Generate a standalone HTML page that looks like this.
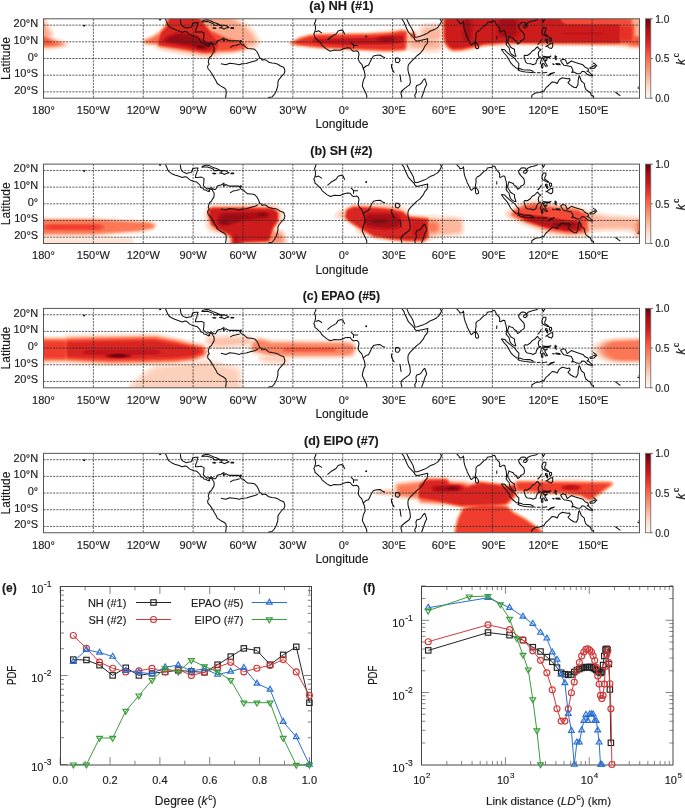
<!DOCTYPE html>
<html><head><meta charset="utf-8"><style>html,body{margin:0;padding:0;background:#fff;width:685px;height:809px;overflow:hidden}svg{display:block;will-change:transform}text{stroke:#1a1a1a;stroke-width:0.15px}</style></head>
<body><svg width="685" height="809" viewBox="0 0 685 809" font-family='"Liberation Sans", sans-serif' fill="#1a1a1a"><defs><linearGradient id="cb" x1="0" y1="0" x2="0" y2="1"><stop offset="0.000" stop-color="#67000d"/><stop offset="0.125" stop-color="#a50f15"/><stop offset="0.250" stop-color="#cb181d"/><stop offset="0.375" stop-color="#ef3b2c"/><stop offset="0.500" stop-color="#fb6a4a"/><stop offset="0.625" stop-color="#fc9272"/><stop offset="0.750" stop-color="#fcbba1"/><stop offset="0.875" stop-color="#fee0d2"/><stop offset="1.000" stop-color="#fff5f0"/></linearGradient><filter id="fblur" x="-5%" y="-20%" width="110%" height="140%"><feGaussianBlur stdDeviation="0.6"/></filter><clipPath id="mapclip"><rect x="43.5" y="0" width="596.0" height="79.4"/></clipPath><clipPath id="ce"><rect x="50" y="578.5" width="270" height="194.0"/></clipPath><clipPath id="cf"><rect x="415" y="580" width="265" height="200"/></clipPath></defs><rect width="685" height="809" fill="#fff"/><g transform="translate(0,18.8)" clip-path="url(#mapclip)"><g filter="url(#fblur)"><path d="M437.5,34.7L419.2,34.6L411.3,33.7L407.6,32.3L405.5,33.6L402.2,34.1L385.5,34.7L322.8,31.7L301.2,29.6L293.3,28.2L289.2,26.8L288.1,25.5L288.0,24.3L290.0,21.7L298.7,17.0L307.8,14.4L317.4,13.1L366.8,12.5L402.6,9.2L406.7,9.5L409.2,11.6L413.0,10.6L416.7,11.5L419.0,7.2L422.5,4.8L432.5,3.5L440.4,3.6L440.5,-3.7L441.7,-6.6L444.6,-8.1L450.6,-8.3L453.0,-10.3L481.1,-10.4L484.9,-8.2L487.8,-10.4L516.9,-10.6L528.2,-10.3L531.0,-8.2L558.8,-8.6L629.9,-5.7L634.1,-4.8L641.5,-4.4L643.6,-3.4L645.2,-1.6L648.2,5.6L652.4,12.6L653.3,15.5L652.8,18.0L665.7,22.4L667.5,23.9L668.0,25.5L667.0,27.6L664.0,29.1L656.1,30.8L647.0,31.6L640.3,31.5L628.2,30.4L625.3,29.6L618.3,29.5L614.5,28.4L523.1,27.6L502.3,28.9L489.9,28.5L481.9,29.7L473.2,32.5L462.0,34.1L454.9,34.6L450.4,33.7L445.4,30.3L442.1,33.5L437.5,34.7ZM212.2,40.1L200.2,39.8L161.1,33.0L157.0,31.2L153.6,28.2L147.4,27.8L143.7,26.6L141.2,24.3L140.7,21.8L142.8,19.4L152.2,15.5L158.2,11.4L163.2,5.6L166.7,-4.5L168.1,-6.6L169.4,-7.5L173.6,-8.2L193.1,-8.2L196.9,-7.8L200.2,-9.0L204.3,-9.3L223.9,-9.2L227.6,-8.6L230.9,-7.2L251.3,7.0L255.6,12.2L260.7,20.1L261.3,23.4L260.4,26.4L257.9,29.1L253.8,31.6L250.9,32.4L247.6,32.5L243.8,34.0L234.3,35.9L220.1,36.7L216.8,39.0L212.2,40.1ZM51.0,31.4L41.8,31.5L29.8,30.4L26.9,29.6L19.8,29.5L16.1,28.4L10.3,28.4L9.9,14.7L10.3,-6.5L32.3,-5.6L35.6,-4.8L42.3,-4.6L45.6,-3.0L47.2,-0.7L49.7,5.6L54.2,13.0L54.8,15.5L54.3,18.0L66.4,22.0L68.6,23.4L69.5,25.1L68.9,27.2L65.9,29.0L58.0,30.8L51.0,31.4Z" fill="#ffebe2" fill-rule="evenodd"/><path d="M455.8,33.9L452.5,33.8L450.0,32.8L444.1,28.2L443.2,30.1L441.6,31.7L436.7,33.2L425.4,33.3L416.7,32.7L411.3,32.0L408.0,30.5L406.7,32.2L404.2,33.3L393.4,34.1L384.3,34.1L317.4,30.7L301.2,29.0L292.4,27.4L289.5,26.2L288.8,24.3L290.8,21.9L299.1,17.5L308.2,14.9L318.2,13.6L368.1,13.1L393.0,11.2L403.8,9.8L407.2,10.4L409.2,12.6L411.7,11.5L415.0,11.7L416.7,12.6L418.0,14.4L419.7,9.3L421.3,7.5L423.4,6.4L435.4,5.0L440.8,5.7L441.3,-4.5L442.5,-6.4L444.1,-7.3L452.9,-7.7L458.0,-10.3L476.8,-10.3L481.5,-7.8L486.5,-7.6L492.7,-10.3L514.8,-10.5L523.1,-10.3L529.3,-7.6L558.8,-7.7L629.5,-4.8L634.1,-3.7L640.7,-3.4L642.8,-2.5L644.3,-0.7L647.1,5.9L651.3,13.0L652.0,15.5L651.4,18.4L664.4,22.8L666.1,24.0L666.6,25.5L665.1,27.6L661.1,29.0L654.4,30.2L644.9,30.8L630.3,29.8L625.3,28.7L619.1,28.6L615.4,27.8L599.2,27.4L520.2,27.0L495.7,27.6L482.7,28.9L463.3,33.3L455.8,33.9ZM211.4,38.9L200.6,38.6L162.4,31.9L158.2,30.4L154.9,27.5L147.8,27.1L144.5,26.2L142.1,24.3L141.5,22.2L143.2,20.0L152.1,16.3L158.3,12.2L163.6,6.2L168.2,-5.7L170.3,-7.2L173.6,-7.6L193.9,-7.5L197.7,-6.5L200.6,-7.3L204.3,-7.6L223.0,-7.6L228.0,-6.9L233.0,-4.3L249.6,7.5L253.8,12.2L259.2,20.5L259.7,23.4L258.8,25.9L256.4,28.4L253.0,30.4L248.0,31.1L243.8,33.2L234.7,35.0L218.9,35.9L215.6,38.0L211.4,38.9ZM51.4,30.5L41.8,30.7L29.8,29.6L26.9,28.7L10.3,27.8L9.9,14.7L10.3,-5.6L32.3,-4.7L35.6,-3.7L42.3,-3.4L44.7,-2.1L46.3,0.1L48.8,6.3L53.2,13.8L53.6,15.9L52.9,18.4L65.5,22.6L67.4,23.9L68.1,25.1L67.6,26.8L65.1,28.3L58.0,29.9L51.4,30.5Z" fill="#fee5d8" fill-rule="evenodd"/><path d="M455.4,33.5L452.0,33.2L448.7,31.6L445.5,28.9L443.3,25.4L442.8,28.0L441.6,29.9L439.6,31.3L437.1,31.9L425.4,32.1L415.5,31.4L410.9,30.5L408.0,28.8L406.7,31.7L404.7,32.8L393.4,33.7L385.5,33.8L317.4,30.3L294.1,27.4L290.4,26.2L289.3,24.3L291.2,22.1L299.1,17.9L308.2,15.3L318.6,14.0L368.1,13.5L391.4,11.9L400.1,10.4L404.2,10.2L407.6,11.2L408.8,14.0L411.3,12.1L415.0,12.3L416.7,13.4L418.0,15.9L419.2,16.1L420.6,10.5L421.9,8.8L423.8,7.7L427.5,6.9L436.2,6.3L439.2,6.6L441.2,7.7L441.7,-4.1L442.5,-5.8L444.1,-6.8L454.1,-7.3L459.5,-8.9L465.7,-9.9L473.2,-9.4L480.7,-7.3L487.8,-7.2L498.2,-9.6L508.6,-10.2L519.4,-9.4L527.7,-7.2L555.9,-7.2L621.2,-4.5L630.3,-4.1L634.1,-2.8L640.3,-2.5L642.0,-1.9L643.5,-0.3L646.3,6.3L650.5,13.4L651.1,15.9L650.2,18.4L653.7,20.1L663.2,23.0L665.1,24.3L665.6,25.5L664.0,27.4L659.8,28.7L654.4,29.7L644.5,30.2L629.1,29.1L625.3,28.0L599.2,27.0L515.6,26.5L497.3,27.1L482.6,28.4L463.3,32.9L455.4,33.5ZM211.0,38.1L200.6,37.7L162.8,31.1L158.6,29.6L155.7,27.1L148.6,26.7L144.9,25.9L142.8,24.3L142.1,22.2L143.7,20.3L152.3,16.8L158.6,12.6L164.0,6.3L168.5,-5.3L170.3,-6.7L173.6,-7.2L193.9,-7.1L196.4,-6.6L198.5,-5.3L201.0,-6.2L204.8,-6.5L223.0,-6.5L228.0,-5.7L233.0,-3.0L249.1,8.4L253.4,13.4L258.2,20.9L258.3,24.3L256.2,27.2L252.1,29.5L248.0,30.0L244.7,32.4L232.6,34.7L218.1,35.4L214.7,37.3L211.0,38.1ZM49.7,30.1L42.3,30.2L30.2,29.0L26.9,28.0L10.3,27.4L9.9,14.7L10.3,-5.0L32.3,-4.0L35.6,-2.8L41.8,-2.5L44.3,-1.2L48.1,6.8L52.3,13.8L52.6,15.9L51.8,18.4L55.2,20.1L64.7,23.0L67.1,25.1L66.4,26.8L63.4,28.2L57.2,29.5L49.7,30.1ZM442.1,22.2L442.2,21.8L442.1,21.3L441.6,21.8L442.1,22.2ZM442.5,23.0L442.5,23.0L442.5,23.0L442.5,23.0Z" fill="#fedccd" fill-rule="evenodd"/><path d="M391.4,33.4L317.8,30.0L294.1,27.1L290.7,25.9L289.8,24.3L291.6,22.2L299.1,18.2L308.2,15.6L318.6,14.3L367.7,13.8L389.7,12.5L400.1,10.7L404.2,10.5L407.2,11.3L408.8,15.1L410.9,12.7L414.2,12.5L416.5,13.8L417.5,16.9L420.4,17.5L420.8,13.8L421.6,11.3L422.9,9.7L425.0,8.6L430.4,7.8L437.5,7.6L440.0,8.5L441.6,10.9L442.0,-3.7L442.9,-5.6L444.6,-6.6L455.4,-6.9L459.9,-8.2L465.7,-8.8L473.2,-8.4L479.5,-6.9L489.4,-6.9L497.3,-8.5L509.4,-8.9L518.9,-8.5L526.0,-6.9L555.9,-6.8L629.5,-3.6L632.0,-3.2L634.1,-2.0L639.9,-1.8L641.5,-1.1L642.8,0.1L645.6,6.8L649.6,13.4L650.2,15.9L649.3,18.4L653.5,20.5L662.3,23.2L664.0,24.3L664.6,25.5L663.0,27.2L658.2,28.6L644.0,29.8L629.5,28.7L625.3,27.5L616.6,27.0L504.0,26.3L486.1,27.6L478.5,28.9L462.8,32.6L454.1,33.2L450.0,31.9L445.8,28.7L443.6,25.1L441.6,18.9L439.7,21.8L441.6,24.2L441.8,27.2L440.5,29.3L438.3,30.5L426.7,31.1L415.0,30.3L410.9,29.3L408.4,26.9L406.9,30.9L405.1,32.3L391.4,33.4ZM212.2,37.2L206.8,37.5L200.6,37.0L163.6,30.6L157.8,28.6L156.1,26.7L149.1,26.4L145.3,25.6L143.2,24.1L142.7,22.2L144.2,20.5L152.4,17.2L158.7,13.0L164.4,6.3L168.6,-4.9L170.7,-6.5L174.0,-6.8L194.4,-6.7L196.9,-6.1L198.9,-4.4L201.4,-5.3L204.8,-5.5L222.6,-5.5L227.6,-4.8L232.6,-2.2L248.4,9.1L252.5,13.8L257.1,20.9L257.3,23.9L255.5,26.5L252.1,28.5L248.0,29.1L246.4,30.9L244.7,31.9L232.2,34.3L217.6,34.8L215.1,36.4L212.2,37.2ZM48.9,29.7L42.7,29.7L31.9,28.8L26.9,27.5L10.3,27.0L10.3,-4.5L31.9,-3.5L35.6,-2.0L41.0,-1.8L43.6,-0.7L44.8,0.9L47.4,7.2L51.4,13.8L51.7,15.9L50.8,18.4L55.0,20.5L63.9,23.2L66.1,25.1L65.3,26.8L62.2,28.0L56.8,29.1L48.9,29.7Z" fill="#fdd0bc" fill-rule="evenodd"/><path d="M458.3,32.6L453.3,32.8L450.0,31.6L445.9,28.4L443.6,24.3L442.1,18.0L442.1,-2.0L442.8,-4.9L444.6,-6.3L456.6,-6.6L460.8,-7.6L465.7,-8.1L472.8,-7.8L478.2,-6.6L491.1,-6.6L498.6,-8.0L513.1,-8.2L519.8,-7.7L524.8,-6.6L555.9,-6.5L563.4,-5.8L630.3,-3.1L632.4,-2.5L634.1,-1.2L639.1,-1.1L641.5,-0.0L645.1,7.6L649.1,14.3L649.1,16.3L648.1,18.0L652.8,20.7L661.9,23.6L663.4,24.7L663.7,25.5L661.9,27.1L657.3,28.3L644.0,29.4L629.5,28.3L625.8,27.0L617.9,26.7L505.2,25.9L484.0,27.6L462.8,32.3L458.3,32.6ZM210.6,36.8L200.6,36.4L163.6,30.0L158.2,28.5L156.1,26.4L145.7,25.4L143.6,23.9L143.2,22.2L144.9,20.6L153.6,16.9L159.0,13.1L164.5,6.8L169.0,-4.9L171.1,-6.3L174.0,-6.5L194.8,-6.4L196.9,-5.7L199.8,-3.3L201.8,-4.3L205.2,-4.6L223.0,-4.5L227.6,-3.8L232.4,-1.2L247.6,9.7L251.4,13.8L256.0,20.9L256.2,23.4L254.6,25.9L251.6,27.6L248.0,28.1L246.3,30.5L244.2,31.7L232.2,34.0L217.6,34.4L213.9,36.2L210.6,36.8ZM49.3,29.3L42.7,29.3L31.9,28.4L29.0,27.9L27.3,27.0L10.3,26.8L10.3,-4.0L31.9,-3.1L33.9,-2.5L35.6,-1.2L40.6,-1.1L43.1,-0.0L46.7,7.6L50.6,14.3L50.7,16.3L49.6,18.0L54.3,20.7L63.1,23.4L65.2,25.1L64.3,26.7L61.4,27.8L49.3,29.3ZM394.7,33.0L383.9,33.1L318.2,29.8L297.0,27.4L291.6,26.1L290.4,25.1L290.2,24.3L292.4,22.0L299.5,18.4L308.7,15.8L318.2,14.6L367.7,14.1L389.7,12.8L400.1,11.0L404.2,10.8L406.3,11.2L407.5,12.2L408.8,16.7L409.4,14.7L410.5,13.4L413.8,12.8L416.3,14.3L417.1,17.9L422.5,19.0L422.9,18.9L421.9,15.9L422.2,13.4L423.2,11.3L425.0,10.0L428.8,9.2L436.2,8.8L438.7,9.5L440.1,10.9L440.8,14.3L440.3,18.4L438.7,20.5L436.4,21.4L439.3,23.0L440.5,25.1L440.2,27.6L438.3,29.2L435.0,29.9L427.1,30.0L414.2,29.0L410.5,27.6L408.8,24.2L408.1,25.1L407.0,30.1L405.6,31.8L402.2,32.5L394.7,33.0Z" fill="#fcc4ad" fill-rule="evenodd"/><path d="M454.5,32.6L450.8,31.8L446.6,28.8L444.3,25.5L442.8,20.5L442.4,16.8L442.4,-2.4L443.1,-4.9L445.0,-6.1L457.0,-6.3L466.2,-7.6L472.0,-7.4L477.8,-6.3L491.1,-6.3L499.4,-7.5L513.1,-7.6L524.3,-6.3L555.9,-6.3L563.4,-5.4L630.3,-2.6L632.4,-2.0L634.1,-0.2L639.1,-0.0L641.1,1.1L644.3,8.0L648.0,14.3L648.1,15.9L647.1,18.0L652.4,20.9L661.3,23.9L662.7,25.5L661.1,26.9L656.5,28.1L644.0,29.0L629.5,27.9L625.8,26.6L505.2,25.7L485.1,27.2L462.8,32.0L454.5,32.6ZM208.9,36.4L199.8,35.8L159.9,28.7L157.8,27.9L156.1,26.0L145.7,25.0L144.1,23.9L143.6,22.6L144.9,21.0L153.1,17.6L159.0,13.6L164.8,6.8L169.0,-4.5L170.7,-5.8L174.0,-6.3L194.8,-6.1L197.3,-5.1L200.2,-2.2L202.6,-3.3L205.6,-3.5L222.6,-3.5L227.2,-2.8L231.7,-0.3L247.0,10.5L250.9,15.0L254.9,21.4L254.9,23.4L253.8,25.1L251.3,26.5L247.6,27.2L246.3,30.0L243.8,31.4L232.2,33.6L217.6,34.1L215.1,35.4L208.9,36.4ZM49.7,28.9L42.7,28.9L31.9,28.0L27.3,26.6L10.3,26.5L10.3,-3.6L31.9,-2.7L33.9,-2.0L35.6,-0.2L40.2,-0.1L42.3,0.7L49.5,14.3L49.6,15.9L48.6,18.0L53.9,20.9L62.2,23.6L64.2,25.1L63.6,26.4L60.5,27.6L49.7,28.9ZM432.5,20.1L427.9,19.9L424.9,18.4L423.7,15.5L424.1,13.4L425.0,12.2L427.5,11.0L432.3,10.5L436.0,10.5L438.0,11.3L439.1,14.3L438.5,18.0L436.7,19.5L432.5,20.1ZM396.3,32.6L384.3,32.9L322.8,29.9L297.8,27.2L292.0,25.9L290.9,25.1L290.7,24.3L292.7,22.2L299.1,18.8L307.8,16.2L314.5,15.3L319.9,14.8L367.7,14.3L389.7,13.0L401.3,11.1L406.3,11.5L407.6,13.0L408.7,20.1L406.7,30.1L405.7,31.4L404.2,32.0L396.3,32.6ZM435.4,28.5L422.1,28.5L415.0,27.9L412.1,27.0L410.9,25.9L410.1,23.9L410.7,20.1L409.3,17.6L409.8,14.7L411.7,13.2L414.2,13.2L415.8,14.3L416.5,15.5L416.3,19.1L433.1,22.2L437.3,23.4L438.7,24.9L438.7,26.7L437.5,27.9L435.4,28.5Z" fill="#fcb89e" fill-rule="evenodd"/><path d="M457.0,32.2L452.9,32.2L449.5,30.8L445.9,27.6L444.0,23.9L442.6,17.6L442.6,-2.0L443.2,-4.5L445.0,-5.8L458.3,-6.1L466.6,-7.1L476.6,-6.1L492.8,-6.1L500.2,-7.1L513.1,-7.1L523.1,-6.1L555.9,-6.0L563.0,-5.0L629.9,-2.3L632.7,-1.2L634.1,1.3L638.2,1.5L640.2,2.6L642.5,8.0L646.2,14.3L646.2,15.9L645.2,17.2L645.6,17.6L651.9,21.1L660.2,23.9L661.4,24.7L661.7,25.5L660.1,26.8L656.1,27.8L644.0,28.6L629.5,27.5L625.8,26.2L505.2,25.4L484.5,27.0L463.3,31.7L457.0,32.2ZM212.2,35.6L207.2,35.9L201.0,35.5L160.3,28.5L157.9,27.6L156.5,25.8L146.2,24.8L144.6,23.9L144.1,22.6L145.3,21.2L153.2,17.9L159.0,14.0L165.1,6.8L169.3,-4.5L171.1,-5.7L173.6,-6.0L195.2,-5.8L197.7,-4.4L201.4,-0.3L202.9,-1.6L205.6,-2.0L222.6,-2.0L226.8,-1.4L231.0,0.9L245.7,11.3L249.2,15.1L253.0,20.9L253.3,22.6L252.7,23.9L250.5,25.2L247.6,25.6L246.4,29.3L244.1,30.9L232.2,33.3L217.2,33.8L215.6,35.0L212.2,35.6ZM50.6,28.5L43.1,28.6L32.3,27.7L29.4,27.2L27.3,26.2L10.3,26.2L10.3,-3.2L31.9,-2.2L34.2,-1.2L35.6,1.3L39.3,1.4L41.3,2.2L47.7,14.3L47.7,15.9L46.8,17.2L47.1,17.6L53.1,20.9L61.4,23.7L63.2,25.1L62.5,26.4L60.1,27.2L50.6,28.5ZM393.9,32.6L384.3,32.7L322.8,29.7L297.8,27.0L292.4,25.8L291.4,25.1L291.1,24.3L293.1,22.2L299.9,18.7L308.2,16.4L317.4,15.2L367.7,14.6L389.7,13.3L401.3,11.3L406.3,11.8L407.5,13.8L407.8,20.5L407.4,26.4L406.3,30.3L405.5,31.2L403.8,31.8L393.9,32.6ZM413.4,20.2L410.9,19.5L409.6,17.2L410.2,14.7L412.6,13.4L415.0,14.0L416.3,16.3L415.7,18.9L413.4,20.2ZM431.7,15.5L431.7,15.5L431.7,15.5L431.7,15.5ZM429.6,26.8L422.9,26.8L415.0,26.0L412.7,24.7L412.2,22.6L413.4,21.0L416.3,20.9L431.3,23.9L434.0,24.7L434.9,25.5L433.8,26.4L429.6,26.8Z" fill="#fcab8f" fill-rule="evenodd"/><path d="M460.8,31.8L454.1,32.1L451.6,31.6L447.4,28.9L444.7,25.1L443.1,19.7L442.8,15.5L442.9,-2.4L443.3,-4.2L444.6,-5.4L459.5,-5.9L466.6,-6.7L476.1,-5.8L492.8,-5.8L500.7,-6.6L512.7,-6.7L522.7,-5.8L555.9,-5.8L559.3,-4.8L563.0,-4.6L629.9,-1.9L632.0,-1.2L633.2,0.5L633.6,4.3L635.0,5.9L635.5,7.6L635.7,16.0L643.6,17.1L651.5,21.4L659.0,23.9L660.7,25.1L659.7,26.4L656.1,27.4L644.0,28.3L629.5,27.1L626.2,25.8L504.8,25.2L483.2,27.0L460.8,31.8ZM213.1,35.1L203.1,35.3L160.3,28.3L158.2,27.5L156.5,25.4L147.2,24.7L145.3,23.9L144.7,22.6L145.9,21.4L153.2,18.3L159.0,14.5L165.1,7.2L168.7,-2.8L170.7,-5.3L174.0,-5.8L194.8,-5.6L198.1,-3.7L210.2,10.4L226.6,18.0L242.2,22.3L245.5,24.1L246.8,25.9L246.8,27.6L246.0,29.3L243.0,30.9L232.2,32.9L217.2,33.4L215.6,34.7L213.1,35.1ZM51.0,28.0L43.5,28.2L32.7,27.3L29.4,26.8L27.7,25.8L10.3,26.0L10.3,-2.8L30.6,-2.0L33.5,-1.2L34.8,0.5L35.2,4.3L36.9,7.2L37.3,16.0L45.2,17.1L53.1,21.4L60.5,23.9L62.2,25.1L61.4,26.3L58.9,27.1L51.0,28.0ZM395.5,32.2L384.3,32.4L323.2,29.5L298.3,26.8L292.9,25.6L291.5,24.3L293.6,22.2L299.9,19.0L308.7,16.6L317.8,15.4L367.7,14.8L389.7,13.5L401.3,11.6L405.9,11.9L407.1,13.0L407.4,15.5L407.3,25.1L406.1,30.1L403.8,31.6L395.5,32.2ZM413.8,19.7L411.7,19.6L410.2,18.0L410.2,15.5L411.7,13.9L414.2,13.9L415.8,15.5L415.8,18.0L413.8,19.7Z" fill="#fc9d7f" fill-rule="evenodd"/><path d="M456.2,31.8L452.5,31.6L448.7,29.7L445.9,26.8L444.2,23.0L443.1,17.6L443.1,-1.6L443.5,-4.1L445.0,-5.3L467.4,-6.3L474.9,-5.6L494.8,-5.6L508.1,-6.3L521.0,-5.6L555.1,-5.6L557.6,-5.3L559.3,-4.5L562.6,-4.2L629.5,-1.5L631.2,-1.1L632.5,0.1L633.2,4.7L634.8,6.8L635.3,16.4L643.6,17.5L651.1,21.6L657.7,23.9L659.5,25.1L658.3,26.4L655.3,27.1L644.0,27.9L629.6,26.8L626.6,25.4L606.6,25.8L504.8,25.0L484.9,26.5L462.8,31.3L456.2,31.8ZM205.2,35.1L160.3,28.1L158.2,27.2L157.0,25.1L147.4,24.3L145.7,23.6L145.3,22.6L146.8,21.4L154.0,18.3L159.0,14.9L165.4,7.2L168.8,-2.4L170.7,-5.0L173.6,-5.5L193.1,-5.5L195.6,-5.2L197.7,-3.8L210.2,10.8L226.4,18.3L243.0,23.2L245.5,24.6L246.4,25.9L246.4,27.6L245.5,29.3L242.2,30.8L231.8,32.6L217.2,33.0L215.9,34.3L213.9,34.8L205.2,35.1ZM51.4,27.6L43.5,27.9L32.7,26.9L29.8,26.5L28.1,25.4L10.3,25.8L10.3,-2.5L30.6,-1.6L33.3,-0.7L34.5,0.9L34.8,4.7L36.0,5.9L36.6,7.6L36.8,16.3L45.2,17.5L52.6,21.6L59.2,23.9L61.0,25.1L60.6,25.9L58.5,26.8L51.4,27.6ZM393.0,32.2L384.3,32.2L323.2,29.2L298.7,26.7L293.3,25.5L291.9,24.3L293.7,22.4L299.9,19.2L308.7,16.8L317.8,15.6L367.7,15.0L390.1,13.7L401.3,11.8L406.0,12.2L407.1,14.3L407.2,22.6L406.8,26.8L405.8,30.1L403.4,31.4L393.0,32.2ZM413.8,19.4L411.7,19.2L410.4,17.6L410.5,15.5L412.1,14.2L414.2,14.3L415.6,15.9L415.4,18.0L413.8,19.4Z" fill="#fc9070" fill-rule="evenodd"/><path d="M460.3,31.4L454.1,31.7L451.6,31.1L447.5,28.3L445.0,24.7L443.6,19.7L443.3,14.7L443.3,-2.4L443.8,-4.1L445.0,-5.0L467.4,-5.9L474.9,-5.4L508.1,-5.9L520.6,-5.4L555.1,-5.4L557.6,-5.1L559.7,-4.0L562.6,-3.8L629.5,-1.1L631.2,-0.6L632.2,0.5L632.8,4.7L634.5,7.2L634.9,16.6L643.6,18.0L650.7,21.8L657.2,24.3L658.2,25.1L657.6,25.9L654.7,26.8L643.6,27.5L629.9,26.4L626.6,25.1L606.6,25.6L505.2,24.7L483.2,26.5L460.3,31.4ZM208.1,34.7L202.7,34.7L179.0,30.5L160.3,27.8L158.2,26.9L157.0,24.6L148.2,24.0L146.6,23.4L146.2,22.6L147.1,21.8L154.0,18.8L159.0,15.5L165.7,7.2L169.0,-2.4L170.7,-4.7L173.6,-5.3L193.1,-5.3L195.6,-4.9L197.5,-3.7L210.2,11.2L226.4,18.7L242.6,23.4L245.1,24.7L246.1,26.4L245.1,29.1L241.7,30.5L231.8,32.3L217.2,32.6L214.7,34.5L208.1,34.7ZM51.4,27.2L43.9,27.5L35.4,26.8L30.6,26.2L28.1,25.1L10.3,25.6L10.3,-2.0L30.2,-1.2L33.1,-0.3L34.1,1.3L34.4,4.7L36.1,7.6L36.4,16.6L45.2,18.0L52.2,21.8L58.7,24.3L59.7,25.1L59.1,25.9L57.6,26.5L51.4,27.2ZM395.1,31.8L384.3,32.0L323.2,29.0L298.7,26.4L293.7,25.3L292.4,24.3L294.1,22.4L300.3,19.3L308.7,17.0L317.8,15.9L367.7,15.3L390.1,13.9L401.3,12.0L405.9,12.5L406.9,14.3L406.9,22.6L405.8,29.7L403.8,31.1L395.1,31.8ZM413.8,19.0L411.8,18.9L410.7,17.6L410.9,15.6L412.1,14.5L414.2,14.7L415.2,15.9L415.0,18.0L413.8,19.0Z" fill="#fc8464" fill-rule="evenodd"/><path d="M455.8,31.4L452.0,31.0L448.4,28.9L445.9,25.9L444.4,22.2L443.5,17.2L443.5,-1.6L443.9,-3.7L445.4,-4.9L507.3,-5.6L555.1,-5.1L557.6,-4.8L559.7,-3.6L562.2,-3.4L629.1,-0.7L631.6,0.5L632.2,2.2L632.3,5.1L634.1,7.2L634.5,17.1L643.5,18.4L656.5,25.1L655.6,25.9L653.8,26.4L643.6,27.0L630.2,25.9L627.0,24.7L621.2,24.6L618.3,25.3L607.5,25.3L505.2,24.5L484.5,26.1L462.8,30.8L455.8,31.4ZM214.3,34.3L203.1,34.5L179.4,30.3L160.7,27.6L158.5,26.8L157.0,24.1L149.5,23.6L147.6,22.6L154.5,19.2L159.0,16.2L160.9,13.0L165.7,7.6L169.3,-2.4L170.9,-4.5L174.0,-5.1L194.6,-4.9L197.7,-3.1L210.2,11.5L225.9,18.9L242.6,23.9L244.8,25.1L245.6,26.4L244.7,28.9L242.2,30.0L231.8,31.9L217.2,32.2L216.0,33.6L214.3,34.3ZM50.6,26.8L43.1,26.9L32.7,26.0L30.2,25.6L28.5,24.7L10.3,25.3L10.3,-1.6L29.8,-0.7L32.7,0.0L33.7,1.8L33.9,5.1L35.2,6.3L35.8,8.0L36.0,17.1L45.0,18.4L58.0,25.1L56.0,26.2L50.6,26.8ZM397.6,31.4L384.3,31.7L323.2,28.8L299.7,26.4L294.5,25.3L292.9,24.3L294.3,22.6L300.3,19.6L309.1,17.2L317.8,16.1L368.1,15.5L390.1,14.2L401.3,12.3L405.5,12.5L406.4,13.4L406.7,15.9L406.6,24.7L405.7,29.3L403.8,30.8L397.6,31.4ZM413.8,18.6L412.1,18.6L411.1,17.6L411.1,15.9L412.1,14.9L413.8,14.9L414.8,15.9L414.8,17.6L413.8,18.6Z" fill="#fb7757" fill-rule="evenodd"/><path d="M458.7,30.9L454.1,31.2L451.5,30.5L447.5,27.6L445.3,24.3L443.8,18.0L443.7,0.5L444.0,-3.3L445.4,-4.6L507.3,-5.2L555.1,-4.9L557.8,-4.5L559.7,-3.1L561.8,-2.9L629.1,-0.1L630.7,0.5L631.4,1.3L631.8,5.5L633.7,7.6L634.1,17.7L642.9,18.9L654.1,25.1L651.4,25.9L643.6,26.4L630.7,25.4L627.8,24.2L621.2,24.2L619.1,25.0L615.8,25.1L504.8,24.3L484.5,25.9L463.2,30.5L458.7,30.9ZM206.8,34.3L203.0,34.3L179.0,30.0L160.3,27.3L158.2,26.0L157.4,23.2L151.6,22.6L151.0,22.2L159.0,17.1L160.9,13.4L166.0,7.6L169.4,-2.2L171.1,-4.3L173.6,-4.8L193.1,-4.8L195.6,-4.4L197.3,-3.2L210.6,12.2L225.9,19.4L242.5,24.3L244.2,25.2L245.0,26.4L244.4,28.4L241.6,29.7L231.8,31.4L217.2,31.7L214.7,33.9L206.8,34.3ZM48.1,26.4L32.7,25.5L30.6,25.1L29.4,24.2L22.7,24.2L19.8,25.1L10.3,25.1L10.3,-1.1L29.8,-0.2L32.3,0.5L33.3,2.2L33.3,5.5L34.5,6.3L35.3,8.0L35.6,17.7L44.4,18.9L55.6,25.1L53.5,25.9L48.1,26.4ZM394.3,31.4L384.3,31.5L323.2,28.5L298.7,25.9L294.5,25.0L293.5,23.9L295.6,22.2L300.9,19.7L308.7,17.5L317.9,16.3L368.1,15.8L390.1,14.5L401.3,12.5L405.5,12.9L406.4,14.7L406.4,22.6L405.4,29.3L403.4,30.6L394.3,31.4ZM413.8,18.1L412.6,18.3L411.6,17.6L411.4,16.3L412.1,15.4L413.4,15.2L414.3,15.9L414.5,17.2L413.8,18.1Z" fill="#fb694a" fill-rule="evenodd"/><path d="M213.5,33.9L203.1,34.0L179.8,29.8L160.3,27.0L158.9,26.4L158.1,25.1L158.0,20.5L160.7,14.2L166.3,7.6L169.4,-1.5L171.1,-4.0L174.0,-4.6L194.8,-4.3L197.6,-2.4L210.6,12.8L225.5,19.8L242.0,24.7L243.8,25.7L244.4,26.8L244.0,28.0L242.6,28.9L234.3,30.5L221.4,31.4L217.2,31.1L215.6,33.2L213.5,33.9ZM454.9,31.0L451.6,30.3L447.9,27.7L445.8,24.7L444.6,20.9L444.0,16.8L444.0,-1.6L444.5,-3.7L445.8,-4.5L555.1,-4.6L557.6,-4.3L560.1,-2.4L561.8,-2.3L628.7,0.5L630.7,1.7L631.0,5.5L632.6,6.8L633.2,8.0L633.7,18.6L642.5,19.7L650.2,24.3L649.0,25.2L643.6,25.5L631.6,24.6L628.2,23.7L621.2,23.7L619.5,24.7L616.6,24.8L504.8,24.0L484.0,25.7L462.4,30.4L454.9,31.0ZM50.6,25.2L42.3,25.4L32.7,24.5L29.8,23.7L22.7,23.7L19.8,24.8L10.3,24.8L10.3,-0.5L29.4,0.4L31.6,0.9L32.7,2.6L32.7,5.9L34.1,6.8L34.9,8.4L35.2,18.6L42.0,19.3L45.1,20.1L51.3,23.9L51.8,24.7L50.6,25.2ZM395.5,31.0L384.3,31.2L323.2,28.2L300.7,25.9L295.4,24.9L294.1,23.9L297.7,21.4L301.9,19.7L309.1,17.8L317.8,16.7L368.1,16.1L385.5,15.2L400.9,12.9L405.1,13.0L406.0,14.3L406.2,17.6L406.0,25.1L405.1,29.2L403.0,30.4L395.5,31.0ZM413.4,17.7L412.0,17.2L412.6,15.8L413.9,16.3L413.4,17.7Z" fill="#f75b40" fill-rule="evenodd"/><path d="M213.9,33.5L203.5,33.8L179.4,29.5L160.7,26.8L159.4,26.4L158.4,25.1L158.3,20.9L161.0,14.3L166.7,7.6L169.8,-1.7L171.2,-3.7L174.0,-4.3L194.6,-4.1L197.3,-2.4L211.0,13.7L224.7,20.3L238.7,24.3L241.9,25.5L243.3,26.8L243.0,27.6L241.3,28.4L232.6,30.0L217.2,30.4L215.8,32.6L213.9,33.5ZM456.6,30.5L452.9,30.5L449.7,28.9L447.0,26.3L445.4,22.8L444.3,17.6L444.3,-0.7L444.6,-3.0L445.8,-4.2L555.9,-4.3L558.2,-3.7L560.5,-1.5L628.2,1.4L629.5,1.9L630.1,3.0L630.1,4.7L629.3,5.9L632.0,7.1L632.8,9.3L632.9,19.7L632.0,22.2L629.5,23.1L621.2,23.1L618.7,24.5L504.8,23.8L484.5,25.3L462.6,30.1L456.6,30.5ZM21.1,24.3L10.3,24.6L10.3,0.4L30.2,1.4L31.4,2.2L31.8,3.4L31.0,5.9L33.1,6.8L34.1,8.0L34.4,19.7L33.6,22.2L31.0,23.1L22.7,23.1L21.1,24.3ZM396.3,30.5L384.3,30.8L323.6,27.9L300.2,25.5L296.0,24.7L294.9,23.9L296.9,22.2L301.7,20.1L309.6,18.0L318.2,17.0L367.7,16.4L389.7,15.1L401.3,13.2L404.9,13.4L405.8,15.1L405.8,22.2L404.8,28.9L403.0,30.0L396.3,30.5Z" fill="#f34c37" fill-rule="evenodd"/><path d="M206.0,33.4L203.1,33.4L179.0,29.1L161.5,26.6L159.1,25.5L158.5,21.8L160.3,16.5L161.9,13.6L166.8,8.0L171.1,-3.1L173.6,-3.9L192.7,-3.9L194.8,-3.7L196.9,-2.3L216.4,20.5L219.3,25.1L218.4,27.6L215.1,32.7L213.5,33.2L206.0,33.4ZM458.7,30.1L454.1,30.3L451.7,29.7L448.3,27.3L446.2,24.2L445.0,20.1L444.6,16.3L444.6,-1.6L445.0,-3.1L445.8,-3.8L555.9,-4.0L558.4,-3.1L562.6,2.2L565.9,4.7L618.3,5.1L619.5,5.3L620.8,7.1L630.3,7.3L631.6,8.1L632.1,9.7L632.1,18.9L631.5,21.4L629.1,22.3L620.8,22.2L619.9,23.7L618.7,24.2L504.8,23.5L484.9,25.0L463.1,29.7L458.7,30.1ZM21.1,24.0L10.3,24.3L10.3,5.1L20.6,5.2L21.8,5.9L22.3,7.1L30.6,7.0L33.1,8.1L33.7,10.1L33.7,17.2L33.0,21.4L30.6,22.3L22.3,22.2L21.1,24.0ZM395.9,30.1L384.3,30.4L323.6,27.4L300.6,25.1L296.0,23.9L298.7,21.8L303.4,20.1L309.9,18.4L318.2,17.4L368.1,16.9L386.0,15.9L400.9,13.7L404.5,13.8L405.3,15.5L405.3,22.2L404.5,28.4L402.6,29.6L395.9,30.1Z" fill="#f03d2d" fill-rule="evenodd"/><path d="M459.9,29.7L452.5,29.6L448.7,27.2L446.6,24.2L445.3,20.1L444.9,16.3L445.0,-1.4L445.3,-2.8L446.2,-3.5L555.7,-3.7L558.1,-2.8L563.4,3.8L566.3,5.3L618.1,5.5L619.9,6.3L620.8,8.8L622.8,8.4L628.7,8.4L630.3,9.3L630.7,10.5L630.8,18.0L630.3,20.1L627.8,21.0L620.8,20.5L619.9,23.1L618.3,23.8L504.8,23.1L482.8,24.9L459.9,29.7ZM205.6,33.0L161.5,26.2L159.5,25.2L158.9,21.8L160.7,16.6L161.9,14.2L167.3,8.0L170.3,-0.7L171.5,-2.8L174.0,-3.5L193.1,-3.5L195.2,-3.0L196.9,-1.7L213.5,18.0L218.4,24.7L218.1,26.9L215.0,32.2L213.1,32.8L205.6,33.0ZM19.4,23.9L10.3,23.9L10.3,5.5L20.2,5.6L21.5,6.3L22.3,8.8L29.4,8.4L31.9,9.3L32.4,15.5L31.9,20.1L29.4,21.0L22.3,20.5L21.5,23.1L19.4,23.9ZM395.9,29.3L384.7,29.6L323.6,26.6L300.5,24.3L298.1,23.4L300.7,21.8L307.8,19.7L318.6,18.2L368.1,17.7L392.6,16.0L400.9,14.5L403.8,14.6L404.5,15.9L404.6,20.5L403.8,27.8L402.3,28.9L395.9,29.3Z" fill="#e53228" fill-rule="evenodd"/><path d="M213.1,32.2L203.1,32.3L180.2,28.2L161.5,25.5L159.7,24.3L159.6,21.4L162.4,14.7L168.0,8.0L170.7,-0.0L172.1,-2.4L174.4,-2.9L193.9,-2.8L196.9,-0.8L217.3,23.9L217.7,25.9L216.4,29.0L215.0,31.4L213.1,32.2ZM457.9,29.3L453.7,29.4L451.2,28.4L448.3,26.0L446.6,22.8L445.6,18.4L445.4,13.0L445.5,-1.2L445.8,-2.4L446.6,-3.0L555.5,-3.2L557.8,-2.4L563.0,4.1L566.3,5.8L617.4,6.0L619.1,6.3L619.8,7.6L619.8,21.4L619.5,22.6L618.3,23.3L504.4,22.6L484.9,24.1L462.9,28.9L457.9,29.3ZM20.6,23.0L10.3,23.4L10.3,6.0L19.4,6.0L21.1,6.8L21.4,20.5L20.6,23.0ZM389.7,26.0L347.3,26.2L322.0,25.3L313.6,24.0L312.1,23.0L311.7,21.8L312.4,20.4L314.5,19.9L371.0,18.6L383.5,16.9L400.1,16.2L402.2,16.4L403.4,17.2L404.0,18.9L403.9,22.2L403.6,23.4L402.6,24.4L389.7,26.0Z" fill="#d92523" fill-rule="evenodd"/><path d="M457.0,28.5L453.7,28.5L451.5,27.6L449.1,25.5L447.5,22.6L446.5,18.4L446.3,13.0L446.3,-0.3L446.6,-1.7L447.5,-2.2L555.1,-2.3L557.4,-1.6L562.6,4.9L565.9,6.6L616.6,6.9L618.4,7.2L619.0,8.4L619.0,20.9L618.7,21.9L617.4,22.5L504.8,21.7L484.5,23.2L462.6,28.0L457.0,28.5ZM19.8,22.2L10.3,22.5L10.3,6.9L18.6,6.9L20.2,7.5L20.5,20.1L19.8,22.2ZM206.4,31.5L198.5,31.3L194.8,29.6L165.7,24.5L162.8,22.6L162.8,20.5L164.0,18.9L166.9,16.8L174.0,13.8L178.2,13.0L187.3,13.4L195.2,15.9L209.7,23.9L212.2,26.4L212.6,28.9L210.6,30.7L206.4,31.5ZM388.9,25.5L347.3,25.7L322.4,24.8L313.7,23.4L312.5,22.6L312.3,21.8L312.8,20.9L314.5,20.4L371.4,19.1L380.1,17.6L388.4,16.9L395.5,17.2L400.9,16.7L403.0,17.6L403.5,21.8L402.3,23.9L388.9,25.5Z" fill="#ce1a1e" fill-rule="evenodd"/><path d="M510.2,19.3L500.9,19.3L498.6,18.5L497.1,17.2L496.4,13.8L496.5,3.4L497.0,0.9L498.6,-0.7L503.2,-1.7L512.3,-1.8L516.1,-1.2L518.6,0.5L519.4,4.7L519.4,13.0L518.9,15.9L517.7,17.5L516.0,18.3L510.2,19.3ZM468.7,23.1L465.7,23.1L463.4,22.2L462.2,20.5L461.6,18.0L461.9,1.8L463.3,-0.4L466.6,-1.5L469.5,-1.3L471.6,-0.4L472.7,0.9L473.2,3.4L472.9,19.3L471.5,21.8L468.7,23.1ZM11.1,15.6L10.3,15.9L10.3,13.5L11.6,14.3L11.1,15.6ZM206.4,31.0L198.8,30.9L196.4,30.2L194.8,29.0L167.6,24.3L164.5,23.0L163.8,20.9L165.0,19.3L167.3,17.6L174.6,14.7L181.5,13.7L188.5,14.7L197.4,18.0L209.9,25.1L211.4,27.2L211.4,28.9L209.9,30.1L206.4,31.0ZM602.1,15.6L566.3,15.8L561.8,15.5L560.1,14.7L563.0,13.7L572.1,13.5L599.2,13.6L602.4,13.8L604.1,14.7L602.1,15.6ZM390.1,24.7L347.7,24.9L322.8,24.1L315.3,23.0L314.1,22.6L313.7,21.8L315.3,21.2L329.0,20.7L371.4,19.8L375.1,19.5L380.3,18.0L388.9,17.3L395.9,17.9L400.9,17.5L402.5,18.4L402.7,21.8L401.7,23.2L390.1,24.7Z" fill="#c2161b" fill-rule="evenodd"/><path d="M510.2,18.5L501.9,18.5L499.8,17.8L498.6,16.8L497.8,13.8L497.8,3.8L498.4,1.3L499.7,0.1L503.6,-0.9L511.9,-1.0L515.3,-0.3L517.4,1.3L518.1,6.3L517.5,15.5L515.2,17.6L510.2,18.5ZM467.8,22.2L465.7,22.1L463.9,20.9L463.1,19.3L462.8,15.9L463.1,2.2L464.6,0.1L467.4,-0.6L469.5,-0.3L471.1,0.9L472.0,5.1L471.7,18.9L470.3,21.2L467.8,22.2ZM206.4,30.5L203.1,30.9L198.6,30.5L196.4,29.8L194.8,28.3L168.2,23.7L165.5,22.6L164.9,20.9L165.7,19.7L168.0,18.0L174.4,15.4L181.1,14.4L187.4,15.1L195.9,18.0L208.7,25.1L210.2,26.8L210.4,28.4L206.4,30.5ZM392.2,23.5L380.1,23.6L376.4,22.5L375.7,20.9L377.5,19.3L383.0,18.2L391.8,17.8L395.8,18.9L396.6,19.7L396.7,21.4L395.1,22.7L392.2,23.5Z" fill="#b61319" fill-rule="evenodd"/><path d="M510.6,17.2L503.2,17.2L501.5,16.7L500.4,15.5L499.8,13.0L499.9,4.3L500.4,2.2L501.8,0.9L505.2,0.2L511.1,0.2L514.0,0.9L515.4,2.2L516.1,5.5L515.7,14.3L514.0,16.3L510.6,17.2ZM468.2,20.3L467.0,20.4L465.6,19.7L464.8,16.3L464.9,3.5L465.7,1.7L467.4,1.1L469.4,2.2L470.1,5.1L470.0,17.2L469.5,19.1L468.2,20.3ZM206.0,30.1L202.7,30.5L198.5,30.1L196.5,29.3L194.8,27.5L169.5,23.0L167.2,22.2L166.5,20.9L167.3,19.7L169.8,18.0L175.7,15.9L181.5,15.2L187.3,15.9L194.8,18.4L207.1,25.1L208.5,26.4L208.9,27.6L206.0,30.1ZM389.7,23.0L380.6,22.8L378.4,22.2L377.5,20.9L378.2,20.1L380.1,19.3L385.5,18.6L391.8,18.6L394.6,19.7L394.9,20.9L394.3,21.8L389.7,23.0Z" fill="#a91016" fill-rule="evenodd"/><path d="M205.2,29.7L198.5,29.6L196.4,28.4L195.6,26.4L172.0,22.2L169.8,21.4L169.4,20.5L172.0,18.4L178.2,16.7L183.1,16.5L189.0,17.6L195.6,20.1L204.5,25.1L206.6,28.0L206.4,29.0L205.2,29.7ZM387.6,22.2L382.6,22.0L380.7,20.9L382.6,20.0L387.2,19.4L390.8,19.7L392.1,20.5L390.7,21.8L387.6,22.2Z" fill="#980c13" fill-rule="evenodd"/><path d="M203.5,29.3L198.2,28.9L197.0,28.0L196.9,26.9L198.9,26.0L203.4,26.8L205.3,28.0L205.0,28.9L203.5,29.3Z" fill="#840711" fill-rule="evenodd"/><path d="M201.4,28.5L199.8,28.3L198.5,27.6L200.2,27.0L202.7,28.0L201.4,28.5Z" fill="#71020e" fill-rule="evenodd"/></g></g><path d="M43.5,25.14H639.5M43.5,41.82H639.5M43.5,58.5H639.5M43.5,75.18H639.5M43.5,91.86H639.5M93.37,18.8V98.2M143.24,18.8V98.2M193.12,18.8V98.2M242.99,18.8V98.2M292.86,18.8V98.2M342.73,18.8V98.2M392.6,18.8V98.2M442.48,18.8V98.2M492.35,18.8V98.2M542.22,18.8V98.2M592.09,18.8V98.2" stroke="#2a2a2a" stroke-width="0.75" stroke-dasharray="2.1,1.1" fill="none"/><g transform="translate(0,18.8)" clip-path="url(#mapclip)"><path d="M165.4,0.1L167.0,3.8L167.7,5.8L169.3,7.8L171.5,9.3L174.8,10.8L178.2,12.0L182.3,13.5L184.8,12.7L186.5,12.8L189.5,15.5L191.5,16.5L193.9,17.3L196.8,18.0L197.6,18.7L199.8,20.9L200.3,21.7L200.1,22.7L201.3,23.7L203.1,24.0L203.9,25.7L205.8,26.0L207.4,26.9L209.1,27.5L209.7,27.0L208.9,26.2L210.4,24.9L212.2,25.7L213.1,27.4L213.9,28.4L214.2,30.5L213.9,33.0L212.2,35.5L211.4,37.2L209.7,38.4L208.9,40.5L208.2,43.0L209.2,45.4L207.6,47.2L207.9,49.7L210.1,52.2L212.2,55.5L214.4,59.4L216.1,62.2L217.2,64.7L220.5,67.1L223.9,68.9L225.9,70.6L226.2,73.9L226.0,76.4L225.5,79.3M159.2,0.1L159.9,1.3L160.7,1.0L160.5,0.1M180.3,0.1L180.6,3.0L181.1,5.5L182.6,7.5L184.8,8.7L186.5,9.3L189.0,8.7L191.0,8.5L192.3,6.7L192.6,4.7L195.6,3.8L198.1,3.8L197.3,5.8L196.8,8.8L195.9,10.5L195.4,13.3L197.3,13.3L201.4,13.0L204.1,14.3L203.9,16.3L203.8,18.9L203.3,21.4L204.8,23.0L207.2,24.9L209.7,24.2L211.4,23.7L214.1,25.4L215.1,25.5L216.4,24.2L217.2,22.2L218.9,21.4L220.9,20.9L222.7,19.9L223.9,19.0L224.2,20.2L223.2,21.4L223.7,22.2L224.4,21.7L226.0,20.4L228.9,22.0L233.0,22.0L236.3,22.0L238.8,22.0L239.7,23.0L241.3,25.4L243.3,25.9L245.5,28.0L247.6,29.7L251.3,29.9L254.6,30.5L256.8,32.7L257.9,34.7L258.8,36.7L259.6,38.9L261.3,40.0L262.1,41.4L263.8,40.7L266.3,41.4L268.8,43.5L272.1,44.2L274.6,44.5L277.9,45.5L280.4,47.2L283.7,48.4L284.5,50.5L284.9,52.2L284.2,54.7L282.1,56.9L280.4,58.9L278.7,61.1L277.9,63.1L277.9,66.4L277.1,69.7L276.2,72.2L274.9,74.7L273.7,76.4L272.1,78.1L269.6,78.4L267.9,79.3M201.6,3.2L203.1,1.8L206.4,1.0L208.9,1.3L211.4,2.5L213.9,3.7L216.4,4.5L219.4,5.8L217.2,6.5L213.9,6.5L213.4,5.2L210.6,3.8L207.2,2.8L204.8,3.0L201.6,3.2M219.0,6.5L221.7,6.5L224.7,6.5L227.2,7.5L229.0,8.7L226.4,9.3L224.0,10.3L223.0,9.5L219.4,9.0L221.7,8.7L221.9,7.2L219.0,6.5M212.6,9.0L215.9,9.3L215.1,9.8L212.7,9.3L212.6,9.0M231.0,8.8L233.7,9.0L233.5,9.7L231.0,9.7L231.0,8.8M239.8,21.9L241.3,21.7L241.3,22.9L239.8,22.9M220.9,44.9L226.0,46.0L229.5,44.4L234.2,44.9L239.5,46.0L241.8,44.9L246.3,44.7L251.1,43.2L255.8,42.0L258.1,40.2M230.2,28.7L233.0,27.0L236.3,26.4L239.7,25.5M316.1,0.1L315.6,2.2L314.5,4.7L315.3,7.2L315.6,9.7L314.8,13.0L313.8,15.2L314.8,17.2L315.0,19.2L317.0,20.5L318.6,22.2L320.6,23.9L322.0,26.5L324.4,28.5L326.9,30.5L330.3,32.4L334.4,31.2L337.7,31.4L340.2,31.4L343.6,30.0L345.2,29.4L347.7,29.0L350.2,29.2L351.9,31.4L353.5,32.5L355.2,32.2L356.9,32.0L358.5,33.4L359.0,35.5L358.5,38.0L358.2,40.5L359.4,43.0L361.8,45.5L362.7,48.0L363.2,49.7L364.3,52.2L364.8,54.7L365.2,57.7L363.8,60.5L363.0,63.1L362.3,67.2L363.5,69.7L365.2,73.1L366.7,76.4L366.8,79.3M315.6,13.0L318.6,12.0L322.0,14.3M327.4,21.2L330.9,18.2L336.1,15.2L338.1,12.2L341.2,11.2L343.2,12.2L344.7,15.7M350.9,23.7L353.5,26.2L353.5,29.7M353.7,26.7L358.0,26.7M363.2,49.7L366.0,47.2L368.5,46.4L370.2,43.0L371.8,39.7L373.5,37.2L376.8,36.4L380.1,36.2L382.6,38.0L385.1,38.9M395.6,39.2L398.4,39.2L399.3,40.2L400.1,41.4L398.4,43.9L395.9,43.5L395.3,41.4L395.6,39.2M391.3,45.2L391.6,48.9L392.9,51.4L394.3,53.9M399.8,55.5L400.3,58.0L400.6,60.5L401.2,63.4M401.7,0.1L403.9,3.0L404.7,5.5L406.7,9.7L408.4,13.3L411.7,16.7L414.5,19.7L414.5,20.5L416.7,22.4L419.2,21.9L423.4,21.0L427.8,20.0L427.5,22.2L427.2,24.7L425.0,27.2L423.4,30.5L420.0,34.7L416.7,37.2L413.4,40.5L410.9,43.0L409.2,45.0L408.1,47.2L407.9,49.7L408.1,52.2L408.7,54.7L409.7,57.2L410.1,60.5L410.4,63.9L409.2,66.4L405.1,69.4L401.7,72.2L400.9,74.7L401.7,77.2L401.7,79.3M406.7,0.1L407.9,3.0L409.2,5.5L411.7,9.7L413.4,13.0L414.2,16.3L415.0,18.5L417.5,18.3L420.9,17.2L424.2,16.0L427.5,14.3L430.0,12.5L434.2,10.8L436.7,9.3L438.3,8.0L440.0,5.5L441.6,2.5L440.8,1.3L439.8,0.1M424.7,59.7L425.9,63.1L426.7,65.6L425.0,68.9L423.7,73.1L422.2,77.2L421.4,79.3M415.4,79.3L414.7,76.4L416.5,73.1L415.9,68.9L416.7,66.7L420.0,65.6L421.7,63.9L422.5,62.2L424.7,59.7M456.6,0.3L458.3,2.2L459.1,3.0L459.9,4.7L462.4,4.2L463.4,2.7L463.8,4.7L463.9,8.0L464.6,11.3L465.4,13.8L466.6,16.3L467.1,18.3L468.2,20.5L469.6,23.4L470.7,25.7L471.7,26.2L472.7,24.9L474.4,24.2L475.4,22.5L475.6,20.5L476.1,18.0L475.9,14.7L477.4,12.7L479.5,11.7L481.5,9.7L484.0,7.2L486.5,6.0L487.4,3.8L489.9,3.3L491.5,3.3L493.2,2.2L494.8,2.2L495.7,4.2L496.2,5.2L497.3,6.7L499.3,8.8L499.8,11.3L499.5,13.0L500.7,13.3L503.2,11.8L504.8,12.2L505.3,14.7L506.1,17.2L506.6,20.5L506.5,23.0L506.1,25.5L507.3,27.2L509.0,28.9L509.5,31.4L510.3,33.9L511.5,35.5L514.8,37.5L516.0,37.4L514.6,33.4L514.5,30.5L512.3,29.4L510.6,28.2L509.3,25.9L507.8,23.9L507.6,22.2L508.3,19.7L509.0,17.5L510.5,18.5L512.0,18.9L513.5,19.7L514.0,21.0L516.5,22.4L517.3,24.7L517.6,25.2L519.8,23.9L520.6,22.2L523.1,21.0L524.3,19.7L524.4,17.2L523.9,14.7L522.3,13.0L520.6,11.3L518.9,8.8L518.6,7.2L519.8,5.5L521.4,3.8L523.1,3.7L525.3,4.0L526.4,5.8L528.1,3.8L531.4,2.5L533.1,2.2L536.4,1.3L538.1,0.1M475.6,23.5L476.6,24.2L477.9,25.9L478.7,28.0L478.4,29.4L476.7,29.9L475.7,28.9L475.4,26.7L475.6,23.5M523.3,7.7L524.8,6.3L526.6,6.3L527.3,7.2L525.6,9.2L523.9,8.8L523.3,7.7M542.4,0.1L542.4,1.3L543.4,3.2L543.9,2.0L544.7,0.7L545.0,0.1M543.2,8.8L545.9,8.8L545.9,11.3L544.7,13.3L544.9,15.5L546.4,16.0L548.9,18.0L547.2,18.0L544.7,16.7L543.2,15.8L542.2,15.0L541.9,12.2L542.7,10.5L543.2,8.8M545.5,28.0L548.0,26.4L550.5,24.7L552.7,24.2L552.7,28.0L551.4,29.7L548.9,28.9L547.2,27.2L545.5,28.0M549.4,18.9L551.4,19.2L551.7,21.4L550.5,22.7L549.4,20.9L549.4,18.9M545.5,20.0L547.2,20.5L546.4,22.2L545.4,21.9L545.5,20.0M547.2,21.7L548.0,23.0L547.5,24.5L546.4,23.2L547.2,21.7M537.6,25.9L539.7,23.9L541.4,20.9M523.9,37.2L524.9,36.4L527.3,36.7L530.6,34.4L532.2,32.2L534.7,30.9L536.4,28.9L537.7,28.0L538.6,29.7L540.9,31.0L538.9,32.5L538.2,34.7L538.9,38.0L540.6,38.2L538.1,39.7L536.4,42.2L535.9,44.7L533.1,46.0L530.6,45.0L527.3,44.7L525.6,43.0L524.8,40.5L523.9,37.2M501.2,30.4L504.8,31.0L506.5,33.0L509.8,36.0L514.8,39.7L516.5,42.2L518.9,44.7L518.6,49.4L516.5,49.5L512.8,46.4L510.6,43.9L509.0,41.0L506.8,37.2L504.0,34.2L501.2,30.4M517.6,51.0L519.8,49.7L523.1,50.9L526.4,51.2L529.8,51.2L533.1,52.5L533.1,53.9L528.9,53.5L525.6,53.2L522.3,52.7L519.8,52.0L517.6,51.0M533.9,53.7L535.6,53.9M536.9,54.0L540.6,53.9M541.9,54.0L544.7,53.9L547.2,53.5M548.0,56.9L550.5,54.7L554.4,53.7L550.5,55.5L548.0,56.9M541.4,48.9L541.4,45.5L540.2,44.4L541.4,40.5L542.2,38.9L543.5,37.5L546.4,38.0L549.7,38.0L550.9,37.2L548.9,39.0L544.7,38.9L543.1,39.7L543.9,41.4L547.2,41.0L544.7,42.7L546.4,45.5L547.5,47.2L545.5,47.5L543.9,44.7L542.7,44.7L542.9,48.9L541.4,48.9M555.2,36.4L555.5,38.9L556.7,37.7L555.5,39.4L556.4,41.0L554.9,39.7L555.2,36.4M555.5,44.7L559.7,45.0L560.2,46.0L556.4,45.7L555.5,44.7M552.2,45.0L554.2,45.4L553.0,46.0M560.5,41.7L563.0,40.4L565.5,41.2L567.2,45.2L571.3,42.2L575.5,43.7L579.6,45.0L582.9,46.0L585.1,48.4L587.9,49.7L588.6,51.4L587.1,52.5L589.1,53.2L591.3,55.5L592.9,56.9L590.4,56.9L587.1,55.5L584.6,52.9L582.1,52.5L580.5,54.7L577.1,54.9L573.8,53.2L571.8,53.7L573.0,51.4L571.3,48.0L567.2,47.0L563.8,46.4L562.2,44.4L560.5,41.7M589.6,48.9L592.1,48.0L594.6,46.7L595.7,48.0L593.8,49.7L590.4,50.0L589.6,48.9M592.9,44.0L595.4,45.5L597.1,47.5M615.4,73.4L617.9,75.2L620.4,77.1M637.5,68.9L639.5,69.6L639.1,67.2L641.8,66.9M531.7,79.3L531.9,76.4L532.4,76.1L535.6,74.2L539.7,73.6L543.9,72.2L546.0,68.9L548.0,67.2L549.7,65.6L552.2,63.1L554.7,63.4L557.2,64.7L558.8,61.4L559.7,60.5L562.2,58.9L564.7,59.4L567.2,60.0L569.6,59.7L570.1,61.4L568.0,63.9L569.6,65.6L571.3,66.9L573.8,68.4L576.3,68.9L578.0,65.6L578.1,62.2L578.8,58.0L579.6,57.5L581.3,62.2L582.9,63.6L584.3,64.7L584.6,67.2L585.8,70.6L587.9,72.2L590.4,73.9L591.3,76.4L593.4,77.2L593.8,79.3M496.8,17.2L496.7,20.5" stroke="#111" stroke-width="1.05" fill="none" stroke-linejoin="round"/><circle cx="84.1" cy="7.0" r="1" fill="#111"/><circle cx="366.2" cy="17.8" r="1" fill="#111"/></g><rect x="43.5" y="18.8" width="596" height="79.4" fill="none" stroke="#555" stroke-width="1"/><text x="38.2" y="27.14" font-size="11" text-anchor="end">20°N</text><text x="38.2" y="43.82" font-size="11" text-anchor="end">10°N</text><text x="38.2" y="60.5" font-size="11" text-anchor="end">0°</text><text x="38.2" y="77.18" font-size="11" text-anchor="end">10°S</text><text x="38.2" y="93.86" font-size="11" text-anchor="end">20°S</text><text x="43.5" y="114" font-size="11" text-anchor="middle">180°</text><text x="93.37" y="114" font-size="11" text-anchor="middle">150°W</text><text x="143.24" y="114" font-size="11" text-anchor="middle">120°W</text><text x="193.12" y="114" font-size="11" text-anchor="middle">90°W</text><text x="242.99" y="114" font-size="11" text-anchor="middle">60°W</text><text x="292.86" y="114" font-size="11" text-anchor="middle">30°W</text><text x="344.03" y="114" font-size="11" text-anchor="middle">0°</text><text x="393.9" y="114" font-size="11" text-anchor="middle">30°E</text><text x="443.78" y="114" font-size="11" text-anchor="middle">60°E</text><text x="493.65" y="114" font-size="11" text-anchor="middle">90°E</text><text x="543.52" y="114" font-size="11" text-anchor="middle">120°E</text><text x="593.39" y="114" font-size="11" text-anchor="middle">150°E</text><text x="341.9" y="128.2" font-size="12" text-anchor="middle" textLength="53" lengthAdjust="spacingAndGlyphs">Longitude</text><text x="341.4" y="10" font-size="12" text-anchor="middle" font-weight="bold" textLength="64.4" lengthAdjust="spacingAndGlyphs">(a) NH (#1)</text><text transform="translate(10,58.5) rotate(-90)" font-size="12" text-anchor="middle" textLength="42.8" lengthAdjust="spacingAndGlyphs">Latitude</text><rect x="645.6" y="18.8" width="5.2" height="79.4" fill="url(#cb)" stroke="#666" stroke-width="0.8"/><path d="M650.8,18.8h2" stroke="#444" stroke-width="0.8"/><text x="655.2" y="22.6" font-size="11" textLength="14.2" lengthAdjust="spacingAndGlyphs">1.0</text><path d="M650.8,58.5h2" stroke="#444" stroke-width="0.8"/><text x="655.2" y="62.3" font-size="11" textLength="14.2" lengthAdjust="spacingAndGlyphs">0.5</text><path d="M650.8,98.2h2" stroke="#444" stroke-width="0.8"/><text x="655.2" y="102" font-size="11" textLength="14.2" lengthAdjust="spacingAndGlyphs">0.0</text><text transform="translate(684.6,59) rotate(-90)" font-size="12" text-anchor="middle"><tspan font-style="italic">k</tspan><tspan font-size="8.5" dx="1.6" dy="-5.2">c</tspan></text><g transform="translate(0,164.1)" clip-path="url(#mapclip)"><g filter="url(#fblur)"><path d="M675.2,85.4L642.8,85.4L639.9,85.0L638.6,83.9L638.2,82.7L638.2,74.6L634.1,72.9L632.0,70.0L627.0,68.1L604.6,68.2L595.8,68.7L593.3,69.4L589.2,72.4L586.7,73.4L572.6,74.6L567.6,74.5L551.8,72.4L535.6,67.0L509.4,56.1L505.5,53.0L504.3,51.0L504.2,48.9L505.2,46.8L506.9,45.4L521.9,38.2L530.6,35.3L536.0,34.5L552.2,38.0L577.1,40.8L591.7,46.4L608.3,49.5L639.9,51.5L646.1,52.6L675.2,52.6L675.6,63.1L675.2,85.4ZM243.8,89.8L228.5,89.7L227.3,81.8L226.8,73.3L221.8,70.8L216.0,70.3L211.4,69.1L208.5,67.6L206.3,65.6L204.5,61.4L203.5,49.7L204.5,45.1L207.0,42.2L211.8,39.9L218.1,39.0L266.3,38.9L272.1,39.5L276.2,40.6L280.4,42.7L283.1,45.1L285.3,49.7L285.1,55.1L282.7,59.3L277.5,63.1L283.3,65.3L286.2,68.5L288.5,76.4L288.4,78.9L287.4,81.0L285.8,82.3L283.3,83.3L272.1,84.4L267.9,83.6L264.6,80.7L245.9,81.1L245.4,81.4L243.8,89.8ZM423.4,79.7L409.2,79.9L392.6,78.3L375.6,75.8L370.6,74.1L361.8,72.5L358.9,71.2L356.9,69.4L355.3,67.2L354.3,64.3L343.6,56.9L334.8,54.2L333.4,52.6L333.3,51.0L334.7,48.9L337.3,47.0L351.9,39.9L361.8,39.6L368.9,38.8L388.0,38.7L395.9,39.6L403.8,42.0L407.6,44.8L410.1,49.1L411.7,49.7L426.7,50.6L432.9,49.9L440.0,51.0L451.6,51.1L460.8,52.3L462.8,53.3L464.1,54.7L465.0,58.0L465.0,66.4L464.3,69.3L462.4,71.4L459.1,72.5L440.8,74.1L432.5,75.8L427.1,78.7L423.4,79.7ZM131.2,85.2L41.8,85.1L40.5,84.3L39.7,82.7L39.8,74.6L35.6,72.9L33.5,70.0L28.5,68.2L10.3,68.2L9.9,58.9L10.3,49.7L41.4,51.5L47.7,52.6L92.5,52.7L148.2,55.6L152.4,56.5L156.5,58.6L157.7,60.5L157.2,63.1L154.9,65.9L151.6,67.3L139.5,69.6L102.7,72.2L132.0,72.8L133.3,73.9L133.7,75.1L133.8,81.8L133.0,84.3L131.2,85.2Z" fill="#ffebe2" fill-rule="evenodd"/><path d="M643.2,73.1L639.5,73.4L636.1,72.7L634.2,71.4L632.8,69.1L628.2,66.9L604.6,67.0L595.4,67.5L592.9,68.2L586.7,72.1L577.1,73.1L568.8,73.4L553.4,71.5L548.5,70.2L536.8,66.2L510.6,55.4L506.8,52.6L505.8,51.0L505.6,49.3L506.3,47.6L507.7,46.4L521.4,39.5L531.8,36.2L536.0,35.7L551.4,39.1L576.7,42.0L591.7,47.6L608.3,50.7L644.9,53.3L675.2,53.3L675.6,63.1L675.2,72.4L645.7,72.4L643.2,73.1ZM242.6,89.8L229.7,89.7L228.3,81.8L227.6,73.1L220.5,69.6L215.6,69.0L211.8,67.8L207.8,64.7L206.2,61.0L205.3,51.0L205.6,47.2L207.2,43.5L211.4,41.2L218.1,40.2L261.7,40.0L272.5,40.8L276.2,42.0L279.6,44.0L281.6,46.0L283.1,48.5L283.6,53.5L281.9,57.6L278.7,60.5L276.2,64.1L281.6,65.8L284.8,68.5L287.2,75.6L287.2,78.1L286.3,80.1L284.8,81.4L282.5,82.2L272.5,83.2L268.8,82.6L266.3,80.1L245.1,80.6L244.5,81.0L242.6,89.8ZM424.6,78.9L408.8,79.2L390.5,77.4L374.3,74.9L369.3,72.6L362.7,71.4L358.3,68.9L355.6,64.3L343.6,55.6L336.5,53.4L335.3,52.2L335.2,51.0L336.4,49.3L338.6,47.7L347.7,42.3L352.3,40.4L388.4,40.1L395.5,40.9L402.6,42.9L405.9,45.1L408.7,49.3L410.9,50.4L424.6,51.0L427.9,51.9L432.9,51.5L438.7,52.3L445.8,51.9L452.9,52.4L460.3,53.4L463.1,55.5L463.9,58.9L463.8,66.4L463.1,68.9L461.6,70.4L457.9,71.5L439.6,72.9L432.9,74.3L424.6,78.9ZM44.7,73.1L41.0,73.4L37.7,72.7L35.8,71.4L34.4,69.1L30.2,67.0L10.3,66.9L10.3,50.9L43.1,52.7L46.4,53.3L92.1,53.3L148.2,56.3L154.9,58.3L156.5,59.7L156.9,61.0L155.8,63.9L153.2,66.0L139.5,68.9L91.7,72.3L47.2,72.4L44.7,73.1ZM129.5,83.5L43.9,83.5L42.3,83.1L41.7,82.2L41.4,76.8L42.3,74.8L44.3,74.3L129.5,74.3L131.6,75.2L132.1,78.9L131.6,82.6L129.5,83.5ZM675.2,83.5L641.5,83.4L640.0,81.8L640.0,76.0L640.7,74.8L642.4,74.3L675.2,74.3L675.2,83.5Z" fill="#fee5d8" fill-rule="evenodd"/><path d="M640.7,72.7L636.1,71.8L634.6,70.6L633.5,68.5L629.1,66.0L604.6,66.0L595.0,66.6L592.1,67.5L586.7,71.1L577.1,72.2L568.8,72.4L553.4,70.5L548.9,69.5L536.8,65.2L511.1,54.5L507.7,52.2L506.7,49.3L508.6,47.0L521.9,39.9L532.7,37.0L536.0,36.6L551.6,40.1L576.3,42.8L591.3,48.5L608.7,51.7L643.6,53.8L675.2,53.8L675.2,71.9L644.9,71.9L640.7,72.7ZM241.7,89.8L230.7,89.7L228.9,81.8L228.3,73.1L219.7,68.8L212.2,67.0L208.8,64.3L207.4,61.0L206.5,53.0L206.5,46.4L207.4,43.9L209.3,42.4L211.4,41.6L219.3,40.9L262.5,40.8L272.5,41.7L275.8,42.8L278.9,44.7L282.0,48.9L282.4,53.5L281.1,56.8L275.3,64.7L281.2,66.6L284.0,68.9L285.2,71.4L286.3,75.6L286.2,78.1L285.4,79.7L283.7,80.9L281.6,81.5L272.5,82.3L269.2,81.7L267.1,79.7L244.7,80.3L243.9,80.6L241.7,89.8ZM424.6,78.5L408.0,78.8L390.5,77.1L373.9,74.4L368.5,71.7L363.5,70.7L360.4,69.3L358.1,67.2L356.8,64.7L349.0,59.5L343.6,54.7L337.6,52.6L336.9,51.0L338.6,48.9L344.4,45.6L346.9,43.3L352.7,40.7L388.9,41.0L395.1,41.7L402.2,43.7L405.1,45.6L408.6,49.7L410.9,50.8L424.6,51.6L429.2,52.8L452.9,53.3L459.5,54.2L462.2,56.0L463.0,58.9L462.9,66.0L462.2,68.5L460.8,69.7L457.4,70.6L438.7,72.0L432.9,73.3L424.6,78.5ZM42.3,72.7L39.3,72.4L37.3,71.6L35.0,68.5L31.0,66.0L10.3,66.0L10.3,51.9L45.2,53.8L92.5,53.9L148.2,56.8L154.5,58.7L155.8,59.7L156.3,61.0L155.5,63.5L152.8,65.7L139.5,68.4L91.3,71.8L46.4,71.9L42.3,72.7Z" fill="#fedccd" fill-rule="evenodd"/><path d="M642.4,71.8L639.1,72.0L636.6,71.3L634.9,69.8L634.1,67.9L629.9,65.1L604.6,65.1L595.0,65.6L591.7,66.7L587.1,70.0L575.9,71.3L568.4,71.5L550.9,69.3L526.4,60.3L512.7,54.3L509.1,52.2L507.9,49.7L508.9,48.0L514.4,44.2L521.9,40.3L525.6,39.2L536.0,37.6L547.2,40.2L576.3,43.3L590.4,49.2L608.7,52.6L637.4,54.4L675.2,54.2L675.2,71.5L644.5,71.5L642.4,71.8ZM422.9,78.5L407.6,78.5L390.1,76.7L373.9,74.1L367.7,70.9L363.5,69.9L360.6,68.6L357.5,64.7L345.6,56.5L343.1,53.5L339.4,52.2L338.6,51.4L338.7,50.5L340.3,48.9L344.4,46.5L346.9,43.6L352.7,41.0L389.3,41.7L395.5,42.5L401.7,44.3L404.2,45.8L408.6,50.1L410.5,51.1L424.6,52.0L428.3,52.8L429.6,53.6L433.7,53.4L437.5,54.1L447.0,53.7L456.2,54.5L459.9,55.3L461.6,56.8L462.1,59.3L462.1,65.6L461.6,67.6L460.3,68.9L457.0,69.8L438.3,71.2L432.9,72.3L429.6,74.1L425.4,77.8L422.9,78.5ZM240.9,89.8L231.6,89.7L229.4,81.8L228.8,73.1L219.7,68.5L213.1,66.6L209.6,63.9L208.3,61.0L206.8,51.8L206.8,46.4L207.8,43.9L210.2,42.3L213.5,41.7L263.8,41.4L272.9,42.4L278.1,45.1L281.0,48.9L281.4,53.5L279.3,58.5L274.8,65.1L280.8,67.2L283.4,69.3L284.6,71.8L285.6,75.6L285.5,77.6L284.6,79.3L281.2,80.8L272.9,81.6L270.0,81.2L267.9,79.4L244.2,80.0L243.4,80.6L240.9,89.8ZM43.9,71.8L40.6,72.0L38.1,71.3L36.4,69.8L35.6,67.9L31.4,65.1L10.3,65.1L10.3,52.8L38.9,54.4L92.1,54.3L140.8,56.8L150.3,57.6L154.5,59.2L155.8,61.0L155.0,63.5L152.4,65.4L139.1,68.0L91.3,71.4L46.0,71.5L43.9,71.8Z" fill="#fdd0bc" fill-rule="evenodd"/><path d="M641.1,71.4L638.6,71.3L636.6,70.5L635.3,69.3L634.5,67.3L630.3,64.0L604.6,64.1L594.6,64.6L590.8,65.9L589.6,66.9L588.4,68.9L587.1,69.6L573.4,71.0L568.8,71.0L551.4,68.8L525.2,59.4L511.5,53.1L510.1,51.8L509.3,49.7L514.4,44.6L521.9,40.7L526.0,39.5L535.6,38.3L548.0,40.7L576.3,43.6L585.4,47.4L589.6,50.0L608.7,53.7L636.6,55.4L639.9,54.7L675.2,54.6L675.2,71.1L641.1,71.4ZM423.8,78.1L408.0,78.2L390.5,76.5L373.9,73.8L366.8,70.1L361.0,68.1L358.0,64.7L345.4,56.0L344.0,54.3L343.6,52.7L341.1,51.5L340.6,50.5L341.6,49.3L344.4,47.6L345.3,45.5L346.9,43.9L353.1,41.2L389.7,42.3L395.9,43.1L401.3,44.8L408.8,50.6L410.5,51.3L427.1,52.8L430.0,54.4L433.7,54.2L437.9,54.9L447.0,54.6L456.6,55.5L459.1,56.0L460.6,57.2L461.3,59.7L461.2,65.1L460.8,66.9L459.5,68.2L449.4,69.7L438.3,70.3L432.5,71.6L430.0,72.8L425.9,77.2L423.8,78.1ZM240.1,89.7L232.6,89.7L230.0,82.2L229.2,73.1L224.2,70.1L213.1,65.9L210.2,63.5L209.3,61.4L207.1,52.2L207.1,46.4L208.1,44.0L210.6,42.5L213.5,41.9L264.2,42.0L272.5,42.6L277.9,45.7L280.3,49.3L280.6,53.5L279.2,58.0L275.3,63.5L274.4,66.0L280.1,67.6L282.8,69.7L284.8,75.1L284.8,77.2L284.1,78.6L281.2,80.1L273.3,80.9L270.4,80.5L268.3,79.1L244.2,79.7L243.0,80.6L240.1,89.7ZM42.7,71.4L40.2,71.3L38.1,70.5L36.9,69.3L36.0,67.3L31.9,64.1L10.3,64.1L10.3,53.8L38.1,55.4L41.8,54.7L92.1,54.6L133.3,56.7L149.9,57.9L154.0,59.4L155.4,61.4L154.5,63.5L152.4,65.0L138.7,67.7L91.3,71.0L42.7,71.4Z" fill="#fcc4ad" fill-rule="evenodd"/><path d="M675.2,70.7L638.6,70.7L636.1,69.3L633.2,64.3L631.2,62.5L629.9,62.4L604.6,62.4L594.6,63.0L591.7,63.6L589.6,64.8L588.6,68.1L586.7,69.3L573.4,70.7L567.2,70.5L550.1,68.0L528.1,60.2L512.1,53.0L510.6,51.8L510.3,50.1L511.3,48.0L514.0,45.3L521.9,41.1L526.0,39.8L535.6,38.7L548.0,41.0L576.3,44.0L586.7,48.4L588.3,49.7L589.2,51.6L608.7,55.3L635.7,57.0L638.2,55.5L642.8,55.0L675.2,55.0L675.2,70.7ZM421.7,78.1L407.6,78.0L390.5,76.2L373.9,73.6L366.0,69.4L361.8,67.9L359.1,65.1L349.8,59.1L344.6,54.7L343.4,50.1L344.4,49.0L345.2,46.4L346.5,44.6L350.2,42.4L353.1,41.5L360.2,41.4L390.1,42.8L395.9,43.7L400.9,45.2L410.5,51.6L427.1,53.1L428.8,53.7L430.0,55.2L434.2,55.0L438.3,56.1L450.0,56.0L457.4,56.8L459.5,58.0L460.1,60.1L460.0,64.7L459.5,66.4L458.6,67.2L445.8,68.9L438.7,69.1L435.4,70.4L431.3,70.9L430.0,71.5L428.9,73.9L425.9,76.9L424.2,77.8L421.7,78.1ZM238.4,89.8L233.9,89.7L231.8,85.9L230.2,81.4L229.7,73.5L229.3,72.8L224.8,70.1L213.5,65.4L210.8,63.1L207.4,52.6L207.3,46.8L208.2,44.3L210.6,42.7L213.9,42.2L270.0,42.6L273.7,43.3L277.9,46.2L279.3,48.0L280.0,51.0L279.5,56.4L278.5,58.9L274.8,63.9L274.0,66.4L280.0,68.3L282.2,70.1L284.1,75.1L284.0,76.8L283.3,78.3L280.8,79.5L273.7,80.2L270.8,79.9L269.2,78.5L243.8,79.6L242.6,80.6L241.3,85.1L238.4,89.8ZM93.0,70.6L40.2,70.7L37.7,69.4L34.8,64.3L32.7,62.5L10.3,62.5L10.3,55.4L37.3,56.9L39.8,55.5L44.7,55.0L92.5,55.0L148.6,58.0L153.6,59.6L154.9,61.4L154.0,63.4L152.0,64.7L139.9,67.2L93.0,70.6Z" fill="#fcb89e" fill-rule="evenodd"/><path d="M575.9,70.2L568.4,70.3L550.1,67.5L525.6,58.9L512.1,52.6L510.8,51.4L510.8,49.7L514.4,45.4L521.9,41.4L525.6,40.2L533.9,39.1L537.6,39.3L548.4,41.4L577.5,44.7L586.1,48.5L588.4,50.5L589.0,53.5L589.0,65.6L588.4,67.8L586.7,69.0L575.9,70.2ZM423.8,77.6L408.0,77.8L390.5,76.0L373.5,73.2L361.8,67.3L359.5,65.1L351.5,60.0L345.6,55.5L344.6,54.3L344.1,52.6L345.3,46.8L346.2,45.1L347.7,44.0L351.5,42.2L354.0,41.6L370.2,42.0L391.8,43.5L398.4,44.8L403.0,46.7L410.1,51.7L427.1,53.3L428.8,54.0L430.0,56.1L434.2,55.8L437.9,57.0L440.4,60.1L440.8,62.6L439.8,66.4L438.3,68.2L436.2,69.4L432.9,70.0L430.0,69.8L428.6,73.9L425.9,76.6L423.8,77.6ZM237.2,88.6L235.9,88.7L234.3,87.9L231.1,83.9L229.7,72.9L225.5,70.3L213.5,64.8L210.4,61.4L207.5,52.2L207.5,46.8L208.5,44.3L211.0,42.8L213.9,42.4L270.4,42.8L273.7,43.5L277.9,46.5L279.3,49.3L279.2,56.4L278.5,58.5L274.6,63.9L273.6,67.2L279.1,68.8L281.2,70.1L283.2,74.3L283.3,76.4L282.7,77.6L280.4,78.8L274.2,79.5L271.7,79.3L269.6,78.0L267.1,78.7L243.8,79.3L242.5,80.1L241.7,83.5L240.1,86.2L237.2,88.6ZM93.4,70.2L40.6,70.3L38.9,69.7L37.7,68.5L35.7,63.1L34.5,61.4L35.2,60.2L36.9,59.6L38.0,57.2L39.3,56.2L47.7,55.3L92.1,55.3L140.8,57.9L149.9,58.6L153.2,59.8L154.5,61.4L153.8,63.1L152.0,64.4L139.9,66.8L93.4,70.2ZM675.2,70.4L638.6,70.2L636.2,68.5L633.0,61.0L633.7,60.1L635.3,59.6L637.0,56.7L639.5,55.8L644.0,55.3L675.2,55.3L675.2,70.4Z" fill="#fcab8f" fill-rule="evenodd"/><path d="M577.1,69.7L568.8,70.0L550.9,67.3L525.6,58.6L512.3,52.4L511.1,51.0L511.2,49.7L514.8,45.5L521.9,41.8L525.6,40.5L533.9,39.4L537.6,39.6L548.0,41.6L577.1,44.9L585.0,48.3L587.5,49.9L588.6,52.2L588.7,57.2L588.7,65.6L587.9,67.7L585.6,68.9L577.1,69.7ZM420.0,77.6L408.8,77.6L395.1,76.3L373.5,72.9L362.3,67.0L345.6,55.2L344.3,52.6L345.5,46.8L346.5,45.2L348.1,44.0L351.9,42.2L354.4,41.8L370.2,42.2L392.2,44.0L397.6,45.1L403.0,46.9L410.1,52.0L427.1,53.5L429.1,54.7L429.6,57.1L434.2,56.5L437.9,58.0L439.2,59.9L439.6,62.6L439.3,65.1L438.1,67.2L434.6,69.0L429.6,68.9L429.1,72.6L426.3,76.0L423.8,77.4L420.0,77.6ZM237.2,87.3L234.3,86.8L231.4,83.8L230.3,73.5L229.7,72.6L225.9,70.2L213.9,64.5L210.6,61.2L207.7,52.2L207.7,46.8L208.8,44.3L211.0,43.0L214.3,42.6L270.4,43.0L273.7,43.8L277.9,46.8L279.1,49.7L278.9,56.8L274.3,63.9L273.2,68.1L278.3,69.4L280.8,71.0L282.3,74.7L281.6,77.2L279.6,78.1L274.6,78.6L272.1,78.4L270.4,77.0L267.1,78.5L243.8,79.1L242.2,80.1L240.9,84.3L238.8,86.5L237.2,87.3ZM93.8,69.7L41.0,69.8L39.3,69.2L38.1,67.9L37.0,62.2L38.0,58.5L38.9,57.2L40.6,56.4L46.0,55.7L92.1,55.7L133.3,57.9L149.1,58.8L152.8,60.1L153.9,61.4L153.3,63.1L151.6,64.1L139.9,66.4L93.8,69.7ZM675.2,70.0L639.1,69.7L637.4,68.9L636.4,67.6L635.4,63.9L635.5,61.8L636.4,58.5L637.3,57.2L642.4,55.8L675.2,55.7L675.2,70.0Z" fill="#fc9d7f" fill-rule="evenodd"/><path d="M573.4,69.7L567.6,69.6L550.5,66.8L526.0,58.5L512.7,52.2L511.6,51.0L511.6,49.7L514.8,45.9L522.3,41.9L525.6,40.9L533.9,39.7L537.6,39.9L548.0,42.0L577.5,45.3L585.5,48.9L587.9,51.0L588.4,53.9L588.3,66.0L587.5,67.6L585.9,68.5L573.4,69.7ZM423.4,77.3L408.0,77.3L390.5,75.6L373.5,72.7L361.8,66.2L351.5,59.5L345.8,55.1L344.6,52.6L345.7,46.8L348.0,44.3L353.5,42.1L376.4,42.9L391.8,44.4L397.2,45.4L403.0,47.2L408.4,51.4L410.5,52.3L427.6,53.9L429.0,55.1L429.6,58.2L433.3,57.3L437.1,58.5L438.5,60.5L438.7,63.9L437.7,66.4L435.8,67.8L432.5,68.4L429.6,67.6L428.7,73.1L425.9,76.1L423.4,77.3ZM236.8,86.4L234.3,85.9L231.5,83.5L230.6,73.5L230.0,72.6L226.2,70.1L216.8,65.8L213.1,63.3L210.7,61.0L207.9,51.8L207.9,46.8L208.9,44.5L211.4,43.1L214.3,42.8L270.4,43.2L273.4,43.9L277.6,46.8L278.9,49.3L278.8,56.4L278.0,58.5L274.1,63.9L272.5,69.3L276.9,70.1L279.5,71.4L281.0,74.3L280.4,76.4L277.9,77.2L273.3,77.4L272.0,76.8L270.8,75.1L269.6,77.3L267.5,78.2L243.7,78.9L242.0,80.1L240.9,84.0L238.4,85.9L236.8,86.4ZM93.8,69.3L46.4,69.5L41.0,69.2L39.3,68.4L38.3,66.8L38.1,60.1L38.7,58.5L39.8,57.4L44.7,56.2L91.3,56.1L148.2,59.1L151.9,60.1L153.3,61.4L153.0,62.6L151.1,63.8L139.9,66.0L93.8,69.3ZM675.2,69.6L644.0,69.5L639.1,69.1L637.4,68.1L636.6,66.4L636.6,59.7L638.2,57.4L642.8,56.2L675.2,56.1L675.2,69.6Z" fill="#fc9070" fill-rule="evenodd"/><path d="M574.2,69.3L568.2,69.3L551.4,66.7L526.4,58.4L513.1,52.0L512.1,51.0L512.0,49.7L515.3,46.0L522.5,42.2L525.6,41.2L533.9,40.1L537.2,40.2L548.0,42.3L577.1,45.6L585.4,49.2L587.5,51.0L588.0,53.5L588.0,65.6L587.4,67.2L585.9,68.1L574.2,69.3ZM424.2,76.8L408.0,77.1L390.5,75.4L373.9,72.6L361.4,65.6L351.6,59.3L346.2,55.1L344.8,52.6L345.8,47.2L347.8,44.7L353.5,42.3L376.4,43.1L390.9,44.5L401.3,46.8L403.4,47.7L408.4,51.7L410.1,52.4L427.5,54.1L428.9,55.5L429.2,60.2L431.7,58.4L435.0,58.6L437.1,60.1L437.8,63.5L436.7,66.0L434.2,67.3L431.2,67.2L429.2,65.5L428.7,72.6L426.3,75.4L424.2,76.8ZM237.2,85.6L234.7,85.3L231.7,83.5L231.0,73.9L229.9,72.2L225.9,69.8L217.2,65.8L210.9,61.0L208.2,52.2L208.1,46.8L209.0,44.7L211.0,43.5L214.3,43.0L270.4,43.4L273.7,44.3L277.7,47.2L278.7,49.7L278.5,56.8L273.7,64.2L271.4,73.1L269.3,77.2L266.7,78.1L243.4,78.7L241.7,80.1L240.7,83.9L237.2,85.6ZM92.5,68.9L46.0,69.0L43.1,68.3L41.4,68.5L39.8,67.8L38.9,66.6L38.7,60.5L40.0,58.0L44.7,56.7L91.3,56.7L148.2,59.7L151.4,60.5L152.5,61.8L152.0,62.7L150.2,63.5L139.2,65.6L92.5,68.9ZM675.2,69.0L644.0,69.0L641.5,68.3L639.5,68.5L638.2,67.8L637.3,66.4L637.2,60.1L638.6,58.0L643.2,56.7L675.2,56.7L675.2,69.0ZM275.4,73.5L275.4,73.5L275.4,73.5L275.4,73.5Z" fill="#fc8464" fill-rule="evenodd"/><path d="M574.6,68.9L568.4,68.9L554.3,67.0L543.5,63.9L526.0,57.9L513.6,51.8L512.6,51.0L512.5,49.7L515.4,46.4L522.5,42.6L526.0,41.5L533.9,40.5L537.2,40.6L548.0,42.7L577.1,46.0L584.7,49.3L587.1,51.2L587.7,53.9L587.6,65.1L587.1,66.8L585.9,67.7L574.6,68.9ZM423.4,76.9L408.0,76.9L390.5,75.1L373.9,72.4L361.7,65.6L351.9,59.3L346.5,55.1L345.0,52.6L346.0,47.2L348.1,44.7L353.5,42.5L376.4,43.4L390.4,44.7L400.9,46.9L403.4,47.9L408.0,51.6L410.1,52.6L427.5,54.4L428.5,55.1L428.9,56.8L428.8,71.4L426.7,74.7L423.4,76.9ZM237.6,84.8L233.4,84.4L232.0,83.5L231.2,73.9L230.1,72.1L225.9,69.5L217.2,65.6L211.2,61.0L208.4,52.2L208.3,46.8L209.3,44.7L211.4,43.6L214.3,43.2L270.4,43.6L273.3,44.3L277.5,47.2L278.5,49.7L278.3,56.8L273.6,63.9L270.8,73.9L269.2,77.1L266.7,77.9L243.4,78.5L241.7,79.7L240.5,83.8L237.6,84.8ZM93.0,68.1L45.2,68.2L43.5,67.1L41.8,67.7L40.2,67.0L39.4,65.1L39.3,61.3L40.6,58.8L43.1,58.8L45.2,57.5L90.5,57.5L147.8,60.5L150.1,61.0L151.0,61.8L148.3,63.1L139.1,64.7L93.0,68.1ZM675.2,68.2L644.0,68.2L642.8,68.0L642.0,67.1L639.9,67.6L638.6,67.0L638.1,66.0L637.9,61.0L639.1,58.8L641.5,58.8L643.6,57.5L675.2,57.5L675.2,68.2ZM434.2,66.0L431.7,65.9L430.2,64.3L430.2,61.4L432.0,59.7L434.6,59.8L436.3,61.4L436.2,64.3L434.2,66.0Z" fill="#fb7757" fill-rule="evenodd"/><path d="M574.2,68.5L568.4,68.5L554.3,66.6L543.5,63.7L526.0,57.7L514.0,51.5L513.1,50.5L513.1,49.7L515.6,46.8L522.7,43.0L526.0,42.0L534.3,40.9L548.0,43.2L576.9,46.4L584.6,49.7L586.7,51.4L587.2,53.9L587.2,65.1L586.7,66.5L585.4,67.3L574.2,68.5ZM423.8,76.5L408.0,76.7L390.1,74.9L373.9,72.2L362.1,65.6L352.3,59.3L346.5,54.8L345.2,52.2L346.3,47.2L348.1,45.0L353.5,42.8L376.4,43.6L390.5,44.9L401.2,47.2L403.4,48.2L408.0,51.9L410.1,52.9L427.1,54.5L428.1,55.1L428.7,56.8L428.7,71.0L427.5,73.5L423.8,76.5ZM238.4,84.3L233.8,84.3L232.2,83.3L231.5,73.9L230.1,71.8L226.4,69.5L217.6,65.5L211.4,60.9L208.5,51.8L208.5,46.8L209.6,44.7L211.4,43.8L214.3,43.4L270.4,43.8L273.3,44.5L277.1,47.2L278.3,49.7L278.1,56.8L273.4,63.9L270.6,73.9L269.1,76.8L266.7,77.7L243.4,78.3L241.4,79.7L240.4,83.5L238.4,84.3ZM87.6,66.8L51.4,66.7L46.8,66.5L43.1,65.4L41.8,66.2L40.6,65.1L40.4,62.2L40.8,60.5L41.8,59.9L43.1,60.7L47.7,59.5L63.4,59.3L99.2,59.5L103.3,60.4L105.1,62.2L104.7,64.7L102.1,66.1L87.6,66.8ZM675.2,66.8L648.6,66.7L645.3,66.5L641.5,65.4L640.3,66.2L639.1,65.1L638.9,61.8L639.5,60.3L640.3,59.9L641.5,60.7L647.0,59.5L675.2,59.3L675.2,66.8Z" fill="#fb694a" fill-rule="evenodd"/><path d="M578.0,67.7L565.9,67.9L552.6,65.7L544.7,63.7L526.0,57.4L514.8,51.2L513.9,49.7L516.0,47.2L523.2,43.5L526.0,42.6L534.3,41.5L547.6,43.7L576.3,46.8L584.9,50.5L586.2,51.8L586.6,53.5L586.6,63.9L586.2,66.0L584.6,66.9L578.0,67.7ZM422.9,76.4L408.0,76.4L390.8,74.7L373.9,71.9L361.9,65.1L352.2,58.9L346.7,54.7L345.5,52.2L346.5,47.3L348.4,45.1L353.5,43.0L376.4,43.8L390.1,45.1L400.9,47.4L403.4,48.5L408.0,52.2L410.1,53.1L427.1,54.7L428.1,55.5L428.4,56.8L428.3,71.4L425.9,74.9L422.9,76.4ZM239.2,83.9L234.7,84.1L232.6,83.5L232.0,81.8L231.8,74.3L230.8,72.2L226.8,69.5L217.4,65.1L211.8,61.0L210.6,58.6L208.8,52.2L208.7,47.2L209.5,45.1L211.4,44.0L214.3,43.6L270.4,44.1L273.2,44.7L277.1,47.5L278.1,49.7L277.9,56.5L273.2,63.9L270.4,73.8L268.8,76.8L266.7,77.4L243.0,78.1L241.3,79.3L240.5,82.8L239.2,83.9ZM99.2,66.0L50.6,66.2L44.7,65.2L43.6,64.3L43.2,63.1L43.6,61.8L44.7,60.9L50.1,59.9L96.3,59.9L101.3,60.5L103.5,62.2L103.6,63.5L102.9,64.7L99.2,66.0ZM675.2,66.3L646.5,66.0L642.8,65.0L641.8,63.9L641.7,62.6L643.0,61.0L647.4,60.0L675.2,59.8L675.2,66.3Z" fill="#f75b40" fill-rule="evenodd"/><path d="M574.2,67.6L565.1,67.5L552.6,65.3L543.3,63.1L525.5,56.8L519.7,53.5L517.7,51.4L515.6,50.3L515.5,49.3L517.3,47.6L523.9,44.3L534.7,42.5L548.0,44.8L576.8,48.0L583.5,51.0L585.1,52.2L585.6,54.3L585.5,64.3L584.9,65.6L580.9,67.0L574.2,67.6ZM423.4,76.1L408.0,76.2L389.7,74.3L374.3,71.8L362.4,65.1L347.1,54.7L346.0,53.5L345.8,52.2L346.7,47.6L348.6,45.3L353.5,43.3L376.4,44.1L390.5,45.5L400.8,47.6L403.0,48.5L408.0,52.5L410.1,53.4L427.1,55.1L427.9,55.9L428.2,57.2L428.1,71.4L426.3,74.1L423.4,76.1ZM239.2,83.6L235.1,83.9L233.0,83.4L232.3,81.8L232.1,74.3L230.9,72.0L226.8,69.2L217.2,64.7L211.8,60.6L209.0,51.8L209.0,47.2L209.9,45.1L211.8,44.2L214.7,43.9L270.0,44.3L272.9,44.9L276.9,47.6L277.9,50.1L277.5,56.8L273.1,63.5L270.1,73.9L268.8,76.4L266.3,77.2L243.0,77.9L241.0,79.3L240.2,82.7L239.2,83.6ZM96.3,65.6L51.4,65.6L46.5,64.7L45.3,63.1L45.9,61.8L47.6,61.0L54.7,60.4L94.6,60.5L99.2,61.0L101.3,62.2L101.5,63.5L100.4,64.7L96.3,65.6ZM675.2,65.7L648.9,65.6L645.0,64.7L643.8,63.1L645.0,61.4L648.9,60.5L675.2,60.4L675.2,65.7Z" fill="#f34c37" fill-rule="evenodd"/><path d="M421.3,76.0L409.2,76.0L399.7,75.1L388.9,73.9L374.2,71.4L362.3,64.7L352.5,58.5L347.3,54.5L346.1,52.2L346.9,47.9L348.8,45.5L354.0,43.5L376.0,44.4L390.1,45.7L400.9,48.0L403.0,48.9L408.0,52.9L410.1,53.7L426.7,55.3L427.6,56.0L427.9,57.6L427.7,71.4L426.8,73.1L424.7,75.1L421.3,76.0ZM238.4,83.5L234.3,83.5L232.8,82.7L232.3,74.3L230.8,71.4L226.4,68.7L217.7,64.7L212.1,60.5L209.3,52.1L209.3,47.2L210.2,45.3L212.2,44.3L214.7,44.2L270.4,44.6L272.9,45.2L276.7,47.8L277.6,50.1L277.4,56.4L272.8,63.5L270.0,73.4L268.8,76.0L266.7,76.9L243.0,77.6L240.9,78.9L239.9,82.7L238.4,83.5ZM575.9,67.2L565.2,67.2L544.3,63.1L526.1,56.8L519.7,53.0L518.5,51.8L518.3,50.5L518.9,49.6L520.2,49.1L527.7,49.6L541.0,51.2L565.1,55.2L573.4,55.9L580.9,57.5L582.3,58.9L582.7,60.1L582.7,63.9L582.2,65.6L580.5,66.8L575.9,67.2ZM91.7,64.7L55.0,64.7L50.7,64.3L48.9,63.1L49.6,62.2L52.2,61.6L63.4,61.3L92.5,61.4L96.3,61.8L97.9,63.1L96.1,64.3L91.7,64.7ZM675.2,64.8L652.4,64.7L649.0,64.3L647.4,63.1L649.0,61.8L652.4,61.4L675.2,61.3L675.2,64.8Z" fill="#f03d2d" fill-rule="evenodd"/><path d="M422.1,75.6L409.2,75.6L399.9,74.7L388.7,73.5L374.3,71.0L362.4,64.3L347.7,54.3L346.5,52.2L347.3,47.9L349.6,45.5L354.4,43.9L370.2,44.3L389.0,46.0L401.3,48.5L407.6,53.1L409.6,54.0L426.3,55.5L427.1,56.1L427.5,57.4L427.4,71.0L426.7,72.6L425.0,74.4L422.1,75.6ZM238.4,83.2L234.3,83.2L233.0,82.2L232.7,74.3L232.0,72.2L230.9,71.1L226.4,68.3L217.7,64.3L212.2,60.1L209.7,52.2L209.6,47.2L210.4,45.5L212.2,44.7L214.7,44.5L270.0,44.9L272.9,45.5L276.4,48.0L277.2,50.1L277.0,56.4L272.4,63.5L269.6,73.6L268.3,75.9L266.3,76.6L242.6,77.3L240.8,78.5L239.7,82.2L238.4,83.2ZM577.1,66.8L565.5,66.9L545.1,62.9L526.0,56.4L519.8,52.7L518.8,50.5L520.6,49.4L525.6,49.7L539.6,51.4L564.2,55.4L574.2,56.4L580.0,57.6L581.5,58.5L582.2,59.7L582.2,64.7L580.6,66.4L577.1,66.8Z" fill="#e53228" fill-rule="evenodd"/><path d="M423.4,74.7L408.4,74.9L389.7,73.1L374.6,70.6L362.8,63.9L348.6,54.3L347.1,52.2L347.7,48.4L348.6,46.9L350.0,46.0L354.8,44.4L370.2,44.9L389.3,46.6L401.7,49.3L407.2,53.5L409.2,54.5L425.9,56.1L426.7,56.7L427.0,58.0L426.9,70.6L426.0,72.6L423.4,74.7ZM238.4,82.7L235.1,82.8L233.7,82.2L233.1,73.9L231.4,70.8L227.2,68.2L218.6,64.3L212.6,59.9L210.1,52.2L210.0,47.6L210.7,46.0L212.2,45.2L214.7,44.9L270.0,45.4L272.7,46.0L276.1,48.5L276.8,50.5L276.7,56.0L271.9,63.5L269.2,73.4L268.0,75.6L266.3,76.1L242.6,76.8L240.2,78.5L239.2,81.9L238.4,82.7ZM578.0,66.4L565.9,66.6L545.3,62.6L526.8,56.4L520.6,52.8L519.4,50.8L520.2,50.0L521.9,49.7L536.9,51.4L579.6,57.9L581.7,59.5L581.9,63.9L580.9,65.8L578.0,66.4Z" fill="#d92523" fill-rule="evenodd"/><path d="M238.0,81.8L235.5,82.0L234.3,81.4L233.6,72.6L232.2,70.5L227.6,67.5L218.7,63.5L213.5,59.7L211.0,52.5L210.8,48.0L211.4,46.5L215.1,45.7L270.0,46.2L272.5,46.7L275.4,48.9L276.0,51.0L275.8,56.0L271.4,62.6L268.8,72.1L267.5,74.8L265.8,75.3L242.2,76.1L239.7,77.6L238.0,81.8ZM388.4,66.4L382.6,66.4L382.2,66.0L372.2,65.1L367.7,64.2L365.2,63.0L363.6,61.0L363.1,59.3L363.1,53.0L363.9,50.5L366.4,48.5L368.9,48.0L389.3,48.2L394.7,49.0L398.4,50.3L400.5,52.2L401.3,54.3L401.7,56.4L401.3,62.6L398.4,65.1L393.4,66.0L388.9,66.0L388.4,66.4ZM578.0,66.0L565.9,66.2L545.4,62.2L526.9,56.0L521.2,52.6L520.1,51.0L521.0,50.3L522.7,50.2L536.9,51.8L579.2,58.2L581.3,59.7L581.6,63.5L580.5,65.5L578.0,66.0ZM421.3,71.8L415.5,71.8L413.8,71.4L412.6,70.1L412.1,60.1L412.6,58.5L413.8,57.3L422.5,57.3L424.2,58.5L424.2,70.1L422.9,71.4L421.3,71.8Z" fill="#ce1a1e" fill-rule="evenodd"/><path d="M227.2,62.3L221.0,62.0L219.1,61.4L217.6,60.1L217.0,58.0L217.2,51.8L217.8,50.1L218.9,49.0L224.3,47.9L256.3,47.8L262.9,47.2L268.8,48.4L271.2,51.4L270.4,53.5L267.8,54.7L245.1,56.7L240.9,57.7L233.8,60.6L227.2,62.3ZM390.5,65.1L380.8,65.1L369.7,63.6L366.4,62.6L364.8,61.0L364.2,58.9L364.1,54.3L364.8,51.3L367.3,49.4L372.2,48.9L389.7,49.1L394.1,49.7L397.6,50.9L399.3,52.2L400.4,54.7L400.8,59.3L400.2,62.2L399.2,63.5L397.6,64.3L390.5,65.1ZM576.7,65.6L565.5,65.6L545.9,61.8L527.3,55.5L522.9,53.0L521.4,51.4L524.7,51.0L538.9,52.6L563.4,56.6L573.8,57.5L579.5,58.9L580.9,60.5L580.9,64.0L579.7,65.1L576.7,65.6ZM237.2,78.2L235.9,78.4L235.1,77.7L234.3,74.7L234.7,70.9L235.5,69.6L236.3,69.3L237.6,70.1L238.4,73.1L238.1,76.4L237.2,78.2Z" fill="#c2161b" fill-rule="evenodd"/><path d="M226.4,61.8L220.6,61.4L218.1,59.4L217.7,58.0L218.4,56.0L218.4,51.8L218.9,50.5L220.1,49.4L225.9,48.6L256.3,48.5L262.9,47.6L267.9,48.6L269.3,49.7L269.9,51.4L269.2,53.0L266.7,54.2L244.2,56.1L226.4,61.8ZM390.1,64.3L381.0,64.3L370.6,62.9L367.3,62.0L366.0,61.0L365.1,58.9L364.9,54.7L365.6,51.9L368.1,50.2L373.5,49.8L389.7,50.0L393.9,50.5L397.2,51.7L398.8,53.3L399.6,55.5L399.9,59.3L399.3,61.8L396.8,63.5L390.1,64.3ZM577.1,64.7L567.2,65.0L553.7,63.1L544.3,60.5L529.4,55.5L525.2,53.5L524.3,52.2L527.7,52.1L539.6,53.5L565.1,57.6L574.0,58.0L579.2,59.7L580.0,60.5L580.3,62.2L579.8,63.9L577.1,64.7ZM236.8,76.5L235.5,76.0L235.1,74.3L235.5,71.9L236.3,71.2L237.2,71.9L237.5,73.5L236.8,76.5Z" fill="#b61319" fill-rule="evenodd"/><path d="M227.6,61.0L221.8,61.0L219.0,59.3L218.7,57.6L219.7,56.0L219.8,52.2L221.0,50.5L223.0,49.7L226.4,49.5L255.9,49.5L258.4,48.4L262.1,48.0L266.3,48.5L268.5,50.1L267.6,52.2L265.8,53.2L243.4,55.3L230.1,59.7L227.6,61.0ZM389.3,63.1L381.4,63.0L368.5,61.0L367.3,60.1L366.4,58.3L366.3,55.1L366.8,53.0L368.0,51.8L369.7,51.3L380.6,51.1L391.0,51.4L396.6,53.0L397.7,54.3L398.4,56.4L398.5,59.3L397.9,61.0L395.5,62.4L389.3,63.1ZM573.0,62.8L555.1,62.7L552.6,62.0L551.7,60.5L552.6,58.9L555.1,58.2L572.6,58.4L575.1,59.1L575.9,60.5L575.1,62.2L573.0,62.8Z" fill="#a91016" fill-rule="evenodd"/><path d="M265.0,52.2L259.6,52.4L257.5,51.6L256.9,50.5L257.5,49.5L259.2,48.8L265.0,48.8L266.7,49.5L267.3,50.5L266.7,51.5L265.0,52.2ZM225.9,60.6L221.8,60.2L219.9,58.5L220.4,56.8L222.3,55.5L222.5,52.6L223.9,51.6L233.8,51.0L249.5,51.8L240.5,54.2L229.7,58.0L228.6,59.7L225.9,60.6ZM385.1,60.6L373.1,60.5L371.0,59.2L370.7,56.4L372.2,54.9L373.9,54.5L383.9,54.4L386.4,54.9L388.0,56.4L388.4,57.6L387.2,59.7L385.1,60.6ZM570.9,62.2L555.9,62.2L553.9,61.7L552.9,60.5L554.1,59.3L558.0,58.8L571.3,58.9L573.6,59.3L574.7,60.1L574.7,61.0L573.8,61.7L570.9,62.2Z" fill="#980c13" fill-rule="evenodd"/><path d="M262.9,51.8L260.0,51.6L258.6,50.5L259.4,49.7L261.3,49.3L263.8,49.4L265.4,50.1L265.0,51.3L262.9,51.8ZM383.5,58.9L375.6,59.0L373.8,58.5L373.3,57.6L373.8,56.8L375.1,56.3L383.0,56.3L384.8,56.8L385.3,57.6L384.8,58.5L383.5,58.9ZM226.4,59.3L223.0,59.3L221.9,58.5L221.9,57.6L223.5,56.7L226.4,56.8L227.6,58.0L226.4,59.3ZM571.7,61.0L558.8,61.3L555.4,60.5L558.0,59.9L568.8,59.8L571.8,60.1L572.3,60.5L571.7,61.0Z" fill="#840711" fill-rule="evenodd"/></g></g><path d="M43.5,170.44H639.5M43.5,187.12H639.5M43.5,203.8H639.5M43.5,220.48H639.5M43.5,237.16H639.5M93.37,164.1V243.5M143.24,164.1V243.5M193.12,164.1V243.5M242.99,164.1V243.5M292.86,164.1V243.5M342.73,164.1V243.5M392.6,164.1V243.5M442.48,164.1V243.5M492.35,164.1V243.5M542.22,164.1V243.5M592.09,164.1V243.5" stroke="#2a2a2a" stroke-width="0.75" stroke-dasharray="2.1,1.1" fill="none"/><g transform="translate(0,164.1)" clip-path="url(#mapclip)"><path d="M165.4,0.1L167.0,3.8L167.7,5.8L169.3,7.8L171.5,9.3L174.8,10.8L178.2,12.0L182.3,13.5L184.8,12.7L186.5,12.8L189.5,15.5L191.5,16.5L193.9,17.3L196.8,18.0L197.6,18.7L199.8,20.9L200.3,21.7L200.1,22.7L201.3,23.7L203.1,24.0L203.9,25.7L205.8,26.0L207.4,26.9L209.1,27.5L209.7,27.0L208.9,26.2L210.4,24.9L212.2,25.7L213.1,27.4L213.9,28.4L214.2,30.5L213.9,33.0L212.2,35.5L211.4,37.2L209.7,38.4L208.9,40.5L208.2,43.0L209.2,45.4L207.6,47.2L207.9,49.7L210.1,52.2L212.2,55.5L214.4,59.4L216.1,62.2L217.2,64.7L220.5,67.1L223.9,68.9L225.9,70.6L226.2,73.9L226.0,76.4L225.5,79.3M159.2,0.1L159.9,1.3L160.7,1.0L160.5,0.1M180.3,0.1L180.6,3.0L181.1,5.5L182.6,7.5L184.8,8.7L186.5,9.3L189.0,8.7L191.0,8.5L192.3,6.7L192.6,4.7L195.6,3.8L198.1,3.8L197.3,5.8L196.8,8.8L195.9,10.5L195.4,13.3L197.3,13.3L201.4,13.0L204.1,14.3L203.9,16.3L203.8,18.9L203.3,21.4L204.8,23.0L207.2,24.9L209.7,24.2L211.4,23.7L214.1,25.4L215.1,25.5L216.4,24.2L217.2,22.2L218.9,21.4L220.9,20.9L222.7,19.9L223.9,19.0L224.2,20.2L223.2,21.4L223.7,22.2L224.4,21.7L226.0,20.4L228.9,22.0L233.0,22.0L236.3,22.0L238.8,22.0L239.7,23.0L241.3,25.4L243.3,25.9L245.5,28.0L247.6,29.7L251.3,29.9L254.6,30.5L256.8,32.7L257.9,34.7L258.8,36.7L259.6,38.9L261.3,40.0L262.1,41.4L263.8,40.7L266.3,41.4L268.8,43.5L272.1,44.2L274.6,44.5L277.9,45.5L280.4,47.2L283.7,48.4L284.5,50.5L284.9,52.2L284.2,54.7L282.1,56.9L280.4,58.9L278.7,61.1L277.9,63.1L277.9,66.4L277.1,69.7L276.2,72.2L274.9,74.7L273.7,76.4L272.1,78.1L269.6,78.4L267.9,79.3M201.6,3.2L203.1,1.8L206.4,1.0L208.9,1.3L211.4,2.5L213.9,3.7L216.4,4.5L219.4,5.8L217.2,6.5L213.9,6.5L213.4,5.2L210.6,3.8L207.2,2.8L204.8,3.0L201.6,3.2M219.0,6.5L221.7,6.5L224.7,6.5L227.2,7.5L229.0,8.7L226.4,9.3L224.0,10.3L223.0,9.5L219.4,9.0L221.7,8.7L221.9,7.2L219.0,6.5M212.6,9.0L215.9,9.3L215.1,9.8L212.7,9.3L212.6,9.0M231.0,8.8L233.7,9.0L233.5,9.7L231.0,9.7L231.0,8.8M239.8,21.9L241.3,21.7L241.3,22.9L239.8,22.9M220.9,44.9L226.0,46.0L229.5,44.4L234.2,44.9L239.5,46.0L241.8,44.9L246.3,44.7L251.1,43.2L255.8,42.0L258.1,40.2M230.2,28.7L233.0,27.0L236.3,26.4L239.7,25.5M316.1,0.1L315.6,2.2L314.5,4.7L315.3,7.2L315.6,9.7L314.8,13.0L313.8,15.2L314.8,17.2L315.0,19.2L317.0,20.5L318.6,22.2L320.6,23.9L322.0,26.5L324.4,28.5L326.9,30.5L330.3,32.4L334.4,31.2L337.7,31.4L340.2,31.4L343.6,30.0L345.2,29.4L347.7,29.0L350.2,29.2L351.9,31.4L353.5,32.5L355.2,32.2L356.9,32.0L358.5,33.4L359.0,35.5L358.5,38.0L358.2,40.5L359.4,43.0L361.8,45.5L362.7,48.0L363.2,49.7L364.3,52.2L364.8,54.7L365.2,57.7L363.8,60.5L363.0,63.1L362.3,67.2L363.5,69.7L365.2,73.1L366.7,76.4L366.8,79.3M315.6,13.0L318.6,12.0L322.0,14.3M327.4,21.2L330.9,18.2L336.1,15.2L338.1,12.2L341.2,11.2L343.2,12.2L344.7,15.7M350.9,23.7L353.5,26.2L353.5,29.7M353.7,26.7L358.0,26.7M363.2,49.7L366.0,47.2L368.5,46.4L370.2,43.0L371.8,39.7L373.5,37.2L376.8,36.4L380.1,36.2L382.6,38.0L385.1,38.9M395.6,39.2L398.4,39.2L399.3,40.2L400.1,41.4L398.4,43.9L395.9,43.5L395.3,41.4L395.6,39.2M391.3,45.2L391.6,48.9L392.9,51.4L394.3,53.9M399.8,55.5L400.3,58.0L400.6,60.5L401.2,63.4M401.7,0.1L403.9,3.0L404.7,5.5L406.7,9.7L408.4,13.3L411.7,16.7L414.5,19.7L414.5,20.5L416.7,22.4L419.2,21.9L423.4,21.0L427.8,20.0L427.5,22.2L427.2,24.7L425.0,27.2L423.4,30.5L420.0,34.7L416.7,37.2L413.4,40.5L410.9,43.0L409.2,45.0L408.1,47.2L407.9,49.7L408.1,52.2L408.7,54.7L409.7,57.2L410.1,60.5L410.4,63.9L409.2,66.4L405.1,69.4L401.7,72.2L400.9,74.7L401.7,77.2L401.7,79.3M406.7,0.1L407.9,3.0L409.2,5.5L411.7,9.7L413.4,13.0L414.2,16.3L415.0,18.5L417.5,18.3L420.9,17.2L424.2,16.0L427.5,14.3L430.0,12.5L434.2,10.8L436.7,9.3L438.3,8.0L440.0,5.5L441.6,2.5L440.8,1.3L439.8,0.1M424.7,59.7L425.9,63.1L426.7,65.6L425.0,68.9L423.7,73.1L422.2,77.2L421.4,79.3M415.4,79.3L414.7,76.4L416.5,73.1L415.9,68.9L416.7,66.7L420.0,65.6L421.7,63.9L422.5,62.2L424.7,59.7M456.6,0.3L458.3,2.2L459.1,3.0L459.9,4.7L462.4,4.2L463.4,2.7L463.8,4.7L463.9,8.0L464.6,11.3L465.4,13.8L466.6,16.3L467.1,18.3L468.2,20.5L469.6,23.4L470.7,25.7L471.7,26.2L472.7,24.9L474.4,24.2L475.4,22.5L475.6,20.5L476.1,18.0L475.9,14.7L477.4,12.7L479.5,11.7L481.5,9.7L484.0,7.2L486.5,6.0L487.4,3.8L489.9,3.3L491.5,3.3L493.2,2.2L494.8,2.2L495.7,4.2L496.2,5.2L497.3,6.7L499.3,8.8L499.8,11.3L499.5,13.0L500.7,13.3L503.2,11.8L504.8,12.2L505.3,14.7L506.1,17.2L506.6,20.5L506.5,23.0L506.1,25.5L507.3,27.2L509.0,28.9L509.5,31.4L510.3,33.9L511.5,35.5L514.8,37.5L516.0,37.4L514.6,33.4L514.5,30.5L512.3,29.4L510.6,28.2L509.3,25.9L507.8,23.9L507.6,22.2L508.3,19.7L509.0,17.5L510.5,18.5L512.0,18.9L513.5,19.7L514.0,21.0L516.5,22.4L517.3,24.7L517.6,25.2L519.8,23.9L520.6,22.2L523.1,21.0L524.3,19.7L524.4,17.2L523.9,14.7L522.3,13.0L520.6,11.3L518.9,8.8L518.6,7.2L519.8,5.5L521.4,3.8L523.1,3.7L525.3,4.0L526.4,5.8L528.1,3.8L531.4,2.5L533.1,2.2L536.4,1.3L538.1,0.1M475.6,23.5L476.6,24.2L477.9,25.9L478.7,28.0L478.4,29.4L476.7,29.9L475.7,28.9L475.4,26.7L475.6,23.5M523.3,7.7L524.8,6.3L526.6,6.3L527.3,7.2L525.6,9.2L523.9,8.8L523.3,7.7M542.4,0.1L542.4,1.3L543.4,3.2L543.9,2.0L544.7,0.7L545.0,0.1M543.2,8.8L545.9,8.8L545.9,11.3L544.7,13.3L544.9,15.5L546.4,16.0L548.9,18.0L547.2,18.0L544.7,16.7L543.2,15.8L542.2,15.0L541.9,12.2L542.7,10.5L543.2,8.8M545.5,28.0L548.0,26.4L550.5,24.7L552.7,24.2L552.7,28.0L551.4,29.7L548.9,28.9L547.2,27.2L545.5,28.0M549.4,18.9L551.4,19.2L551.7,21.4L550.5,22.7L549.4,20.9L549.4,18.9M545.5,20.0L547.2,20.5L546.4,22.2L545.4,21.9L545.5,20.0M547.2,21.7L548.0,23.0L547.5,24.5L546.4,23.2L547.2,21.7M537.6,25.9L539.7,23.9L541.4,20.9M523.9,37.2L524.9,36.4L527.3,36.7L530.6,34.4L532.2,32.2L534.7,30.9L536.4,28.9L537.7,28.0L538.6,29.7L540.9,31.0L538.9,32.5L538.2,34.7L538.9,38.0L540.6,38.2L538.1,39.7L536.4,42.2L535.9,44.7L533.1,46.0L530.6,45.0L527.3,44.7L525.6,43.0L524.8,40.5L523.9,37.2M501.2,30.4L504.8,31.0L506.5,33.0L509.8,36.0L514.8,39.7L516.5,42.2L518.9,44.7L518.6,49.4L516.5,49.5L512.8,46.4L510.6,43.9L509.0,41.0L506.8,37.2L504.0,34.2L501.2,30.4M517.6,51.0L519.8,49.7L523.1,50.9L526.4,51.2L529.8,51.2L533.1,52.5L533.1,53.9L528.9,53.5L525.6,53.2L522.3,52.7L519.8,52.0L517.6,51.0M533.9,53.7L535.6,53.9M536.9,54.0L540.6,53.9M541.9,54.0L544.7,53.9L547.2,53.5M548.0,56.9L550.5,54.7L554.4,53.7L550.5,55.5L548.0,56.9M541.4,48.9L541.4,45.5L540.2,44.4L541.4,40.5L542.2,38.9L543.5,37.5L546.4,38.0L549.7,38.0L550.9,37.2L548.9,39.0L544.7,38.9L543.1,39.7L543.9,41.4L547.2,41.0L544.7,42.7L546.4,45.5L547.5,47.2L545.5,47.5L543.9,44.7L542.7,44.7L542.9,48.9L541.4,48.9M555.2,36.4L555.5,38.9L556.7,37.7L555.5,39.4L556.4,41.0L554.9,39.7L555.2,36.4M555.5,44.7L559.7,45.0L560.2,46.0L556.4,45.7L555.5,44.7M552.2,45.0L554.2,45.4L553.0,46.0M560.5,41.7L563.0,40.4L565.5,41.2L567.2,45.2L571.3,42.2L575.5,43.7L579.6,45.0L582.9,46.0L585.1,48.4L587.9,49.7L588.6,51.4L587.1,52.5L589.1,53.2L591.3,55.5L592.9,56.9L590.4,56.9L587.1,55.5L584.6,52.9L582.1,52.5L580.5,54.7L577.1,54.9L573.8,53.2L571.8,53.7L573.0,51.4L571.3,48.0L567.2,47.0L563.8,46.4L562.2,44.4L560.5,41.7M589.6,48.9L592.1,48.0L594.6,46.7L595.7,48.0L593.8,49.7L590.4,50.0L589.6,48.9M592.9,44.0L595.4,45.5L597.1,47.5M615.4,73.4L617.9,75.2L620.4,77.1M637.5,68.9L639.5,69.6L639.1,67.2L641.8,66.9M531.7,79.3L531.9,76.4L532.4,76.1L535.6,74.2L539.7,73.6L543.9,72.2L546.0,68.9L548.0,67.2L549.7,65.6L552.2,63.1L554.7,63.4L557.2,64.7L558.8,61.4L559.7,60.5L562.2,58.9L564.7,59.4L567.2,60.0L569.6,59.7L570.1,61.4L568.0,63.9L569.6,65.6L571.3,66.9L573.8,68.4L576.3,68.9L578.0,65.6L578.1,62.2L578.8,58.0L579.6,57.5L581.3,62.2L582.9,63.6L584.3,64.7L584.6,67.2L585.8,70.6L587.9,72.2L590.4,73.9L591.3,76.4L593.4,77.2L593.8,79.3M496.8,17.2L496.7,20.5" stroke="#111" stroke-width="1.05" fill="none" stroke-linejoin="round"/><circle cx="84.1" cy="7.0" r="1" fill="#111"/><circle cx="366.2" cy="17.8" r="1" fill="#111"/></g><rect x="43.5" y="164.1" width="596" height="79.4" fill="none" stroke="#555" stroke-width="1"/><text x="38.2" y="172.44" font-size="11" text-anchor="end">20°N</text><text x="38.2" y="189.12" font-size="11" text-anchor="end">10°N</text><text x="38.2" y="205.8" font-size="11" text-anchor="end">0°</text><text x="38.2" y="222.48" font-size="11" text-anchor="end">10°S</text><text x="38.2" y="239.16" font-size="11" text-anchor="end">20°S</text><text x="43.5" y="259.3" font-size="11" text-anchor="middle">180°</text><text x="93.37" y="259.3" font-size="11" text-anchor="middle">150°W</text><text x="143.24" y="259.3" font-size="11" text-anchor="middle">120°W</text><text x="193.12" y="259.3" font-size="11" text-anchor="middle">90°W</text><text x="242.99" y="259.3" font-size="11" text-anchor="middle">60°W</text><text x="292.86" y="259.3" font-size="11" text-anchor="middle">30°W</text><text x="344.03" y="259.3" font-size="11" text-anchor="middle">0°</text><text x="393.9" y="259.3" font-size="11" text-anchor="middle">30°E</text><text x="443.78" y="259.3" font-size="11" text-anchor="middle">60°E</text><text x="493.65" y="259.3" font-size="11" text-anchor="middle">90°E</text><text x="543.52" y="259.3" font-size="11" text-anchor="middle">120°E</text><text x="593.39" y="259.3" font-size="11" text-anchor="middle">150°E</text><text x="341.9" y="273.5" font-size="12" text-anchor="middle" textLength="53" lengthAdjust="spacingAndGlyphs">Longitude</text><text x="341.4" y="155.3" font-size="12" text-anchor="middle" font-weight="bold" textLength="62.2" lengthAdjust="spacingAndGlyphs">(b) SH (#2)</text><text transform="translate(10,203.8) rotate(-90)" font-size="12" text-anchor="middle" textLength="42.8" lengthAdjust="spacingAndGlyphs">Latitude</text><rect x="645.6" y="164.1" width="5.2" height="79.4" fill="url(#cb)" stroke="#666" stroke-width="0.8"/><path d="M650.8,164.1h2" stroke="#444" stroke-width="0.8"/><text x="655.2" y="167.9" font-size="11" textLength="14.2" lengthAdjust="spacingAndGlyphs">1.0</text><path d="M650.8,203.8h2" stroke="#444" stroke-width="0.8"/><text x="655.2" y="207.6" font-size="11" textLength="14.2" lengthAdjust="spacingAndGlyphs">0.5</text><path d="M650.8,243.5h2" stroke="#444" stroke-width="0.8"/><text x="655.2" y="247.3" font-size="11" textLength="14.2" lengthAdjust="spacingAndGlyphs">0.0</text><text transform="translate(684.6,204.3) rotate(-90)" font-size="12" text-anchor="middle"><tspan font-style="italic">k</tspan><tspan font-size="8.5" dx="1.6" dy="-5.2">c</tspan></text><g transform="translate(0,308.4)" clip-path="url(#mapclip)"><g filter="url(#fblur)"><path d="M240.1,86.5L138.3,86.8L132.0,86.4L129.5,84.9L128.3,82.7L128.2,78.5L129.4,75.1L132.0,72.2L140.8,64.5L151.0,57.6L109.6,58.0L67.2,56.3L63.0,55.5L46.0,56.0L10.3,55.7L9.9,49.7L10.2,28.9L39.8,28.1L43.9,27.3L62.2,27.3L66.4,26.1L80.9,25.6L154.9,24.4L176.5,28.2L193.1,32.2L203.9,34.2L204.9,28.4L206.4,26.7L208.9,25.8L246.7,25.5L251.3,26.4L254.6,29.1L257.9,27.8L260.4,27.6L272.5,30.6L312.0,30.6L348.1,31.6L351.5,32.0L354.0,33.1L355.8,34.7L357.5,37.6L357.9,41.0L356.3,45.5L354.4,48.3L351.5,49.8L341.9,50.9L290.4,50.9L289.5,54.7L288.4,56.4L286.6,57.5L284.1,57.9L265.0,55.7L260.4,54.6L258.0,51.8L257.7,49.7L258.1,47.6L253.0,46.1L250.5,44.8L249.0,42.6L248.4,39.4L220.1,41.7L216.4,41.5L209.1,39.7L209.6,45.5L207.2,50.0L236.3,57.2L238.8,58.2L240.8,60.1L242.1,64.3L244.2,81.4L243.1,84.7L240.1,86.5ZM675.2,56.7L665.2,56.3L661.5,55.5L623.3,56.0L609.1,55.0L602.1,52.9L595.4,49.1L591.0,44.3L590.1,42.2L590.1,40.5L592.2,36.8L595.8,33.6L601.2,31.2L608.3,29.4L616.6,28.5L638.2,28.1L642.0,27.3L660.7,27.3L664.8,26.1L675.2,26.0L675.6,43.9L675.2,56.7Z" fill="#ffebe2" fill-rule="evenodd"/><path d="M239.7,84.8L232.6,85.1L132.9,84.8L130.7,83.5L129.8,81.0L130.1,77.6L131.6,74.9L143.2,64.6L156.1,56.8L110.0,57.1L67.6,55.4L63.9,54.7L44.7,55.2L10.3,54.8L10.2,29.7L39.8,28.9L43.9,28.1L63.0,28.1L66.8,27.0L81.3,26.5L154.9,25.3L176.1,29.0L192.6,33.0L202.3,34.7L205.2,35.9L206.9,37.6L208.2,40.5L208.7,44.3L208.3,46.4L207.0,48.5L201.8,51.6L208.5,51.9L234.3,58.3L237.3,59.3L239.2,61.0L240.5,64.7L242.5,80.1L242.0,83.1L239.7,84.8ZM285.8,56.0L280.8,56.1L265.0,54.2L261.7,53.3L260.2,52.2L259.4,50.5L259.4,48.9L260.3,47.2L253.4,45.3L251.3,44.2L249.8,42.2L249.2,37.9L220.5,40.3L216.4,40.0L211.0,38.6L208.1,37.4L206.2,35.5L205.5,33.0L205.8,30.1L207.7,27.8L210.6,27.0L245.5,26.9L250.5,27.6L253.8,30.5L257.1,29.0L260.0,28.4L272.9,31.4L343.1,32.0L350.2,32.7L353.1,33.6L355.6,35.9L357.0,38.9L356.8,41.8L355.1,46.0L353.5,47.8L351.0,49.0L341.9,50.0L288.7,50.0L287.9,54.2L285.8,56.0ZM675.2,55.7L665.7,55.4L662.3,54.7L623.7,55.2L610.4,54.3L603.3,52.1L597.5,48.7L593.5,44.3L592.6,42.2L592.6,40.5L594.8,36.8L598.3,33.9L603.7,31.5L610.4,30.0L617.4,29.3L638.6,28.9L642.4,28.1L661.5,28.1L665.2,27.0L675.2,26.9L675.6,43.9L675.2,55.7ZM201.3,51.8L201.0,51.8L200.8,51.8L201.0,51.8L201.3,51.8Z" fill="#fee5d8" fill-rule="evenodd"/><path d="M139.9,56.4L108.7,56.4L68.0,54.7L64.3,54.1L43.1,54.6L10.3,54.2L10.2,30.5L10.3,30.1L40.2,29.5L43.9,28.6L63.4,28.6L67.2,27.6L81.3,27.2L155.7,26.0L175.2,29.5L193.4,33.9L202.3,35.4L206.0,37.5L207.8,41.4L207.8,45.5L206.0,48.5L202.7,50.3L193.1,53.7L173.6,55.7L139.9,56.4ZM675.2,55.1L662.7,54.1L623.7,54.6L611.2,53.7L605.0,51.8L599.1,48.5L595.0,43.9L594.3,40.5L596.2,37.2L599.6,34.3L604.6,32.1L610.4,30.7L617.9,29.9L638.6,29.5L642.4,28.6L661.9,28.6L665.7,27.6L675.2,27.5L675.6,43.9L675.2,55.1ZM284.5,54.8L267.1,53.1L262.5,52.1L261.3,51.0L261.0,49.7L261.4,48.5L263.1,47.2L254.2,44.9L251.7,43.7L250.3,41.4L249.6,36.7L222.6,39.1L217.2,39.0L211.4,37.6L208.5,36.2L206.9,33.9L206.9,30.9L208.4,28.9L211.4,28.1L245.1,28.0L250.1,28.7L253.0,31.5L257.5,29.5L260.0,29.1L272.9,32.1L342.7,32.6L352.3,33.9L354.8,35.9L356.3,38.9L356.2,41.8L354.6,45.5L352.7,47.6L350.2,48.6L341.5,49.4L287.5,49.4L286.9,49.7L286.6,53.3L284.5,54.8ZM237.2,83.5L136.2,83.6L132.4,82.7L131.6,81.4L131.3,79.7L131.8,77.6L133.1,75.6L142.0,67.6L147.8,63.5L157.0,58.2L161.5,57.3L205.6,53.1L233.6,59.7L237.4,61.4L238.9,64.7L240.9,80.1L239.9,82.7L237.2,83.5Z" fill="#fedccd" fill-rule="evenodd"/><path d="M146.2,55.6L110.0,55.9L68.0,54.2L64.7,53.7L40.2,54.1L10.3,53.7L10.2,30.9L40.2,30.0L44.3,29.0L63.9,29.0L67.6,28.1L81.3,27.7L155.3,26.5L176.1,30.2L192.9,34.3L202.3,35.9L205.6,37.9L207.2,41.4L207.4,45.1L205.6,48.1L202.3,49.9L193.5,53.0L175.2,55.0L146.2,55.6ZM675.2,54.6L663.2,53.7L624.5,54.1L612.5,53.4L606.2,51.6L600.6,48.5L596.7,44.3L595.7,41.0L597.3,37.6L600.5,34.7L605.4,32.5L611.2,31.1L618.3,30.4L638.6,30.0L642.4,29.1L662.3,29.0L666.1,28.1L675.2,28.0L675.2,54.6ZM283.3,53.1L270.6,51.8L264.5,50.5L264.2,49.5L265.8,48.9L277.2,48.5L267.5,47.7L253.0,43.9L250.8,41.4L250.5,35.2L218.5,37.9L214.3,37.2L209.7,35.5L208.3,33.9L208.2,31.4L209.3,29.9L211.9,29.3L245.1,29.2L250.0,30.1L251.3,31.4L252.1,33.1L256.7,30.4L260.0,29.6L269.6,32.2L272.9,32.6L342.7,33.1L352.3,34.5L354.5,36.4L355.8,39.3L355.6,41.8L353.9,45.5L352.3,47.2L349.8,48.1L341.5,48.8L283.4,48.9L284.7,49.7L285.2,51.0L284.5,52.6L283.3,53.1ZM235.1,81.0L137.8,81.0L135.0,80.6L134.3,79.3L135.8,76.6L144.5,68.9L153.2,63.1L158.0,60.5L205.2,55.7L209.7,56.4L233.0,62.2L235.1,63.1L236.5,66.0L238.1,78.5L237.6,80.3L235.1,81.0Z" fill="#fdd0bc" fill-rule="evenodd"/><path d="M145.3,55.1L110.0,55.5L65.1,53.3L30.2,53.7L10.3,53.2L10.3,31.1L40.2,30.4L43.9,29.4L64.3,29.4L67.6,28.6L81.3,28.1L155.3,27.0L176.1,30.7L192.7,34.7L201.8,36.3L205.1,38.0L206.8,41.4L206.9,45.1L205.2,47.8L201.8,49.6L193.5,52.5L174.8,54.6L145.3,55.1ZM675.2,54.1L663.6,53.3L624.9,53.7L613.3,53.0L607.5,51.4L602.0,48.5L598.1,44.3L597.0,41.0L598.7,37.6L601.7,34.9L606.2,32.8L612.0,31.4L639.1,30.4L642.4,29.4L662.7,29.4L666.1,28.6L675.2,28.5L675.2,54.1ZM346.5,48.0L284.1,48.4L268.8,47.4L253.0,43.3L251.3,41.0L251.1,36.4L251.8,34.3L253.4,32.7L257.1,30.8L260.0,30.1L272.5,33.1L341.5,33.6L351.5,34.7L353.4,35.9L354.9,38.0L355.4,40.1L354.8,42.6L353.5,45.2L352.0,46.8L346.5,48.0ZM225.5,36.0L219.7,36.3L215.6,35.7L211.3,34.3L210.4,33.4L210.2,32.2L211.0,31.4L213.5,30.9L243.4,30.9L248.0,31.3L249.3,32.6L248.8,33.4L247.1,33.9L225.5,36.0Z" fill="#fcc4ad" fill-rule="evenodd"/><path d="M145.7,54.7L110.0,55.1L65.1,52.9L28.5,53.2L10.3,52.8L10.3,31.5L40.6,30.8L43.9,29.8L64.3,29.8L67.6,29.0L81.3,28.5L155.3,27.4L176.1,31.1L192.7,35.1L201.8,36.7L204.9,38.4L206.4,41.8L206.4,45.1L204.7,47.6L201.0,49.5L192.7,52.3L174.8,54.2L145.7,54.7ZM675.2,53.7L663.6,52.9L624.9,53.2L614.0,52.6L608.1,51.0L602.8,48.0L599.3,44.3L598.2,41.0L599.6,38.0L602.8,35.1L607.1,33.2L612.5,31.9L639.1,30.8L642.4,29.8L662.7,29.8L666.5,29.0L675.2,28.9L675.2,53.7ZM345.6,47.6L283.7,47.9L268.8,46.9L253.4,42.9L251.8,41.0L251.6,36.8L252.1,34.8L253.4,33.3L257.1,31.3L260.0,30.6L272.5,33.6L341.5,34.0L349.0,34.7L351.9,35.4L353.8,37.2L354.8,39.3L354.7,41.4L353.8,43.9L352.7,45.5L351.0,46.7L345.6,47.6Z" fill="#fcb89e" fill-rule="evenodd"/><path d="M137.0,54.7L108.7,54.7L65.5,52.5L27.7,52.8L10.3,52.4L10.3,31.9L40.6,31.3L43.9,30.1L64.7,30.1L68.0,29.3L81.3,28.9L155.3,27.7L176.1,31.5L192.3,35.4L201.8,37.1L204.7,38.9L206.1,42.2L205.8,45.5L204.0,47.6L196.9,50.7L191.9,52.1L174.4,53.8L137.0,54.7ZM675.2,53.3L664.0,52.5L624.9,52.8L614.5,52.2L609.1,50.7L604.2,48.0L600.6,44.3L599.5,41.0L600.9,38.0L603.7,35.4L608.0,33.4L613.3,32.2L639.1,31.3L642.8,30.1L663.2,30.1L666.5,29.3L675.2,29.3L675.2,53.3ZM344.8,47.2L283.7,47.4L268.8,46.4L253.8,42.5L252.2,40.5L252.1,36.8L252.8,34.7L254.1,33.4L257.5,31.7L260.0,31.1L272.1,34.0L341.5,34.5L349.0,35.2L351.9,36.0L353.5,37.6L354.3,39.7L354.1,41.8L352.9,44.3L350.6,46.3L344.8,47.2Z" fill="#fcab8f" fill-rule="evenodd"/><path d="M139.5,54.3L108.7,54.3L65.5,52.2L26.5,52.4L10.3,51.9L10.3,32.4L40.6,31.7L44.3,30.4L65.1,30.5L68.0,29.7L81.3,29.3L155.3,28.1L175.2,31.7L192.3,35.8L201.4,37.4L204.3,39.1L205.7,42.2L205.6,45.1L203.9,47.2L197.7,50.0L191.9,51.7L174.8,53.4L139.5,54.3ZM675.2,53.0L664.0,52.2L624.9,52.4L615.0,51.8L609.5,50.2L605.1,47.6L601.6,43.9L600.8,41.0L602.2,38.0L605.0,35.5L608.7,33.8L613.9,32.6L639.1,31.7L642.8,30.4L663.6,30.5L666.5,29.7L675.2,29.6L675.2,53.0ZM342.3,46.8L283.7,46.8L269.2,45.9L254.4,42.2L252.9,40.5L252.6,37.2L253.2,35.1L254.5,33.9L257.8,32.2L260.0,31.7L272.1,34.6L341.8,35.1L349.8,35.9L352.4,37.2L353.5,38.9L353.7,40.5L353.0,43.0L351.5,45.1L349.0,46.2L342.3,46.8Z" fill="#fc9d7f" fill-rule="evenodd"/><path d="M140.8,53.9L109.6,54.0L65.9,51.8L25.6,51.9L10.3,51.4L10.3,32.9L41.0,32.2L42.3,31.2L44.3,30.8L65.1,30.8L68.0,30.1L81.3,29.6L155.3,28.5L175.7,32.1L192.3,36.1L201.0,37.7L203.9,39.2L205.3,42.2L205.1,45.1L203.5,47.0L197.3,49.7L191.9,51.3L174.8,53.1L140.8,53.9ZM675.2,52.6L664.4,51.8L624.5,51.9L616.0,51.4L611.3,50.1L606.6,47.6L603.1,43.9L602.2,41.0L603.4,38.4L606.0,35.9L609.5,34.3L614.8,33.0L639.5,32.2L640.7,31.2L642.8,30.8L663.6,30.8L666.9,30.1L675.2,30.0L675.2,52.6ZM344.4,46.0L283.7,46.1L269.2,45.1L255.0,41.7L253.5,40.1L253.3,37.2L253.9,35.5L255.0,34.4L260.0,32.5L272.1,35.3L341.5,35.8L349.0,36.5L351.7,37.6L352.7,39.0L353.0,40.5L351.5,44.1L349.4,45.3L344.4,46.0Z" fill="#fc9070" fill-rule="evenodd"/><path d="M141.6,53.5L109.6,53.6L68.9,51.9L65.9,51.4L45.6,51.7L10.3,50.8L10.3,33.5L41.0,32.8L42.7,31.4L44.7,31.1L65.1,31.2L68.4,30.4L81.7,30.0L154.9,28.8L175.2,32.4L192.3,36.5L201.0,38.1L203.5,39.4L205.0,42.2L204.8,44.9L203.1,46.9L191.9,50.9L174.8,52.7L141.6,53.5ZM675.2,52.3L664.4,51.4L644.0,51.7L617.0,50.9L612.5,49.7L608.0,47.2L604.8,43.9L603.9,41.0L605.2,38.4L607.9,36.0L610.8,34.7L615.4,33.6L639.5,32.8L640.7,31.6L642.8,31.1L663.6,31.2L666.9,30.4L675.2,30.4L675.2,52.3ZM344.8,44.7L284.1,44.9L270.0,44.0L256.3,40.8L254.8,39.7L254.5,37.6L255.0,36.2L256.2,35.1L260.4,33.7L272.1,36.5L341.5,37.0L348.6,37.7L351.0,38.7L351.6,41.0L350.3,43.5L348.6,44.3L344.8,44.7Z" fill="#fc8464" fill-rule="evenodd"/><path d="M142.0,53.1L109.2,53.2L68.9,51.5L65.9,50.9L63.0,51.3L45.6,51.3L41.8,50.5L10.3,49.9L10.3,34.3L41.0,33.6L42.7,31.8L45.2,31.4L65.5,31.7L68.4,30.8L81.3,30.4L154.9,29.2L174.3,32.6L200.6,38.3L203.3,39.7L204.5,42.2L204.4,44.7L202.7,46.7L196.4,49.3L191.5,50.6L174.4,52.4L142.0,53.1ZM675.2,51.9L666.9,51.5L664.4,50.9L661.5,51.3L644.0,51.3L640.3,50.5L618.3,50.1L613.7,48.9L610.1,46.8L607.1,43.5L606.4,41.0L607.4,38.9L609.5,36.7L613.1,35.1L616.6,34.4L639.5,33.6L641.1,31.8L643.2,31.5L664.0,31.7L666.9,30.8L675.2,30.7L675.2,51.9ZM332.3,43.9L287.0,43.9L283.3,43.2L282.0,41.4L282.5,40.1L283.7,39.4L287.9,38.8L331.1,38.8L334.8,39.2L336.4,40.1L337.0,41.4L336.4,42.6L334.8,43.5L332.3,43.9Z" fill="#fb7757" fill-rule="evenodd"/><path d="M142.4,52.7L108.7,52.8L69.3,51.2L65.9,50.4L63.0,50.9L43.9,50.8L42.4,50.1L41.5,48.5L41.6,34.3L42.7,32.4L45.2,31.8L65.5,32.2L68.4,31.2L81.3,30.7L155.3,29.6L174.4,33.0L200.6,38.8L203.1,40.1L204.2,42.6L203.9,44.7L202.3,46.4L191.5,50.2L174.4,52.0L142.4,52.7ZM675.2,51.5L666.9,51.1L664.4,50.4L661.1,50.9L641.5,50.5L640.5,49.7L639.9,48.0L640.3,33.4L641.5,32.2L643.2,31.9L664.0,32.2L666.9,31.2L675.2,31.1L675.2,51.5ZM334.0,43.1L287.9,43.4L284.1,42.8L282.9,41.4L284.1,39.9L287.5,39.4L331.1,39.3L334.2,39.7L335.7,40.5L335.7,42.2L334.0,43.1Z" fill="#fb694a" fill-rule="evenodd"/><path d="M142.4,52.2L108.7,52.4L69.3,50.7L65.9,49.7L63.0,50.4L43.9,50.3L42.7,49.6L42.0,48.0L42.1,34.3L43.1,32.8L45.2,32.3L63.0,32.3L65.5,32.8L68.4,31.6L81.3,31.2L155.3,30.0L174.3,33.4L200.2,39.1L202.7,40.4L203.7,42.6L203.4,44.7L201.8,46.2L195.1,48.9L191.0,49.9L174.4,51.5L142.4,52.2ZM675.2,51.1L666.9,50.7L664.4,49.7L661.1,50.4L644.0,50.4L641.5,49.9L640.7,48.9L640.4,47.2L640.4,35.9L640.9,33.4L641.9,32.6L643.6,32.3L661.5,32.3L664.0,32.8L666.9,31.6L675.2,31.5L675.2,51.1ZM332.3,42.7L288.3,42.8L285.4,42.4L284.2,41.4L285.8,40.2L290.0,40.0L330.3,40.0L333.2,40.2L334.6,41.0L334.4,41.9L332.3,42.7Z" fill="#f75b40" fill-rule="evenodd"/><path d="M141.6,51.8L109.6,52.0L77.2,50.7L68.1,50.1L65.9,48.7L63.0,49.8L44.6,49.7L43.1,48.9L42.6,47.6L42.7,35.0L43.5,33.4L45.6,32.9L63.0,32.9L65.5,33.8L67.2,32.5L69.7,32.0L155.3,30.5L176.0,34.3L200.2,39.6L202.3,40.7L203.2,42.6L202.7,44.7L201.2,46.0L194.8,48.5L190.6,49.5L174.4,51.1L141.6,51.8ZM675.2,50.6L666.6,50.1L664.4,48.7L663.2,49.5L661.1,49.8L644.5,49.8L642.0,49.3L641.1,46.8L641.1,35.9L641.5,33.9L642.8,33.1L645.7,32.9L661.5,32.9L664.0,33.8L665.4,32.6L666.9,32.1L675.2,32.0L675.2,50.6Z" fill="#f34c37" fill-rule="evenodd"/><path d="M138.7,51.4L109.2,51.4L68.4,49.6L66.8,48.7L66.0,46.8L66.1,35.1L67.2,33.2L69.8,32.6L155.3,31.1L175.3,34.7L199.8,40.1L201.6,41.0L202.5,42.6L202.2,44.3L200.7,45.5L190.6,48.9L174.0,50.5L138.7,51.4ZM675.2,50.0L666.9,49.6L664.8,48.1L664.4,45.1L664.4,35.9L664.8,34.2L666.0,33.0L675.2,32.6L675.2,50.0ZM63.9,48.5L46.8,48.7L44.3,48.2L43.7,45.5L43.7,36.4L44.1,34.7L47.2,34.0L62.2,34.0L64.3,34.5L64.9,36.4L64.9,46.0L64.7,47.7L63.9,48.5ZM662.3,48.5L645.3,48.7L642.8,48.2L642.1,45.5L642.2,36.4L642.6,34.7L645.7,34.0L660.7,34.0L662.7,34.5L663.4,36.4L663.4,46.0L663.2,47.7L662.3,48.5Z" fill="#f03d2d" fill-rule="evenodd"/><path d="M140.8,50.5L109.2,50.6L68.9,48.8L67.4,48.0L66.8,46.4L66.8,35.5L67.9,33.9L70.1,33.4L154.9,31.8L175.6,35.5L198.9,40.7L200.7,41.4L201.6,42.6L201.4,43.9L199.8,45.1L194.4,47.2L189.8,48.2L174.4,49.7L140.8,50.5ZM675.2,49.3L667.6,48.9L665.7,47.7L665.2,45.5L665.2,36.8L665.6,34.7L666.4,33.9L668.6,33.4L675.2,33.3L675.2,49.3Z" fill="#e53228" fill-rule="evenodd"/><path d="M125.4,50.1L112.9,50.3L104.6,49.0L69.7,47.5L68.6,46.8L68.1,45.5L68.2,36.4L68.9,35.2L70.1,34.8L81.3,34.3L154.9,33.1L177.0,37.2L197.7,41.9L199.4,43.0L198.2,44.3L192.5,46.4L178.9,48.0L130.8,49.3L125.4,50.1ZM675.2,47.9L668.6,47.6L666.9,46.6L666.5,37.6L667.5,35.1L675.2,34.7L675.2,47.9Z" fill="#d92523" fill-rule="evenodd"/><path d="M126.6,49.7L117.9,50.1L109.6,49.7L105.0,48.5L103.8,46.6L86.7,46.4L83.2,45.5L81.7,43.9L83.0,42.3L85.9,41.5L100.0,41.1L154.5,41.2L159.9,42.1L161.5,43.9L160.1,45.5L156.5,46.4L132.9,46.6L131.6,48.5L126.6,49.7ZM675.2,46.6L673.1,45.9L672.2,43.9L673.1,41.9L675.2,41.1L675.2,46.6Z" fill="#ce1a1e" fill-rule="evenodd"/><path d="M123.7,49.7L109.2,49.3L105.3,48.0L104.9,47.2L105.8,45.8L88.4,45.6L85.5,45.1L84.2,43.9L85.1,42.9L87.6,42.2L100.0,41.9L152.4,42.0L157.7,42.6L159.1,43.9L157.7,45.1L154.0,45.7L130.8,45.8L131.8,47.2L130.6,48.5L123.7,49.7ZM675.2,45.8L673.7,45.1L673.2,43.9L673.7,42.6L675.2,41.9L675.2,45.8Z" fill="#c2161b" fill-rule="evenodd"/><path d="M125.4,49.3L111.0,49.3L107.2,48.5L105.8,47.2L106.4,46.4L108.7,45.4L113.7,44.8L125.0,44.9L129.1,45.8L130.7,46.8L130.7,47.6L129.4,48.5L125.4,49.3Z" fill="#b61319" fill-rule="evenodd"/><path d="M120.8,49.3L110.4,48.9L107.6,48.0L106.9,47.2L107.6,46.4L110.4,45.5L118.3,45.1L126.2,45.5L129.0,46.4L129.7,47.2L127.5,48.6L120.8,49.3Z" fill="#a91016" fill-rule="evenodd"/><path d="M122.9,48.9L112.5,48.8L109.1,48.0L108.2,47.2L109.1,46.4L110.8,45.9L118.3,45.4L125.8,45.9L127.6,46.4L128.4,47.2L127.0,48.2L122.9,48.9Z" fill="#980c13" fill-rule="evenodd"/><path d="M123.3,48.5L113.3,48.5L111.0,48.0L109.7,47.2L112.5,46.1L118.3,45.7L124.1,46.1L126.9,47.2L125.6,48.0L123.3,48.5Z" fill="#840711" fill-rule="evenodd"/><path d="M122.0,48.1L115.0,48.1L111.9,47.2L114.3,46.4L118.3,46.2L122.3,46.4L124.7,47.2L122.0,48.1Z" fill="#71020e" fill-rule="evenodd"/></g></g><path d="M43.5,314.74H639.5M43.5,331.42H639.5M43.5,348.1H639.5M43.5,364.78H639.5M43.5,381.46H639.5M93.37,308.4V387.8M143.24,308.4V387.8M193.12,308.4V387.8M242.99,308.4V387.8M292.86,308.4V387.8M342.73,308.4V387.8M392.6,308.4V387.8M442.48,308.4V387.8M492.35,308.4V387.8M542.22,308.4V387.8M592.09,308.4V387.8" stroke="#2a2a2a" stroke-width="0.75" stroke-dasharray="2.1,1.1" fill="none"/><g transform="translate(0,308.4)" clip-path="url(#mapclip)"><path d="M165.4,0.1L167.0,3.8L167.7,5.8L169.3,7.8L171.5,9.3L174.8,10.8L178.2,12.0L182.3,13.5L184.8,12.7L186.5,12.8L189.5,15.5L191.5,16.5L193.9,17.3L196.8,18.0L197.6,18.7L199.8,20.9L200.3,21.7L200.1,22.7L201.3,23.7L203.1,24.0L203.9,25.7L205.8,26.0L207.4,26.9L209.1,27.5L209.7,27.0L208.9,26.2L210.4,24.9L212.2,25.7L213.1,27.4L213.9,28.4L214.2,30.5L213.9,33.0L212.2,35.5L211.4,37.2L209.7,38.4L208.9,40.5L208.2,43.0L209.2,45.4L207.6,47.2L207.9,49.7L210.1,52.2L212.2,55.5L214.4,59.4L216.1,62.2L217.2,64.7L220.5,67.1L223.9,68.9L225.9,70.6L226.2,73.9L226.0,76.4L225.5,79.3M159.2,0.1L159.9,1.3L160.7,1.0L160.5,0.1M180.3,0.1L180.6,3.0L181.1,5.5L182.6,7.5L184.8,8.7L186.5,9.3L189.0,8.7L191.0,8.5L192.3,6.7L192.6,4.7L195.6,3.8L198.1,3.8L197.3,5.8L196.8,8.8L195.9,10.5L195.4,13.3L197.3,13.3L201.4,13.0L204.1,14.3L203.9,16.3L203.8,18.9L203.3,21.4L204.8,23.0L207.2,24.9L209.7,24.2L211.4,23.7L214.1,25.4L215.1,25.5L216.4,24.2L217.2,22.2L218.9,21.4L220.9,20.9L222.7,19.9L223.9,19.0L224.2,20.2L223.2,21.4L223.7,22.2L224.4,21.7L226.0,20.4L228.9,22.0L233.0,22.0L236.3,22.0L238.8,22.0L239.7,23.0L241.3,25.4L243.3,25.9L245.5,28.0L247.6,29.7L251.3,29.9L254.6,30.5L256.8,32.7L257.9,34.7L258.8,36.7L259.6,38.9L261.3,40.0L262.1,41.4L263.8,40.7L266.3,41.4L268.8,43.5L272.1,44.2L274.6,44.5L277.9,45.5L280.4,47.2L283.7,48.4L284.5,50.5L284.9,52.2L284.2,54.7L282.1,56.9L280.4,58.9L278.7,61.1L277.9,63.1L277.9,66.4L277.1,69.7L276.2,72.2L274.9,74.7L273.7,76.4L272.1,78.1L269.6,78.4L267.9,79.3M201.6,3.2L203.1,1.8L206.4,1.0L208.9,1.3L211.4,2.5L213.9,3.7L216.4,4.5L219.4,5.8L217.2,6.5L213.9,6.5L213.4,5.2L210.6,3.8L207.2,2.8L204.8,3.0L201.6,3.2M219.0,6.5L221.7,6.5L224.7,6.5L227.2,7.5L229.0,8.7L226.4,9.3L224.0,10.3L223.0,9.5L219.4,9.0L221.7,8.7L221.9,7.2L219.0,6.5M212.6,9.0L215.9,9.3L215.1,9.8L212.7,9.3L212.6,9.0M231.0,8.8L233.7,9.0L233.5,9.7L231.0,9.7L231.0,8.8M239.8,21.9L241.3,21.7L241.3,22.9L239.8,22.9M220.9,44.9L226.0,46.0L229.5,44.4L234.2,44.9L239.5,46.0L241.8,44.9L246.3,44.7L251.1,43.2L255.8,42.0L258.1,40.2M230.2,28.7L233.0,27.0L236.3,26.4L239.7,25.5M316.1,0.1L315.6,2.2L314.5,4.7L315.3,7.2L315.6,9.7L314.8,13.0L313.8,15.2L314.8,17.2L315.0,19.2L317.0,20.5L318.6,22.2L320.6,23.9L322.0,26.5L324.4,28.5L326.9,30.5L330.3,32.4L334.4,31.2L337.7,31.4L340.2,31.4L343.6,30.0L345.2,29.4L347.7,29.0L350.2,29.2L351.9,31.4L353.5,32.5L355.2,32.2L356.9,32.0L358.5,33.4L359.0,35.5L358.5,38.0L358.2,40.5L359.4,43.0L361.8,45.5L362.7,48.0L363.2,49.7L364.3,52.2L364.8,54.7L365.2,57.7L363.8,60.5L363.0,63.1L362.3,67.2L363.5,69.7L365.2,73.1L366.7,76.4L366.8,79.3M315.6,13.0L318.6,12.0L322.0,14.3M327.4,21.2L330.9,18.2L336.1,15.2L338.1,12.2L341.2,11.2L343.2,12.2L344.7,15.7M350.9,23.7L353.5,26.2L353.5,29.7M353.7,26.7L358.0,26.7M363.2,49.7L366.0,47.2L368.5,46.4L370.2,43.0L371.8,39.7L373.5,37.2L376.8,36.4L380.1,36.2L382.6,38.0L385.1,38.9M395.6,39.2L398.4,39.2L399.3,40.2L400.1,41.4L398.4,43.9L395.9,43.5L395.3,41.4L395.6,39.2M391.3,45.2L391.6,48.9L392.9,51.4L394.3,53.9M399.8,55.5L400.3,58.0L400.6,60.5L401.2,63.4M401.7,0.1L403.9,3.0L404.7,5.5L406.7,9.7L408.4,13.3L411.7,16.7L414.5,19.7L414.5,20.5L416.7,22.4L419.2,21.9L423.4,21.0L427.8,20.0L427.5,22.2L427.2,24.7L425.0,27.2L423.4,30.5L420.0,34.7L416.7,37.2L413.4,40.5L410.9,43.0L409.2,45.0L408.1,47.2L407.9,49.7L408.1,52.2L408.7,54.7L409.7,57.2L410.1,60.5L410.4,63.9L409.2,66.4L405.1,69.4L401.7,72.2L400.9,74.7L401.7,77.2L401.7,79.3M406.7,0.1L407.9,3.0L409.2,5.5L411.7,9.7L413.4,13.0L414.2,16.3L415.0,18.5L417.5,18.3L420.9,17.2L424.2,16.0L427.5,14.3L430.0,12.5L434.2,10.8L436.7,9.3L438.3,8.0L440.0,5.5L441.6,2.5L440.8,1.3L439.8,0.1M424.7,59.7L425.9,63.1L426.7,65.6L425.0,68.9L423.7,73.1L422.2,77.2L421.4,79.3M415.4,79.3L414.7,76.4L416.5,73.1L415.9,68.9L416.7,66.7L420.0,65.6L421.7,63.9L422.5,62.2L424.7,59.7M456.6,0.3L458.3,2.2L459.1,3.0L459.9,4.7L462.4,4.2L463.4,2.7L463.8,4.7L463.9,8.0L464.6,11.3L465.4,13.8L466.6,16.3L467.1,18.3L468.2,20.5L469.6,23.4L470.7,25.7L471.7,26.2L472.7,24.9L474.4,24.2L475.4,22.5L475.6,20.5L476.1,18.0L475.9,14.7L477.4,12.7L479.5,11.7L481.5,9.7L484.0,7.2L486.5,6.0L487.4,3.8L489.9,3.3L491.5,3.3L493.2,2.2L494.8,2.2L495.7,4.2L496.2,5.2L497.3,6.7L499.3,8.8L499.8,11.3L499.5,13.0L500.7,13.3L503.2,11.8L504.8,12.2L505.3,14.7L506.1,17.2L506.6,20.5L506.5,23.0L506.1,25.5L507.3,27.2L509.0,28.9L509.5,31.4L510.3,33.9L511.5,35.5L514.8,37.5L516.0,37.4L514.6,33.4L514.5,30.5L512.3,29.4L510.6,28.2L509.3,25.9L507.8,23.9L507.6,22.2L508.3,19.7L509.0,17.5L510.5,18.5L512.0,18.9L513.5,19.7L514.0,21.0L516.5,22.4L517.3,24.7L517.6,25.2L519.8,23.9L520.6,22.2L523.1,21.0L524.3,19.7L524.4,17.2L523.9,14.7L522.3,13.0L520.6,11.3L518.9,8.8L518.6,7.2L519.8,5.5L521.4,3.8L523.1,3.7L525.3,4.0L526.4,5.8L528.1,3.8L531.4,2.5L533.1,2.2L536.4,1.3L538.1,0.1M475.6,23.5L476.6,24.2L477.9,25.9L478.7,28.0L478.4,29.4L476.7,29.9L475.7,28.9L475.4,26.7L475.6,23.5M523.3,7.7L524.8,6.3L526.6,6.3L527.3,7.2L525.6,9.2L523.9,8.8L523.3,7.7M542.4,0.1L542.4,1.3L543.4,3.2L543.9,2.0L544.7,0.7L545.0,0.1M543.2,8.8L545.9,8.8L545.9,11.3L544.7,13.3L544.9,15.5L546.4,16.0L548.9,18.0L547.2,18.0L544.7,16.7L543.2,15.8L542.2,15.0L541.9,12.2L542.7,10.5L543.2,8.8M545.5,28.0L548.0,26.4L550.5,24.7L552.7,24.2L552.7,28.0L551.4,29.7L548.9,28.9L547.2,27.2L545.5,28.0M549.4,18.9L551.4,19.2L551.7,21.4L550.5,22.7L549.4,20.9L549.4,18.9M545.5,20.0L547.2,20.5L546.4,22.2L545.4,21.9L545.5,20.0M547.2,21.7L548.0,23.0L547.5,24.5L546.4,23.2L547.2,21.7M537.6,25.9L539.7,23.9L541.4,20.9M523.9,37.2L524.9,36.4L527.3,36.7L530.6,34.4L532.2,32.2L534.7,30.9L536.4,28.9L537.7,28.0L538.6,29.7L540.9,31.0L538.9,32.5L538.2,34.7L538.9,38.0L540.6,38.2L538.1,39.7L536.4,42.2L535.9,44.7L533.1,46.0L530.6,45.0L527.3,44.7L525.6,43.0L524.8,40.5L523.9,37.2M501.2,30.4L504.8,31.0L506.5,33.0L509.8,36.0L514.8,39.7L516.5,42.2L518.9,44.7L518.6,49.4L516.5,49.5L512.8,46.4L510.6,43.9L509.0,41.0L506.8,37.2L504.0,34.2L501.2,30.4M517.6,51.0L519.8,49.7L523.1,50.9L526.4,51.2L529.8,51.2L533.1,52.5L533.1,53.9L528.9,53.5L525.6,53.2L522.3,52.7L519.8,52.0L517.6,51.0M533.9,53.7L535.6,53.9M536.9,54.0L540.6,53.9M541.9,54.0L544.7,53.9L547.2,53.5M548.0,56.9L550.5,54.7L554.4,53.7L550.5,55.5L548.0,56.9M541.4,48.9L541.4,45.5L540.2,44.4L541.4,40.5L542.2,38.9L543.5,37.5L546.4,38.0L549.7,38.0L550.9,37.2L548.9,39.0L544.7,38.9L543.1,39.7L543.9,41.4L547.2,41.0L544.7,42.7L546.4,45.5L547.5,47.2L545.5,47.5L543.9,44.7L542.7,44.7L542.9,48.9L541.4,48.9M555.2,36.4L555.5,38.9L556.7,37.7L555.5,39.4L556.4,41.0L554.9,39.7L555.2,36.4M555.5,44.7L559.7,45.0L560.2,46.0L556.4,45.7L555.5,44.7M552.2,45.0L554.2,45.4L553.0,46.0M560.5,41.7L563.0,40.4L565.5,41.2L567.2,45.2L571.3,42.2L575.5,43.7L579.6,45.0L582.9,46.0L585.1,48.4L587.9,49.7L588.6,51.4L587.1,52.5L589.1,53.2L591.3,55.5L592.9,56.9L590.4,56.9L587.1,55.5L584.6,52.9L582.1,52.5L580.5,54.7L577.1,54.9L573.8,53.2L571.8,53.7L573.0,51.4L571.3,48.0L567.2,47.0L563.8,46.4L562.2,44.4L560.5,41.7M589.6,48.9L592.1,48.0L594.6,46.7L595.7,48.0L593.8,49.7L590.4,50.0L589.6,48.9M592.9,44.0L595.4,45.5L597.1,47.5M615.4,73.4L617.9,75.2L620.4,77.1M637.5,68.9L639.5,69.6L639.1,67.2L641.8,66.9M531.7,79.3L531.9,76.4L532.4,76.1L535.6,74.2L539.7,73.6L543.9,72.2L546.0,68.9L548.0,67.2L549.7,65.6L552.2,63.1L554.7,63.4L557.2,64.7L558.8,61.4L559.7,60.5L562.2,58.9L564.7,59.4L567.2,60.0L569.6,59.7L570.1,61.4L568.0,63.9L569.6,65.6L571.3,66.9L573.8,68.4L576.3,68.9L578.0,65.6L578.1,62.2L578.8,58.0L579.6,57.5L581.3,62.2L582.9,63.6L584.3,64.7L584.6,67.2L585.8,70.6L587.9,72.2L590.4,73.9L591.3,76.4L593.4,77.2L593.8,79.3M496.8,17.2L496.7,20.5" stroke="#111" stroke-width="1.05" fill="none" stroke-linejoin="round"/><circle cx="84.1" cy="7.0" r="1" fill="#111"/><circle cx="366.2" cy="17.8" r="1" fill="#111"/></g><rect x="43.5" y="308.4" width="596" height="79.4" fill="none" stroke="#555" stroke-width="1"/><text x="38.2" y="316.74" font-size="11" text-anchor="end">20°N</text><text x="38.2" y="333.42" font-size="11" text-anchor="end">10°N</text><text x="38.2" y="350.1" font-size="11" text-anchor="end">0°</text><text x="38.2" y="366.78" font-size="11" text-anchor="end">10°S</text><text x="38.2" y="383.46" font-size="11" text-anchor="end">20°S</text><text x="43.5" y="403.6" font-size="11" text-anchor="middle">180°</text><text x="93.37" y="403.6" font-size="11" text-anchor="middle">150°W</text><text x="143.24" y="403.6" font-size="11" text-anchor="middle">120°W</text><text x="193.12" y="403.6" font-size="11" text-anchor="middle">90°W</text><text x="242.99" y="403.6" font-size="11" text-anchor="middle">60°W</text><text x="292.86" y="403.6" font-size="11" text-anchor="middle">30°W</text><text x="344.03" y="403.6" font-size="11" text-anchor="middle">0°</text><text x="393.9" y="403.6" font-size="11" text-anchor="middle">30°E</text><text x="443.78" y="403.6" font-size="11" text-anchor="middle">60°E</text><text x="493.65" y="403.6" font-size="11" text-anchor="middle">90°E</text><text x="543.52" y="403.6" font-size="11" text-anchor="middle">120°E</text><text x="593.39" y="403.6" font-size="11" text-anchor="middle">150°E</text><text x="341.9" y="417.8" font-size="12" text-anchor="middle" textLength="53" lengthAdjust="spacingAndGlyphs">Longitude</text><text x="341.4" y="299.6" font-size="12" text-anchor="middle" font-weight="bold" textLength="77.2" lengthAdjust="spacingAndGlyphs">(c) EPAO (#5)</text><text transform="translate(10,348.1) rotate(-90)" font-size="12" text-anchor="middle" textLength="42.8" lengthAdjust="spacingAndGlyphs">Latitude</text><rect x="645.6" y="308.4" width="5.2" height="79.4" fill="url(#cb)" stroke="#666" stroke-width="0.8"/><path d="M650.8,308.4h2" stroke="#444" stroke-width="0.8"/><text x="655.2" y="312.2" font-size="11" textLength="14.2" lengthAdjust="spacingAndGlyphs">1.0</text><path d="M650.8,348.1h2" stroke="#444" stroke-width="0.8"/><text x="655.2" y="351.9" font-size="11" textLength="14.2" lengthAdjust="spacingAndGlyphs">0.5</text><path d="M650.8,387.8h2" stroke="#444" stroke-width="0.8"/><text x="655.2" y="391.6" font-size="11" textLength="14.2" lengthAdjust="spacingAndGlyphs">0.0</text><text transform="translate(684.6,348.6) rotate(-90)" font-size="12" text-anchor="middle"><tspan font-style="italic">k</tspan><tspan font-size="8.5" dx="1.6" dy="-5.2">c</tspan></text><g transform="translate(0,453.35)" clip-path="url(#mapclip)"><g filter="url(#fblur)"><path d="M543.1,87.0L454.9,87.0L453.2,86.0L452.2,83.9L452.7,76.4L455.2,65.6L459.6,56.0L459.3,55.5L449.5,53.7L420.9,51.9L418.0,50.6L416.3,47.9L398.0,45.9L395.9,45.2L394.3,43.9L377.2,42.5L374.9,41.0L374.4,38.0L375.6,36.1L377.6,35.2L393.0,34.4L394.0,30.1L395.5,28.6L397.2,27.9L416.7,25.7L420.9,26.1L425.9,23.5L429.2,23.0L446.2,23.1L448.3,23.7L450.4,25.2L465.7,26.1L473.2,27.8L479.5,26.1L482.4,26.1L501.5,28.6L508.1,30.1L513.6,27.6L515.6,26.0L518.5,25.6L554.7,26.0L563.8,25.1L577.5,25.0L589.6,26.4L610.0,26.4L612.5,27.1L614.2,28.4L614.9,30.9L613.3,33.5L593.3,47.8L590.0,49.4L587.5,49.0L580.0,45.0L573.3,43.9L560.1,43.3L553.0,42.2L540.1,42.6L531.8,41.0L518.4,40.5L516.9,44.7L509.9,52.2L515.2,57.3L526.8,63.7L542.2,74.8L544.1,78.1L545.6,83.5L545.1,85.6L543.1,87.0ZM11.9,35.5L10.3,35.9L10.0,35.1L10.3,26.3L12.7,26.5L14.8,27.4L16.6,30.1L15.7,32.9L11.9,35.5Z" fill="#ffebe2" fill-rule="evenodd"/><path d="M542.6,86.4L459.1,86.7L454.9,86.3L453.4,85.2L452.7,83.5L453.5,74.7L456.0,64.7L460.4,55.5L460.2,55.1L447.9,52.7L420.9,51.0L418.4,49.8L416.7,47.1L398.4,45.1L396.1,44.3L394.7,42.8L390.9,42.9L378.1,41.6L375.9,40.1L375.7,38.0L376.8,36.7L378.9,36.0L393.9,35.6L394.6,30.9L395.9,29.4L397.6,28.7L416.3,26.6L420.4,26.9L425.9,24.2L429.2,23.5L446.2,23.6L448.3,24.4L450.4,26.2L464.9,27.0L472.4,28.8L478.6,26.9L482.0,26.6L501.1,29.1L508.1,30.7L514.2,28.0L516.0,26.5L518.9,26.1L556.8,26.5L577.1,26.0L587.9,26.9L609.5,27.0L612.0,27.6L613.7,28.8L614.3,30.9L612.9,33.1L592.9,47.4L590.0,48.8L587.5,48.4L579.8,44.3L568.4,42.6L554.7,41.6L540.6,42.0L532.2,40.4L517.7,40.0L516.5,44.3L509.0,52.2L514.8,57.7L526.4,64.1L541.7,75.1L543.3,77.6L545.0,83.1L544.5,85.2L542.6,86.4ZM11.1,35.2L10.3,35.4L10.0,34.3L10.3,26.8L14.0,27.6L15.5,28.9L16.0,30.1L15.1,32.6L11.1,35.2Z" fill="#fee5d8" fill-rule="evenodd"/><path d="M542.2,86.1L455.4,86.0L453.7,84.8L453.1,83.1L454.0,74.7L456.5,64.7L461.1,55.1L460.8,54.8L447.0,52.1L421.3,50.5L418.8,49.4L417.1,46.5L398.4,44.5L396.3,43.6L394.7,41.6L391.8,42.1L379.3,40.9L377.2,40.1L376.7,38.4L377.6,37.4L379.7,36.8L390.1,36.3L394.3,36.7L395.1,31.4L396.3,29.9L398.0,29.2L416.3,27.2L420.0,27.6L425.9,24.6L429.2,23.9L445.8,24.0L447.9,24.6L450.4,26.8L464.5,27.6L471.6,29.4L478.6,27.3L482.0,27.0L501.1,29.4L508.1,31.1L514.4,28.5L516.0,27.0L518.9,26.5L540.6,26.9L573.4,26.6L585.9,27.3L608.7,27.4L611.6,27.8L613.1,28.9L613.8,30.9L612.3,33.0L592.9,46.9L590.0,48.3L587.5,47.9L579.8,43.9L568.2,42.2L556.8,41.2L540.6,41.6L532.2,40.0L517.3,39.6L516.3,43.9L508.4,52.2L514.6,58.0L526.8,64.9L541.4,75.4L542.9,77.6L544.5,83.1L543.9,85.2L542.2,86.1ZM11.1,34.8L10.3,34.9L10.0,33.9L10.3,27.2L13.6,27.8L14.9,28.9L15.5,30.1L14.5,32.6L11.1,34.8Z" fill="#fedccd" fill-rule="evenodd"/><path d="M542.6,85.6L455.8,85.7L454.1,84.8L453.5,83.1L454.4,74.3L456.8,64.7L461.6,54.6L445.8,51.6L421.3,50.1L419.2,49.1L417.1,46.0L397.6,43.7L395.9,42.5L395.1,40.1L393.4,41.2L390.9,41.3L380.1,40.1L378.8,39.7L378.2,38.9L379.7,37.9L388.4,37.1L392.9,37.2L394.7,38.2L395.4,32.2L396.1,30.9L397.6,29.9L415.9,27.8L419.6,28.0L425.9,24.9L429.2,24.2L445.8,24.3L447.9,25.0L450.4,27.3L464.1,28.1L470.7,29.9L479.0,27.5L481.5,27.3L501.1,29.8L508.1,31.4L514.8,28.9L516.5,27.2L518.9,26.8L608.7,27.7L611.2,28.0L613.0,29.3L613.4,30.9L611.8,33.0L592.9,46.5L590.0,48.0L587.5,47.5L579.6,43.5L564.1,41.4L558.0,40.9L540.6,41.3L532.2,39.7L517.0,39.3L516.7,42.2L516.0,43.9L507.9,52.2L514.6,58.5L526.4,65.0L541.0,75.4L542.5,77.6L544.2,82.7L544.0,84.3L542.6,85.6ZM11.5,34.3L10.3,34.6L10.1,33.9L10.3,27.5L13.6,28.2L15.1,30.1L14.5,32.2L11.5,34.3Z" fill="#fdd0bc" fill-rule="evenodd"/><path d="M541.0,85.6L458.7,85.7L455.4,85.3L454.2,84.3L453.7,82.7L454.8,73.5L457.3,64.3L462.0,54.6L445.0,51.2L421.7,49.7L419.6,48.9L418.3,46.4L417.1,45.5L398.0,43.3L396.4,42.2L395.7,40.5L395.5,35.1L395.9,32.2L397.2,30.7L399.7,29.9L416.3,28.2L419.6,28.4L426.3,25.0L430.0,24.5L445.8,24.6L447.9,25.3L450.4,27.7L463.7,28.5L470.3,30.3L478.6,27.9L481.5,27.6L500.7,30.0L508.1,31.7L514.8,29.2L516.5,27.5L518.9,27.1L608.3,28.0L610.8,28.2L612.6,29.3L613.0,30.9L611.6,32.8L592.5,46.5L589.6,47.7L587.5,47.2L580.0,43.3L563.0,41.0L553.9,40.6L540.6,41.0L532.2,39.4L516.9,38.7L516.4,42.2L515.6,43.9L507.4,52.2L514.4,58.6L526.4,65.3L541.0,75.8L542.4,78.1L543.9,83.1L543.1,85.0L541.0,85.6ZM10.3,34.3L10.3,27.8L13.2,28.3L14.7,29.7L14.6,31.4L12.7,33.3L10.3,34.3ZM393.0,40.2L387.6,40.0L385.0,39.3L385.0,38.9L388.0,38.2L392.2,38.1L393.6,38.9L393.0,40.2Z" fill="#fcc4ad" fill-rule="evenodd"/><path d="M541.8,85.2L455.8,85.1L454.5,84.3L454.0,82.7L455.2,73.1L457.5,64.3L462.7,54.3L445.0,50.9L421.7,49.4L419.8,48.5L418.7,46.4L417.1,45.1L398.4,42.9L396.8,41.8L396.1,40.1L396.3,32.6L397.6,31.0L399.7,30.4L415.9,28.7L419.2,28.9L426.3,25.3L430.0,24.7L445.8,24.8L447.9,25.6L450.4,28.1L463.7,28.9L469.9,30.7L478.6,28.2L481.5,27.8L500.7,30.2L508.1,31.9L513.5,29.7L515.2,29.5L516.9,27.7L518.9,27.4L608.3,28.2L610.8,28.5L612.5,29.7L612.5,31.4L610.9,33.0L592.5,46.1L589.6,47.4L587.5,46.9L580.0,43.0L564.7,40.9L558.4,40.3L540.6,40.8L532.7,39.2L516.5,38.4L516.3,41.8L515.3,43.9L506.9,52.2L514.3,58.9L526.0,65.4L540.6,75.8L542.1,78.1L543.6,82.7L543.3,84.3L541.8,85.2ZM11.1,33.9L10.3,34.1L10.1,33.4L10.3,28.0L13.2,28.6L14.5,30.1L13.7,32.2L11.1,33.9Z" fill="#fcb89e" fill-rule="evenodd"/><path d="M538.1,85.2L455.8,84.9L454.6,83.9L454.2,82.2L455.6,72.2L457.8,64.3L463.2,54.3L444.1,50.5L422.1,49.1L420.0,48.1L419.1,46.4L417.1,44.6L398.8,42.5L397.4,41.8L396.5,40.1L396.7,33.0L398.0,31.4L400.1,30.8L415.9,29.2L418.8,29.4L426.3,25.5L430.0,24.9L445.8,25.0L447.9,25.9L450.4,28.5L462.8,29.2L469.5,31.1L478.6,28.4L481.5,28.0L500.7,30.4L508.1,32.1L509.8,31.8L513.5,29.9L515.2,30.0L516.5,28.2L518.9,27.6L608.3,28.5L610.8,28.8L612.1,29.7L612.2,31.4L610.8,32.8L592.1,46.1L589.6,47.2L587.5,46.6L580.5,42.9L570.9,41.4L559.7,40.1L540.6,40.5L532.7,39.0L518.5,38.4L516.5,37.9L516.0,41.8L515.3,43.5L506.3,52.2L514.0,59.0L526.0,65.7L540.6,76.1L542.4,79.3L543.3,83.5L541.8,84.9L538.1,85.2ZM11.5,33.5L10.3,33.8L10.3,28.3L12.7,28.7L14.2,30.1L13.8,31.8L11.5,33.5Z" fill="#fcab8f" fill-rule="evenodd"/><path d="M541.4,84.8L456.2,84.7L454.9,83.9L454.5,81.8L455.3,74.7L457.0,67.6L458.2,63.9L462.0,56.4L464.3,53.9L443.3,50.1L422.1,48.7L420.4,48.0L417.1,44.1L399.3,42.1L397.8,41.4L397.1,40.1L397.2,33.2L398.4,31.8L400.1,31.3L415.5,29.7L418.8,29.8L426.3,25.8L430.0,25.2L445.8,25.3L447.9,26.2L450.0,28.7L462.8,29.6L469.1,31.5L481.1,28.3L500.7,30.7L508.1,32.4L509.8,32.1L513.5,30.2L515.2,30.4L516.6,28.4L518.9,27.9L608.3,28.7L610.4,28.9L611.7,29.7L612.0,30.9L610.6,32.6L592.1,45.8L589.6,46.9L587.5,46.4L580.5,42.6L571.7,41.3L559.7,39.9L540.1,40.2L532.7,38.7L518.1,38.1L516.0,37.1L515.9,41.4L515.1,43.5L508.6,50.1L505.7,52.2L507.7,53.4L514.0,59.3L525.6,65.7L540.0,76.0L541.6,78.1L543.0,82.2L542.8,83.9L541.4,84.8ZM10.7,33.5L10.3,33.6L10.1,32.6L10.3,28.5L12.7,28.9L13.9,30.5L13.0,32.2L10.7,33.5Z" fill="#fc9d7f" fill-rule="evenodd"/><path d="M541.8,84.3L456.2,84.4L455.0,83.5L454.8,81.4L455.6,74.3L457.5,66.8L462.4,56.0L464.9,53.9L442.5,49.7L422.5,48.4L420.7,47.6L419.7,46.0L418.3,45.1L417.1,43.5L399.7,41.6L398.3,41.0L397.6,39.6L397.8,33.4L398.8,32.3L400.5,31.8L415.5,30.3L418.4,30.4L426.3,26.0L430.0,25.4L445.8,25.5L447.9,26.5L450.0,29.1L462.8,29.9L468.7,31.8L481.1,28.5L500.7,30.9L508.1,32.6L514.0,30.4L515.3,30.9L515.6,31.9L516.5,28.9L518.9,28.1L607.9,29.0L611.2,29.7L611.6,30.9L610.2,32.6L592.1,45.5L589.6,46.6L587.5,46.1L581.3,42.6L578.0,41.9L560.1,39.6L540.1,40.0L532.7,38.5L518.1,37.9L516.9,37.5L516.0,36.5L515.7,41.4L514.8,43.5L507.8,50.5L504.7,52.2L507.4,53.5L514.0,59.5L525.6,66.0L539.7,76.0L541.3,78.1L542.6,81.8L542.7,83.5L541.8,84.3ZM11.1,33.2L10.3,33.4L10.3,28.7L12.7,29.2L13.7,30.5L13.1,31.8L11.1,33.2Z" fill="#fc9070" fill-rule="evenodd"/><path d="M540.6,84.4L456.2,84.1L455.0,82.7L455.3,78.1L458.3,65.1L463.3,55.3L464.9,54.2L467.8,53.5L460.8,53.1L441.2,49.3L422.1,47.9L418.4,44.9L417.5,42.4L415.0,42.6L399.3,40.5L398.3,38.9L398.4,34.1L399.3,33.0L401.3,32.4L415.5,31.0L418.0,31.4L419.6,29.7L425.9,26.5L429.6,25.6L445.8,25.7L447.9,26.8L450.0,29.4L462.4,30.2L465.7,31.0L468.2,32.2L480.7,28.7L500.2,31.0L507.7,32.8L509.8,32.6L514.4,30.7L515.2,31.4L515.5,33.0L515.5,40.5L515.0,42.6L507.4,50.5L503.2,52.2L506.9,53.4L513.5,59.6L525.1,66.0L539.3,76.0L541.0,78.1L542.4,82.2L542.2,83.6L540.6,84.4ZM590.8,46.0L588.4,46.2L580.0,42.0L561.8,39.5L540.6,39.8L532.7,38.2L517.7,37.5L516.5,36.8L516.0,35.1L516.2,30.1L517.7,28.6L521.4,28.4L607.9,29.2L610.0,29.4L611.1,30.1L611.1,31.4L609.8,32.6L590.8,46.0ZM10.7,33.1L10.2,32.6L10.3,28.9L12.3,29.3L13.4,30.5L12.7,31.8L10.7,33.1Z" fill="#fc8464" fill-rule="evenodd"/><path d="M541.0,84.0L456.4,83.9L455.3,82.2L455.7,77.6L458.7,64.7L463.7,55.2L465.3,54.3L469.1,53.5L461.2,53.0L439.6,48.8L422.1,47.4L418.8,44.9L418.0,43.5L417.7,33.9L418.3,31.4L419.6,30.0L426.3,26.5L430.8,25.8L445.8,26.0L447.5,26.8L450.0,29.7L462.0,30.5L465.3,31.2L467.8,32.5L481.1,28.9L500.7,31.3L507.7,33.0L509.8,32.8L514.4,31.0L515.2,32.2L515.3,34.3L515.3,41.0L514.5,43.0L506.9,50.6L500.5,52.2L506.5,53.4L513.5,59.9L525.3,66.4L538.9,76.0L540.7,78.1L542.0,81.4L542.1,83.1L541.0,84.0ZM590.0,46.0L587.9,45.7L580.0,41.7L563.8,39.5L557.6,39.1L540.6,39.5L532.7,37.9L518.1,37.3L516.5,35.9L516.4,30.5L517.3,29.0L520.2,28.7L607.5,29.5L610.6,30.1L610.6,31.4L609.3,32.6L590.0,46.0ZM11.1,32.7L10.3,32.9L10.3,29.1L12.3,29.6L13.0,30.5L12.4,31.8L11.1,32.7ZM415.9,41.0L400.9,39.3L399.9,38.0L400.0,35.1L400.8,34.3L402.6,33.9L416.3,32.9L417.0,34.3L417.0,38.9L416.7,40.4L415.9,41.0Z" fill="#fb7757" fill-rule="evenodd"/><path d="M541.0,83.6L456.6,83.6L455.6,81.8L456.6,73.6L458.7,65.6L462.8,56.9L465.0,54.7L472.6,53.0L461.6,52.8L438.3,48.3L422.5,47.0L421.0,45.5L418.9,44.7L418.2,43.5L418.4,31.8L419.9,30.1L426.3,26.8L430.8,26.0L445.8,26.2L447.5,27.0L450.0,30.0L462.0,30.8L467.4,32.8L481.1,29.2L500.2,31.5L507.7,33.3L514.4,31.4L515.1,33.9L514.8,42.0L508.6,48.9L506.6,50.5L504.8,51.2L493.7,51.8L504.0,52.9L506.6,53.9L513.5,60.2L524.8,66.4L538.9,76.4L540.6,78.3L541.6,81.0L541.8,82.7L541.0,83.6ZM590.0,45.7L588.3,45.5L580.5,41.5L562.6,39.1L541.0,39.2L532.7,37.6L518.1,37.0L516.7,35.5L516.7,30.5L517.7,29.2L521.4,28.9L607.5,29.8L610.3,30.5L610.1,31.4L608.8,32.6L590.0,45.7ZM10.3,32.6L10.3,29.4L12.0,29.7L12.7,30.5L12.4,31.4L10.3,32.6ZM474.7,52.6L474.5,52.6L474.0,52.6L474.5,52.7L474.7,52.6Z" fill="#fb694a" fill-rule="evenodd"/><path d="M539.7,83.5L457.0,83.3L456.1,82.7L455.9,81.4L457.0,73.3L459.1,65.4L463.3,56.8L465.7,54.8L476.4,52.6L462.0,52.6L435.4,47.6L422.9,46.4L422.0,45.5L419.4,44.7L418.5,43.5L418.7,31.8L420.4,30.1L426.7,26.9L431.7,26.3L445.4,26.4L447.2,27.2L450.0,30.3L461.6,31.1L464.5,31.8L467.0,33.2L481.1,29.4L500.3,31.8L507.7,33.5L509.8,33.3L514.0,31.7L514.8,33.4L514.6,41.8L513.5,43.5L507.3,49.7L504.4,51.0L491.0,51.8L503.6,53.2L506.5,54.2L513.1,60.4L524.8,66.8L538.9,76.8L540.2,78.5L541.4,81.8L541.1,83.1L539.7,83.5ZM10.7,32.3L10.3,32.4L10.3,29.6L12.3,30.5L12.0,31.4L10.7,32.3ZM590.4,45.1L588.4,45.1L580.5,41.1L562.2,38.6L541.0,38.8L532.7,37.3L518.5,36.6L517.1,35.5L517.0,30.9L517.7,29.7L520.6,29.3L609.3,30.5L609.5,31.4L608.2,32.6L590.4,45.1Z" fill="#f75b40" fill-rule="evenodd"/><path d="M539.3,83.1L457.0,82.8L456.4,81.8L456.6,78.6L458.7,68.3L459.9,64.5L464.1,56.4L466.3,55.1L480.7,52.2L461.6,52.2L420.0,44.7L419.0,43.9L418.7,42.6L418.8,32.2L420.3,30.5L426.7,27.2L432.5,26.6L445.8,26.8L447.5,27.8L449.5,30.5L459.5,31.0L463.7,31.9L466.6,33.6L481.1,29.7L500.7,32.1L507.7,33.8L514.0,32.2L514.5,34.3L514.3,41.8L513.1,43.5L506.9,49.7L505.2,50.5L501.9,51.0L486.3,51.8L502.7,53.5L505.8,54.3L513.1,60.9L524.7,67.2L538.2,76.8L539.7,78.5L540.8,81.4L540.6,82.7L539.3,83.1ZM10.7,31.9L10.3,32.0L10.3,30.0L11.7,30.5L11.5,31.4L10.7,31.9ZM590.0,44.7L588.4,44.6L580.5,40.6L562.6,38.2L541.0,38.4L533.1,36.8L518.9,36.2L517.5,35.1L517.4,31.4L518.1,30.1L520.6,29.8L608.3,30.9L608.3,31.8L606.8,33.0L590.0,44.7ZM483.2,51.8L483.2,51.8L483.0,51.8L483.2,51.8L483.2,51.8Z" fill="#f34c37" fill-rule="evenodd"/><path d="M473.2,51.8L461.2,51.8L420.4,44.5L419.5,43.9L419.0,42.6L419.2,32.2L421.0,30.5L427.9,27.1L443.3,26.9L446.6,27.6L449.5,30.9L459.1,31.3L463.3,32.3L466.2,33.9L481.1,30.0L500.2,32.4L507.7,34.2L509.8,34.0L513.1,32.6L514.0,33.0L514.2,39.7L513.7,42.2L505.6,50.0L500.7,50.8L473.2,51.8ZM10.7,31.4L10.3,31.5L10.3,30.4L11.1,30.9L10.7,31.4ZM589.6,43.9L580.9,39.9L562.6,37.4L541.0,37.5L533.1,36.0L519.4,35.4L518.4,34.7L518.3,31.8L518.9,30.8L521.4,30.6L539.7,31.0L571.3,30.7L580.9,31.4L606.3,31.8L604.2,33.9L589.6,43.9ZM539.3,82.3L459.5,82.4L457.7,82.2L457.1,81.0L457.9,74.6L459.9,66.4L464.9,56.6L467.5,55.5L484.9,52.4L505.2,54.8L512.3,61.1L524.7,68.1L537.7,77.2L539.8,80.1L540.0,81.8L539.3,82.3Z" fill="#f03d2d" fill-rule="evenodd"/><path d="M472.8,51.4L461.2,51.4L420.9,44.1L419.8,43.5L419.4,42.2L419.6,32.5L421.1,30.9L427.9,27.6L443.7,27.4L446.5,28.0L449.1,31.1L459.1,31.6L463.3,32.8L465.3,34.4L468.2,34.1L481.1,30.5L500.2,32.9L507.7,34.6L509.8,34.5L512.7,33.3L513.5,33.7L513.4,41.8L507.5,48.0L505.2,49.7L500.7,50.3L472.8,51.4ZM576.7,37.2L569.6,37.5L563.8,36.9L560.8,35.5L560.2,33.9L561.3,32.6L563.4,31.8L570.1,31.1L578.4,31.6L580.9,32.4L582.2,33.4L582.4,34.7L581.3,35.9L576.7,37.2Z" fill="#e53228" fill-rule="evenodd"/><path d="M473.2,50.6L461.2,50.6L443.3,47.0L421.6,43.5L420.7,43.0L420.2,41.8L420.4,33.0L421.3,31.8L427.9,28.4L443.7,28.2L446.2,28.9L448.1,31.4L459.1,31.9L463.3,33.4L464.9,35.3L468.2,34.9L481.1,31.3L500.2,33.7L507.3,35.4L512.7,34.7L512.6,41.4L505.0,48.9L500.2,49.5L473.2,50.6ZM576.3,36.8L565.5,36.7L562.6,35.9L561.3,34.3L562.1,33.0L563.4,32.4L569.2,31.5L577.1,31.8L581.0,33.4L581.3,34.7L580.6,35.5L576.3,36.8Z" fill="#d92523" fill-rule="evenodd"/><path d="M444.1,38.9L437.5,38.8L433.3,38.1L431.3,36.7L430.9,34.3L432.5,32.6L436.2,31.7L453.7,31.7L459.9,32.5L462.7,33.9L463.6,35.1L462.8,37.0L459.9,38.1L444.1,38.9ZM575.9,36.4L566.6,36.4L563.6,35.5L562.6,34.3L563.0,33.4L564.6,32.6L570.1,31.9L576.7,32.3L579.0,33.0L579.9,33.9L579.9,34.7L579.0,35.5L575.9,36.4Z" fill="#ce1a1e" fill-rule="evenodd"/><path d="M442.5,38.5L437.1,38.3L433.9,37.6L432.2,36.4L432.0,34.3L433.3,33.0L436.6,32.2L453.7,32.0L459.1,32.7L462.5,35.1L461.7,36.8L459.1,37.7L442.5,38.5ZM574.2,36.0L567.2,35.8L564.9,35.1L564.3,34.3L565.9,33.0L570.1,32.5L575.5,32.8L578.2,33.9L577.7,35.1L574.2,36.0Z" fill="#c2161b" fill-rule="evenodd"/><path d="M457.0,37.6L437.5,37.7L434.2,36.8L433.2,35.1L434.4,33.4L437.1,32.8L455.8,32.4L459.7,33.4L461.0,35.1L460.4,36.4L457.0,37.6ZM573.8,35.1L568.8,35.1L567.0,34.3L568.6,33.4L571.3,33.2L574.0,33.4L575.6,34.3L573.8,35.1Z" fill="#b61319" fill-rule="evenodd"/><path d="M456.6,37.3L452.0,37.6L438.7,37.0L436.0,36.4L435.1,35.1L436.2,34.0L438.3,33.5L446.2,33.5L450.4,32.7L455.4,32.8L458.4,33.4L459.9,34.7L459.2,36.4L456.6,37.3Z" fill="#a91016" fill-rule="evenodd"/><path d="M456.2,36.9L449.1,36.9L447.1,36.4L445.9,35.1L447.0,33.9L448.7,33.4L455.8,33.3L457.9,33.9L458.8,35.1L458.3,36.0L456.2,36.9Z" fill="#980c13" fill-rule="evenodd"/><path d="M455.4,36.4L450.0,36.5L448.2,35.9L447.5,35.1L449.5,33.8L454.9,33.8L456.7,34.3L457.4,35.1L455.4,36.4Z" fill="#840711" fill-rule="evenodd"/><path d="M454.1,35.6L451.6,35.7L450.2,35.1L453.3,34.5L454.7,35.1L454.1,35.6Z" fill="#71020e" fill-rule="evenodd"/></g></g><path d="M43.5,459.69H639.5M43.5,476.37H639.5M43.5,493.05H639.5M43.5,509.73H639.5M43.5,526.41H639.5M93.37,453.35V532.75M143.24,453.35V532.75M193.12,453.35V532.75M242.99,453.35V532.75M292.86,453.35V532.75M342.73,453.35V532.75M392.6,453.35V532.75M442.48,453.35V532.75M492.35,453.35V532.75M542.22,453.35V532.75M592.09,453.35V532.75" stroke="#2a2a2a" stroke-width="0.75" stroke-dasharray="2.1,1.1" fill="none"/><g transform="translate(0,453.35)" clip-path="url(#mapclip)"><path d="M165.4,0.1L167.0,3.8L167.7,5.8L169.3,7.8L171.5,9.3L174.8,10.8L178.2,12.0L182.3,13.5L184.8,12.7L186.5,12.8L189.5,15.5L191.5,16.5L193.9,17.3L196.8,18.0L197.6,18.7L199.8,20.9L200.3,21.7L200.1,22.7L201.3,23.7L203.1,24.0L203.9,25.7L205.8,26.0L207.4,26.9L209.1,27.5L209.7,27.0L208.9,26.2L210.4,24.9L212.2,25.7L213.1,27.4L213.9,28.4L214.2,30.5L213.9,33.0L212.2,35.5L211.4,37.2L209.7,38.4L208.9,40.5L208.2,43.0L209.2,45.4L207.6,47.2L207.9,49.7L210.1,52.2L212.2,55.5L214.4,59.4L216.1,62.2L217.2,64.7L220.5,67.1L223.9,68.9L225.9,70.6L226.2,73.9L226.0,76.4L225.5,79.3M159.2,0.1L159.9,1.3L160.7,1.0L160.5,0.1M180.3,0.1L180.6,3.0L181.1,5.5L182.6,7.5L184.8,8.7L186.5,9.3L189.0,8.7L191.0,8.5L192.3,6.7L192.6,4.7L195.6,3.8L198.1,3.8L197.3,5.8L196.8,8.8L195.9,10.5L195.4,13.3L197.3,13.3L201.4,13.0L204.1,14.3L203.9,16.3L203.8,18.9L203.3,21.4L204.8,23.0L207.2,24.9L209.7,24.2L211.4,23.7L214.1,25.4L215.1,25.5L216.4,24.2L217.2,22.2L218.9,21.4L220.9,20.9L222.7,19.9L223.9,19.0L224.2,20.2L223.2,21.4L223.7,22.2L224.4,21.7L226.0,20.4L228.9,22.0L233.0,22.0L236.3,22.0L238.8,22.0L239.7,23.0L241.3,25.4L243.3,25.9L245.5,28.0L247.6,29.7L251.3,29.9L254.6,30.5L256.8,32.7L257.9,34.7L258.8,36.7L259.6,38.9L261.3,40.0L262.1,41.4L263.8,40.7L266.3,41.4L268.8,43.5L272.1,44.2L274.6,44.5L277.9,45.5L280.4,47.2L283.7,48.4L284.5,50.5L284.9,52.2L284.2,54.7L282.1,56.9L280.4,58.9L278.7,61.1L277.9,63.1L277.9,66.4L277.1,69.7L276.2,72.2L274.9,74.7L273.7,76.4L272.1,78.1L269.6,78.4L267.9,79.3M201.6,3.2L203.1,1.8L206.4,1.0L208.9,1.3L211.4,2.5L213.9,3.7L216.4,4.5L219.4,5.8L217.2,6.5L213.9,6.5L213.4,5.2L210.6,3.8L207.2,2.8L204.8,3.0L201.6,3.2M219.0,6.5L221.7,6.5L224.7,6.5L227.2,7.5L229.0,8.7L226.4,9.3L224.0,10.3L223.0,9.5L219.4,9.0L221.7,8.7L221.9,7.2L219.0,6.5M212.6,9.0L215.9,9.3L215.1,9.8L212.7,9.3L212.6,9.0M231.0,8.8L233.7,9.0L233.5,9.7L231.0,9.7L231.0,8.8M239.8,21.9L241.3,21.7L241.3,22.9L239.8,22.9M220.9,44.9L226.0,46.0L229.5,44.4L234.2,44.9L239.5,46.0L241.8,44.9L246.3,44.7L251.1,43.2L255.8,42.0L258.1,40.2M230.2,28.7L233.0,27.0L236.3,26.4L239.7,25.5M316.1,0.1L315.6,2.2L314.5,4.7L315.3,7.2L315.6,9.7L314.8,13.0L313.8,15.2L314.8,17.2L315.0,19.2L317.0,20.5L318.6,22.2L320.6,23.9L322.0,26.5L324.4,28.5L326.9,30.5L330.3,32.4L334.4,31.2L337.7,31.4L340.2,31.4L343.6,30.0L345.2,29.4L347.7,29.0L350.2,29.2L351.9,31.4L353.5,32.5L355.2,32.2L356.9,32.0L358.5,33.4L359.0,35.5L358.5,38.0L358.2,40.5L359.4,43.0L361.8,45.5L362.7,48.0L363.2,49.7L364.3,52.2L364.8,54.7L365.2,57.7L363.8,60.5L363.0,63.1L362.3,67.2L363.5,69.7L365.2,73.1L366.7,76.4L366.8,79.3M315.6,13.0L318.6,12.0L322.0,14.3M327.4,21.2L330.9,18.2L336.1,15.2L338.1,12.2L341.2,11.2L343.2,12.2L344.7,15.7M350.9,23.7L353.5,26.2L353.5,29.7M353.7,26.7L358.0,26.7M363.2,49.7L366.0,47.2L368.5,46.4L370.2,43.0L371.8,39.7L373.5,37.2L376.8,36.4L380.1,36.2L382.6,38.0L385.1,38.9M395.6,39.2L398.4,39.2L399.3,40.2L400.1,41.4L398.4,43.9L395.9,43.5L395.3,41.4L395.6,39.2M391.3,45.2L391.6,48.9L392.9,51.4L394.3,53.9M399.8,55.5L400.3,58.0L400.6,60.5L401.2,63.4M401.7,0.1L403.9,3.0L404.7,5.5L406.7,9.7L408.4,13.3L411.7,16.7L414.5,19.7L414.5,20.5L416.7,22.4L419.2,21.9L423.4,21.0L427.8,20.0L427.5,22.2L427.2,24.7L425.0,27.2L423.4,30.5L420.0,34.7L416.7,37.2L413.4,40.5L410.9,43.0L409.2,45.0L408.1,47.2L407.9,49.7L408.1,52.2L408.7,54.7L409.7,57.2L410.1,60.5L410.4,63.9L409.2,66.4L405.1,69.4L401.7,72.2L400.9,74.7L401.7,77.2L401.7,79.3M406.7,0.1L407.9,3.0L409.2,5.5L411.7,9.7L413.4,13.0L414.2,16.3L415.0,18.5L417.5,18.3L420.9,17.2L424.2,16.0L427.5,14.3L430.0,12.5L434.2,10.8L436.7,9.3L438.3,8.0L440.0,5.5L441.6,2.5L440.8,1.3L439.8,0.1M424.7,59.7L425.9,63.1L426.7,65.6L425.0,68.9L423.7,73.1L422.2,77.2L421.4,79.3M415.4,79.3L414.7,76.4L416.5,73.1L415.9,68.9L416.7,66.7L420.0,65.6L421.7,63.9L422.5,62.2L424.7,59.7M456.6,0.3L458.3,2.2L459.1,3.0L459.9,4.7L462.4,4.2L463.4,2.7L463.8,4.7L463.9,8.0L464.6,11.3L465.4,13.8L466.6,16.3L467.1,18.3L468.2,20.5L469.6,23.4L470.7,25.7L471.7,26.2L472.7,24.9L474.4,24.2L475.4,22.5L475.6,20.5L476.1,18.0L475.9,14.7L477.4,12.7L479.5,11.7L481.5,9.7L484.0,7.2L486.5,6.0L487.4,3.8L489.9,3.3L491.5,3.3L493.2,2.2L494.8,2.2L495.7,4.2L496.2,5.2L497.3,6.7L499.3,8.8L499.8,11.3L499.5,13.0L500.7,13.3L503.2,11.8L504.8,12.2L505.3,14.7L506.1,17.2L506.6,20.5L506.5,23.0L506.1,25.5L507.3,27.2L509.0,28.9L509.5,31.4L510.3,33.9L511.5,35.5L514.8,37.5L516.0,37.4L514.6,33.4L514.5,30.5L512.3,29.4L510.6,28.2L509.3,25.9L507.8,23.9L507.6,22.2L508.3,19.7L509.0,17.5L510.5,18.5L512.0,18.9L513.5,19.7L514.0,21.0L516.5,22.4L517.3,24.7L517.6,25.2L519.8,23.9L520.6,22.2L523.1,21.0L524.3,19.7L524.4,17.2L523.9,14.7L522.3,13.0L520.6,11.3L518.9,8.8L518.6,7.2L519.8,5.5L521.4,3.8L523.1,3.7L525.3,4.0L526.4,5.8L528.1,3.8L531.4,2.5L533.1,2.2L536.4,1.3L538.1,0.1M475.6,23.5L476.6,24.2L477.9,25.9L478.7,28.0L478.4,29.4L476.7,29.9L475.7,28.9L475.4,26.7L475.6,23.5M523.3,7.7L524.8,6.3L526.6,6.3L527.3,7.2L525.6,9.2L523.9,8.8L523.3,7.7M542.4,0.1L542.4,1.3L543.4,3.2L543.9,2.0L544.7,0.7L545.0,0.1M543.2,8.8L545.9,8.8L545.9,11.3L544.7,13.3L544.9,15.5L546.4,16.0L548.9,18.0L547.2,18.0L544.7,16.7L543.2,15.8L542.2,15.0L541.9,12.2L542.7,10.5L543.2,8.8M545.5,28.0L548.0,26.4L550.5,24.7L552.7,24.2L552.7,28.0L551.4,29.7L548.9,28.9L547.2,27.2L545.5,28.0M549.4,18.9L551.4,19.2L551.7,21.4L550.5,22.7L549.4,20.9L549.4,18.9M545.5,20.0L547.2,20.5L546.4,22.2L545.4,21.9L545.5,20.0M547.2,21.7L548.0,23.0L547.5,24.5L546.4,23.2L547.2,21.7M537.6,25.9L539.7,23.9L541.4,20.9M523.9,37.2L524.9,36.4L527.3,36.7L530.6,34.4L532.2,32.2L534.7,30.9L536.4,28.9L537.7,28.0L538.6,29.7L540.9,31.0L538.9,32.5L538.2,34.7L538.9,38.0L540.6,38.2L538.1,39.7L536.4,42.2L535.9,44.7L533.1,46.0L530.6,45.0L527.3,44.7L525.6,43.0L524.8,40.5L523.9,37.2M501.2,30.4L504.8,31.0L506.5,33.0L509.8,36.0L514.8,39.7L516.5,42.2L518.9,44.7L518.6,49.4L516.5,49.5L512.8,46.4L510.6,43.9L509.0,41.0L506.8,37.2L504.0,34.2L501.2,30.4M517.6,51.0L519.8,49.7L523.1,50.9L526.4,51.2L529.8,51.2L533.1,52.5L533.1,53.9L528.9,53.5L525.6,53.2L522.3,52.7L519.8,52.0L517.6,51.0M533.9,53.7L535.6,53.9M536.9,54.0L540.6,53.9M541.9,54.0L544.7,53.9L547.2,53.5M548.0,56.9L550.5,54.7L554.4,53.7L550.5,55.5L548.0,56.9M541.4,48.9L541.4,45.5L540.2,44.4L541.4,40.5L542.2,38.9L543.5,37.5L546.4,38.0L549.7,38.0L550.9,37.2L548.9,39.0L544.7,38.9L543.1,39.7L543.9,41.4L547.2,41.0L544.7,42.7L546.4,45.5L547.5,47.2L545.5,47.5L543.9,44.7L542.7,44.7L542.9,48.9L541.4,48.9M555.2,36.4L555.5,38.9L556.7,37.7L555.5,39.4L556.4,41.0L554.9,39.7L555.2,36.4M555.5,44.7L559.7,45.0L560.2,46.0L556.4,45.7L555.5,44.7M552.2,45.0L554.2,45.4L553.0,46.0M560.5,41.7L563.0,40.4L565.5,41.2L567.2,45.2L571.3,42.2L575.5,43.7L579.6,45.0L582.9,46.0L585.1,48.4L587.9,49.7L588.6,51.4L587.1,52.5L589.1,53.2L591.3,55.5L592.9,56.9L590.4,56.9L587.1,55.5L584.6,52.9L582.1,52.5L580.5,54.7L577.1,54.9L573.8,53.2L571.8,53.7L573.0,51.4L571.3,48.0L567.2,47.0L563.8,46.4L562.2,44.4L560.5,41.7M589.6,48.9L592.1,48.0L594.6,46.7L595.7,48.0L593.8,49.7L590.4,50.0L589.6,48.9M592.9,44.0L595.4,45.5L597.1,47.5M615.4,73.4L617.9,75.2L620.4,77.1M637.5,68.9L639.5,69.6L639.1,67.2L641.8,66.9M531.7,79.3L531.9,76.4L532.4,76.1L535.6,74.2L539.7,73.6L543.9,72.2L546.0,68.9L548.0,67.2L549.7,65.6L552.2,63.1L554.7,63.4L557.2,64.7L558.8,61.4L559.7,60.5L562.2,58.9L564.7,59.4L567.2,60.0L569.6,59.7L570.1,61.4L568.0,63.9L569.6,65.6L571.3,66.9L573.8,68.4L576.3,68.9L578.0,65.6L578.1,62.2L578.8,58.0L579.6,57.5L581.3,62.2L582.9,63.6L584.3,64.7L584.6,67.2L585.8,70.6L587.9,72.2L590.4,73.9L591.3,76.4L593.4,77.2L593.8,79.3M496.8,17.2L496.7,20.5" stroke="#111" stroke-width="1.05" fill="none" stroke-linejoin="round"/><circle cx="84.1" cy="7.0" r="1" fill="#111"/><circle cx="366.2" cy="17.8" r="1" fill="#111"/></g><rect x="43.5" y="453.35" width="596" height="79.4" fill="none" stroke="#555" stroke-width="1"/><text x="38.2" y="461.69" font-size="11" text-anchor="end">20°N</text><text x="38.2" y="478.37" font-size="11" text-anchor="end">10°N</text><text x="38.2" y="495.05" font-size="11" text-anchor="end">0°</text><text x="38.2" y="511.73" font-size="11" text-anchor="end">10°S</text><text x="38.2" y="528.41" font-size="11" text-anchor="end">20°S</text><text x="43.5" y="548.55" font-size="11" text-anchor="middle">180°</text><text x="93.37" y="548.55" font-size="11" text-anchor="middle">150°W</text><text x="143.24" y="548.55" font-size="11" text-anchor="middle">120°W</text><text x="193.12" y="548.55" font-size="11" text-anchor="middle">90°W</text><text x="242.99" y="548.55" font-size="11" text-anchor="middle">60°W</text><text x="292.86" y="548.55" font-size="11" text-anchor="middle">30°W</text><text x="344.03" y="548.55" font-size="11" text-anchor="middle">0°</text><text x="393.9" y="548.55" font-size="11" text-anchor="middle">30°E</text><text x="443.78" y="548.55" font-size="11" text-anchor="middle">60°E</text><text x="493.65" y="548.55" font-size="11" text-anchor="middle">90°E</text><text x="543.52" y="548.55" font-size="11" text-anchor="middle">120°E</text><text x="593.39" y="548.55" font-size="11" text-anchor="middle">150°E</text><text x="341.9" y="562.75" font-size="12" text-anchor="middle" textLength="53" lengthAdjust="spacingAndGlyphs">Longitude</text><text x="341.4" y="444.55" font-size="12" text-anchor="middle" font-weight="bold" textLength="74.6" lengthAdjust="spacingAndGlyphs">(d) EIPO (#7)</text><text transform="translate(10,493.05) rotate(-90)" font-size="12" text-anchor="middle" textLength="42.8" lengthAdjust="spacingAndGlyphs">Latitude</text><rect x="645.6" y="453.35" width="5.2" height="79.4" fill="url(#cb)" stroke="#666" stroke-width="0.8"/><path d="M650.8,453.35h2" stroke="#444" stroke-width="0.8"/><text x="655.2" y="457.15" font-size="11" textLength="14.2" lengthAdjust="spacingAndGlyphs">1.0</text><path d="M650.8,493.05h2" stroke="#444" stroke-width="0.8"/><text x="655.2" y="496.85" font-size="11" textLength="14.2" lengthAdjust="spacingAndGlyphs">0.5</text><path d="M650.8,532.75h2" stroke="#444" stroke-width="0.8"/><text x="655.2" y="536.55" font-size="11" textLength="14.2" lengthAdjust="spacingAndGlyphs">0.0</text><text transform="translate(684.6,493.55) rotate(-90)" font-size="12" text-anchor="middle"><tspan font-style="italic">k</tspan><tspan font-size="8.5" dx="1.6" dy="-5.2">c</tspan></text><path d="M60.2,764.5v-7.5M60.2,586.5v7.5M85.12,764.5v-3.8M85.12,586.5v3.8M110.04,764.5v-7.5M110.04,586.5v7.5M134.96,764.5v-3.8M134.96,586.5v3.8M159.88,764.5v-7.5M159.88,586.5v7.5M184.8,764.5v-3.8M184.8,586.5v3.8M209.72,764.5v-7.5M209.72,586.5v7.5M234.64,764.5v-3.8M234.64,586.5v3.8M259.56,764.5v-7.5M259.56,586.5v7.5M284.48,764.5v-3.8M284.48,586.5v3.8M309.4,764.5v-7.5M309.4,586.5v7.5M60.2,764.5h7.5M311.5,764.5h-7.5M60.2,737.71h3.8M311.5,737.71h-3.8M60.2,722.04h3.8M311.5,722.04h-3.8M60.2,710.92h3.8M311.5,710.92h-3.8M60.2,702.29h3.8M311.5,702.29h-3.8M60.2,695.24h3.8M311.5,695.24h-3.8M60.2,689.29h3.8M311.5,689.29h-3.8M60.2,684.12h3.8M311.5,684.12h-3.8M60.2,679.57h3.8M311.5,679.57h-3.8M60.2,675.5h7.5M311.5,675.5h-7.5M60.2,648.71h3.8M311.5,648.71h-3.8M60.2,633.04h3.8M311.5,633.04h-3.8M60.2,621.92h3.8M311.5,621.92h-3.8M60.2,613.29h3.8M311.5,613.29h-3.8M60.2,606.24h3.8M311.5,606.24h-3.8M60.2,600.29h3.8M311.5,600.29h-3.8M60.2,595.12h3.8M311.5,595.12h-3.8M60.2,590.57h3.8M311.5,590.57h-3.8M60.2,586.5h7.5M311.5,586.5h-7.5" stroke="#666" stroke-width="0.8" fill="none"/><rect x="60.5" y="586.5" width="251" height="178.5" fill="none" stroke="#444" stroke-width="1"/><text x="60.2" y="784.1" font-size="11" text-anchor="middle">0.0</text><text x="110.04" y="784.1" font-size="11" text-anchor="middle">0.2</text><text x="159.88" y="784.1" font-size="11" text-anchor="middle">0.4</text><text x="209.72" y="784.1" font-size="11" text-anchor="middle">0.6</text><text x="259.56" y="784.1" font-size="11" text-anchor="middle">0.8</text><text x="309.4" y="784.1" font-size="11" text-anchor="middle">1.0</text><text x="43.4" y="593.3" font-size="11" text-anchor="end">10</text><text x="44" y="587.4" font-size="8.5">-1</text><text x="43.4" y="682.3" font-size="11" text-anchor="end">10</text><text x="44" y="676.4" font-size="8.5">-2</text><text x="43.4" y="771.3" font-size="11" text-anchor="end">10</text><text x="44" y="765.4" font-size="8.5">-3</text><text x="2" y="592.4" font-size="12" font-weight="bold">(e)</text><text transform="translate(15.8,675.4) rotate(-90)" font-size="12" text-anchor="middle" textLength="19.3" lengthAdjust="spacingAndGlyphs">PDF</text><text x="154.8" y="805" font-size="12">Degree (<tspan font-style="italic">k</tspan><tspan font-size="8.5" dx="0.8" dy="-5.2">c</tspan><tspan dy="5.2">)</tspan></text><text x="126.4" y="606.8" font-size="11" text-anchor="end">NH (#1)</text><path d="M136,602.5H171" stroke="#222" stroke-width="1"/><rect x="150.8" y="599.8" width="5.4" height="5.4" fill="none" stroke="#222" stroke-width="1.15"/><text x="126.4" y="623.8" font-size="11" text-anchor="end">SH (#2)</text><path d="M136,619.5H171" stroke="#cf3a3a" stroke-width="1"/><circle cx="153.5" cy="619.5" r="3" fill="none" stroke="#cf3a3a" stroke-width="1.15"/><text x="243.4" y="606.8" font-size="11" text-anchor="end">EPAO (#5)</text><path d="M251.7,602.5H287" stroke="#2a6fd2" stroke-width="1"/><path d="M269.35,599.2L272.25,604.1H266.45Z" fill="none" stroke="#2a6fd2" stroke-width="1.15"/><text x="243.4" y="623.8" font-size="11" text-anchor="end">EIPO (#7)</text><path d="M251.7,619.5H287" stroke="#3a9c3a" stroke-width="1"/><path d="M269.35,622.8L272.25,617.9H266.45Z" fill="none" stroke="#3a9c3a" stroke-width="1.15"/><path d="M446.84,764.7v-3.8M446.84,586.3v3.8M461.6,764.7v-3.8M461.6,586.3v3.8M472.07,764.7v-3.8M472.07,586.3v3.8M480.19,764.7v-3.8M480.19,586.3v3.8M486.83,764.7v-3.8M486.83,586.3v3.8M492.44,764.7v-3.8M492.44,586.3v3.8M497.31,764.7v-3.8M497.31,586.3v3.8M501.59,764.7v-3.8M501.59,586.3v3.8M505.43,764.7v-7.5M505.43,586.3v7.5M530.67,764.7v-3.8M530.67,586.3v3.8M545.43,764.7v-3.8M545.43,586.3v3.8M555.9,764.7v-3.8M555.9,586.3v3.8M564.02,764.7v-3.8M564.02,586.3v3.8M570.66,764.7v-3.8M570.66,586.3v3.8M576.27,764.7v-3.8M576.27,586.3v3.8M581.14,764.7v-3.8M581.14,586.3v3.8M585.42,764.7v-3.8M585.42,586.3v3.8M589.26,764.7v-7.5M589.26,586.3v7.5M614.5,764.7v-3.8M614.5,586.3v3.8M629.26,764.7v-3.8M629.26,586.3v3.8M639.73,764.7v-3.8M639.73,586.3v3.8M647.85,764.7v-3.8M647.85,586.3v3.8M654.49,764.7v-3.8M654.49,586.3v3.8M660.1,764.7v-3.8M660.1,586.3v3.8M664.97,764.7v-3.8M664.97,586.3v3.8M669.25,764.7v-3.8M669.25,586.3v3.8M421.6,742.97h3.8M673.1,742.97h-3.8M421.6,730.25h3.8M673.1,730.25h-3.8M421.6,721.23h3.8M673.1,721.23h-3.8M421.6,714.23h3.8M673.1,714.23h-3.8M421.6,708.52h3.8M673.1,708.52h-3.8M421.6,703.68h3.8M673.1,703.68h-3.8M421.6,699.5h3.8M673.1,699.5h-3.8M421.6,695.8h3.8M673.1,695.8h-3.8M421.6,692.5h7.5M673.1,692.5h-7.5M421.6,670.77h3.8M673.1,670.77h-3.8M421.6,658.05h3.8M673.1,658.05h-3.8M421.6,649.03h3.8M673.1,649.03h-3.8M421.6,642.03h3.8M673.1,642.03h-3.8M421.6,636.32h3.8M673.1,636.32h-3.8M421.6,631.48h3.8M673.1,631.48h-3.8M421.6,627.3h3.8M673.1,627.3h-3.8M421.6,623.6h3.8M673.1,623.6h-3.8M421.6,620.3h7.5M673.1,620.3h-7.5M421.6,598.57h3.8M673.1,598.57h-3.8M421.6,585.85h3.8M673.1,585.85h-3.8" stroke="#666" stroke-width="0.8" fill="none"/><rect x="421.5" y="586.5" width="251.5" height="178.5" fill="none" stroke="#444" stroke-width="1"/><text x="419.3" y="783.8" font-size="11" text-anchor="middle">10</text><text x="426.1" y="778.4" font-size="8">2</text><text x="503.13" y="783.8" font-size="11" text-anchor="middle">10</text><text x="509.93" y="778.4" font-size="8">3</text><text x="586.96" y="783.8" font-size="11" text-anchor="middle">10</text><text x="593.76" y="778.4" font-size="8">4</text><text x="670.79" y="783.8" font-size="11" text-anchor="middle">10</text><text x="677.59" y="778.4" font-size="8">5</text><text x="404.6" y="627.3" font-size="11" text-anchor="end">10</text><text x="405.2" y="621.2" font-size="8.5">-1</text><text x="404.6" y="699.5" font-size="11" text-anchor="end">10</text><text x="405.2" y="693.4" font-size="8.5">-2</text><text x="404.6" y="771.7" font-size="11" text-anchor="end">10</text><text x="405.2" y="765.6" font-size="8.5">-3</text><text x="363.3" y="592.4" font-size="12" font-weight="bold">(f)</text><text transform="translate(377.1,675.2) rotate(-90)" font-size="12" text-anchor="middle" textLength="19.3" lengthAdjust="spacingAndGlyphs">PDF</text><text x="486.1" y="805.3" font-size="11.6">Link distance (<tspan font-style="italic">LD</tspan><tspan font-size="8.5" dx="0.8" dy="-5.2">c</tspan><tspan dy="5.2">) (km)</tspan></text><g clip-path="url(#ce)"><path d="M73.32,659.6L86.43,660L99.55,665.2L112.66,675.4L125.78,667.8L138.89,675.4L152.01,673.3L165.13,671.9L178.24,670.3L191.36,671.5L204.47,672.3L217.59,664.7L230.71,656.6L243.82,648.4L256.94,650.4L270.05,664.7L283.17,654.9L296.28,646.8L309.4,702.7" fill="none" stroke="#222" stroke-width="1" stroke-linejoin="round"/><rect x="70.62" y="656.9" width="5.4" height="5.4" fill="none" stroke="#222" stroke-width="1.15"/><rect x="83.73" y="657.3" width="5.4" height="5.4" fill="none" stroke="#222" stroke-width="1.15"/><rect x="96.85" y="662.5" width="5.4" height="5.4" fill="none" stroke="#222" stroke-width="1.15"/><rect x="109.96" y="672.7" width="5.4" height="5.4" fill="none" stroke="#222" stroke-width="1.15"/><rect x="123.08" y="665.1" width="5.4" height="5.4" fill="none" stroke="#222" stroke-width="1.15"/><rect x="136.19" y="672.7" width="5.4" height="5.4" fill="none" stroke="#222" stroke-width="1.15"/><rect x="149.31" y="670.6" width="5.4" height="5.4" fill="none" stroke="#222" stroke-width="1.15"/><rect x="162.43" y="669.2" width="5.4" height="5.4" fill="none" stroke="#222" stroke-width="1.15"/><rect x="175.54" y="667.6" width="5.4" height="5.4" fill="none" stroke="#222" stroke-width="1.15"/><rect x="188.66" y="668.8" width="5.4" height="5.4" fill="none" stroke="#222" stroke-width="1.15"/><rect x="201.77" y="669.6" width="5.4" height="5.4" fill="none" stroke="#222" stroke-width="1.15"/><rect x="214.89" y="662" width="5.4" height="5.4" fill="none" stroke="#222" stroke-width="1.15"/><rect x="228.01" y="653.9" width="5.4" height="5.4" fill="none" stroke="#222" stroke-width="1.15"/><rect x="241.12" y="645.7" width="5.4" height="5.4" fill="none" stroke="#222" stroke-width="1.15"/><rect x="254.24" y="647.7" width="5.4" height="5.4" fill="none" stroke="#222" stroke-width="1.15"/><rect x="267.35" y="662" width="5.4" height="5.4" fill="none" stroke="#222" stroke-width="1.15"/><rect x="280.47" y="652.2" width="5.4" height="5.4" fill="none" stroke="#222" stroke-width="1.15"/><rect x="293.58" y="644.1" width="5.4" height="5.4" fill="none" stroke="#222" stroke-width="1.15"/><rect x="306.7" y="700" width="5.4" height="5.4" fill="none" stroke="#222" stroke-width="1.15"/></g><g clip-path="url(#ce)"><path d="M73.32,635.5L86.43,648.4L99.55,662.1L112.66,668.2L125.78,671.9L138.89,670.9L152.01,668.4L165.13,671.9L178.24,669.4L191.36,675.4L204.47,672.3L217.59,667.4L230.71,662.3L243.82,671.9L256.94,668.2L270.05,665.4L283.17,659.6L296.28,671.9L309.4,695.4" fill="none" stroke="#cf3a3a" stroke-width="1" stroke-linejoin="round"/><circle cx="73.32" cy="635.5" r="3" fill="none" stroke="#cf3a3a" stroke-width="1.15"/><circle cx="86.43" cy="648.4" r="3" fill="none" stroke="#cf3a3a" stroke-width="1.15"/><circle cx="99.55" cy="662.1" r="3" fill="none" stroke="#cf3a3a" stroke-width="1.15"/><circle cx="112.66" cy="668.2" r="3" fill="none" stroke="#cf3a3a" stroke-width="1.15"/><circle cx="125.78" cy="671.9" r="3" fill="none" stroke="#cf3a3a" stroke-width="1.15"/><circle cx="138.89" cy="670.9" r="3" fill="none" stroke="#cf3a3a" stroke-width="1.15"/><circle cx="152.01" cy="668.4" r="3" fill="none" stroke="#cf3a3a" stroke-width="1.15"/><circle cx="165.13" cy="671.9" r="3" fill="none" stroke="#cf3a3a" stroke-width="1.15"/><circle cx="178.24" cy="669.4" r="3" fill="none" stroke="#cf3a3a" stroke-width="1.15"/><circle cx="191.36" cy="675.4" r="3" fill="none" stroke="#cf3a3a" stroke-width="1.15"/><circle cx="204.47" cy="672.3" r="3" fill="none" stroke="#cf3a3a" stroke-width="1.15"/><circle cx="217.59" cy="667.4" r="3" fill="none" stroke="#cf3a3a" stroke-width="1.15"/><circle cx="230.71" cy="662.3" r="3" fill="none" stroke="#cf3a3a" stroke-width="1.15"/><circle cx="243.82" cy="671.9" r="3" fill="none" stroke="#cf3a3a" stroke-width="1.15"/><circle cx="256.94" cy="668.2" r="3" fill="none" stroke="#cf3a3a" stroke-width="1.15"/><circle cx="270.05" cy="665.4" r="3" fill="none" stroke="#cf3a3a" stroke-width="1.15"/><circle cx="283.17" cy="659.6" r="3" fill="none" stroke="#cf3a3a" stroke-width="1.15"/><circle cx="296.28" cy="671.9" r="3" fill="none" stroke="#cf3a3a" stroke-width="1.15"/><circle cx="309.4" cy="695.4" r="3" fill="none" stroke="#cf3a3a" stroke-width="1.15"/></g><g clip-path="url(#ce)"><path d="M73.32,661.7L86.43,649.8L99.55,652.5L112.66,656.6L125.78,670.9L138.89,672.3L152.01,673.9L165.13,667.2L178.24,665.2L191.36,670.9L204.47,668.8L217.59,674.6L230.71,671.5L243.82,667.8L256.94,683.5L270.05,689.5L283.17,721.7L296.28,737L309.4,764.6" fill="none" stroke="#2a6fd2" stroke-width="1" stroke-linejoin="round"/><path d="M73.32,658.4L76.22,663.3H70.42Z" fill="none" stroke="#2a6fd2" stroke-width="1.15"/><path d="M86.43,646.5L89.33,651.4H83.53Z" fill="none" stroke="#2a6fd2" stroke-width="1.15"/><path d="M99.55,649.2L102.45,654.1H96.65Z" fill="none" stroke="#2a6fd2" stroke-width="1.15"/><path d="M112.66,653.3L115.56,658.2H109.76Z" fill="none" stroke="#2a6fd2" stroke-width="1.15"/><path d="M125.78,667.6L128.68,672.5H122.88Z" fill="none" stroke="#2a6fd2" stroke-width="1.15"/><path d="M138.89,669L141.79,673.9H135.99Z" fill="none" stroke="#2a6fd2" stroke-width="1.15"/><path d="M152.01,670.6L154.91,675.5H149.11Z" fill="none" stroke="#2a6fd2" stroke-width="1.15"/><path d="M165.13,663.9L168.03,668.8H162.23Z" fill="none" stroke="#2a6fd2" stroke-width="1.15"/><path d="M178.24,661.9L181.14,666.8H175.34Z" fill="none" stroke="#2a6fd2" stroke-width="1.15"/><path d="M191.36,667.6L194.26,672.5H188.46Z" fill="none" stroke="#2a6fd2" stroke-width="1.15"/><path d="M204.47,665.5L207.37,670.4H201.57Z" fill="none" stroke="#2a6fd2" stroke-width="1.15"/><path d="M217.59,671.3L220.49,676.2H214.69Z" fill="none" stroke="#2a6fd2" stroke-width="1.15"/><path d="M230.71,668.2L233.61,673.1H227.81Z" fill="none" stroke="#2a6fd2" stroke-width="1.15"/><path d="M243.82,664.5L246.72,669.4H240.92Z" fill="none" stroke="#2a6fd2" stroke-width="1.15"/><path d="M256.94,680.2L259.84,685.1H254.04Z" fill="none" stroke="#2a6fd2" stroke-width="1.15"/><path d="M270.05,686.2L272.95,691.1H267.15Z" fill="none" stroke="#2a6fd2" stroke-width="1.15"/><path d="M283.17,718.4L286.07,723.3H280.27Z" fill="none" stroke="#2a6fd2" stroke-width="1.15"/><path d="M296.28,733.7L299.18,738.6H293.38Z" fill="none" stroke="#2a6fd2" stroke-width="1.15"/><path d="M309.4,761.3L312.3,766.2H306.5Z" fill="none" stroke="#2a6fd2" stroke-width="1.15"/></g><g clip-path="url(#ce)"><path d="M73.32,764.6L86.43,764.6L99.55,738L112.66,738L125.78,711L138.89,695.6L152.01,680.1L165.13,668.4L178.24,671.9L191.36,660.2L204.47,666.4L217.59,671.9L230.71,680.1L243.82,702.7L256.94,702.7L270.05,702.7L283.17,738L296.28,765L309.4,765" fill="none" stroke="#3a9c3a" stroke-width="1" stroke-linejoin="round"/><path d="M73.32,767.9L76.22,763H70.42Z" fill="none" stroke="#3a9c3a" stroke-width="1.15"/><path d="M86.43,767.9L89.33,763H83.53Z" fill="none" stroke="#3a9c3a" stroke-width="1.15"/><path d="M99.55,741.3L102.45,736.4H96.65Z" fill="none" stroke="#3a9c3a" stroke-width="1.15"/><path d="M112.66,741.3L115.56,736.4H109.76Z" fill="none" stroke="#3a9c3a" stroke-width="1.15"/><path d="M125.78,714.3L128.68,709.4H122.88Z" fill="none" stroke="#3a9c3a" stroke-width="1.15"/><path d="M138.89,698.9L141.79,694H135.99Z" fill="none" stroke="#3a9c3a" stroke-width="1.15"/><path d="M152.01,683.4L154.91,678.5H149.11Z" fill="none" stroke="#3a9c3a" stroke-width="1.15"/><path d="M165.13,671.7L168.03,666.8H162.23Z" fill="none" stroke="#3a9c3a" stroke-width="1.15"/><path d="M178.24,675.2L181.14,670.3H175.34Z" fill="none" stroke="#3a9c3a" stroke-width="1.15"/><path d="M191.36,663.5L194.26,658.6H188.46Z" fill="none" stroke="#3a9c3a" stroke-width="1.15"/><path d="M204.47,669.7L207.37,664.8H201.57Z" fill="none" stroke="#3a9c3a" stroke-width="1.15"/><path d="M217.59,675.2L220.49,670.3H214.69Z" fill="none" stroke="#3a9c3a" stroke-width="1.15"/><path d="M230.71,683.4L233.61,678.5H227.81Z" fill="none" stroke="#3a9c3a" stroke-width="1.15"/><path d="M243.82,706L246.72,701.1H240.92Z" fill="none" stroke="#3a9c3a" stroke-width="1.15"/><path d="M256.94,706L259.84,701.1H254.04Z" fill="none" stroke="#3a9c3a" stroke-width="1.15"/><path d="M270.05,706L272.95,701.1H267.15Z" fill="none" stroke="#3a9c3a" stroke-width="1.15"/><path d="M283.17,741.3L286.07,736.4H280.27Z" fill="none" stroke="#3a9c3a" stroke-width="1.15"/><path d="M296.28,768.3L299.18,763.4H293.38Z" fill="none" stroke="#3a9c3a" stroke-width="1.15"/><path d="M309.4,768.3L312.3,763.4H306.5Z" fill="none" stroke="#3a9c3a" stroke-width="1.15"/></g><g clip-path="url(#cf)"><path d="M428.24,650.4L488.03,632.5L509.56,635.2L522.99,640.1L532.79,647.2L540.5,651.5L546.85,657.1L552.27,661.8L556.98,667.6L561.15,672.7L564.89,674.2L568.28,674.9L571.38,674.5L574.24,672L576.89,670L579.36,669L581.68,668L583.85,667.5L585.91,667L587.85,667.5L589.69,667L591.45,667L593.12,668L594.73,669L596.26,670L597.73,671L599.15,672L600.51,673L601.82,672L603.09,665L604.31,656L605.5,649.6L606.64,648.8L607.76,650L608.83,664L609.88,689.5L610.9,742.8" fill="none" stroke="#222" stroke-width="1" stroke-linejoin="round"/><rect x="425.54" y="647.7" width="5.4" height="5.4" fill="none" stroke="#222" stroke-width="1.15"/><rect x="485.33" y="629.8" width="5.4" height="5.4" fill="none" stroke="#222" stroke-width="1.15"/><rect x="506.86" y="632.5" width="5.4" height="5.4" fill="none" stroke="#222" stroke-width="1.15"/><rect x="520.29" y="637.4" width="5.4" height="5.4" fill="none" stroke="#222" stroke-width="1.15"/><rect x="530.09" y="644.5" width="5.4" height="5.4" fill="none" stroke="#222" stroke-width="1.15"/><rect x="537.8" y="648.8" width="5.4" height="5.4" fill="none" stroke="#222" stroke-width="1.15"/><rect x="544.15" y="654.4" width="5.4" height="5.4" fill="none" stroke="#222" stroke-width="1.15"/><rect x="549.57" y="659.1" width="5.4" height="5.4" fill="none" stroke="#222" stroke-width="1.15"/><rect x="554.28" y="664.9" width="5.4" height="5.4" fill="none" stroke="#222" stroke-width="1.15"/><rect x="558.45" y="670" width="5.4" height="5.4" fill="none" stroke="#222" stroke-width="1.15"/><rect x="562.19" y="671.5" width="5.4" height="5.4" fill="none" stroke="#222" stroke-width="1.15"/><rect x="565.58" y="672.2" width="5.4" height="5.4" fill="none" stroke="#222" stroke-width="1.15"/><rect x="568.68" y="671.8" width="5.4" height="5.4" fill="none" stroke="#222" stroke-width="1.15"/><rect x="571.54" y="669.3" width="5.4" height="5.4" fill="none" stroke="#222" stroke-width="1.15"/><rect x="574.19" y="667.3" width="5.4" height="5.4" fill="none" stroke="#222" stroke-width="1.15"/><rect x="576.66" y="666.3" width="5.4" height="5.4" fill="none" stroke="#222" stroke-width="1.15"/><rect x="578.98" y="665.3" width="5.4" height="5.4" fill="none" stroke="#222" stroke-width="1.15"/><rect x="581.15" y="664.8" width="5.4" height="5.4" fill="none" stroke="#222" stroke-width="1.15"/><rect x="583.21" y="664.3" width="5.4" height="5.4" fill="none" stroke="#222" stroke-width="1.15"/><rect x="585.15" y="664.8" width="5.4" height="5.4" fill="none" stroke="#222" stroke-width="1.15"/><rect x="586.99" y="664.3" width="5.4" height="5.4" fill="none" stroke="#222" stroke-width="1.15"/><rect x="588.75" y="664.3" width="5.4" height="5.4" fill="none" stroke="#222" stroke-width="1.15"/><rect x="590.42" y="665.3" width="5.4" height="5.4" fill="none" stroke="#222" stroke-width="1.15"/><rect x="592.03" y="666.3" width="5.4" height="5.4" fill="none" stroke="#222" stroke-width="1.15"/><rect x="593.56" y="667.3" width="5.4" height="5.4" fill="none" stroke="#222" stroke-width="1.15"/><rect x="595.03" y="668.3" width="5.4" height="5.4" fill="none" stroke="#222" stroke-width="1.15"/><rect x="596.45" y="669.3" width="5.4" height="5.4" fill="none" stroke="#222" stroke-width="1.15"/><rect x="597.81" y="670.3" width="5.4" height="5.4" fill="none" stroke="#222" stroke-width="1.15"/><rect x="599.12" y="669.3" width="5.4" height="5.4" fill="none" stroke="#222" stroke-width="1.15"/><rect x="600.39" y="662.3" width="5.4" height="5.4" fill="none" stroke="#222" stroke-width="1.15"/><rect x="601.61" y="653.3" width="5.4" height="5.4" fill="none" stroke="#222" stroke-width="1.15"/><rect x="602.8" y="646.9" width="5.4" height="5.4" fill="none" stroke="#222" stroke-width="1.15"/><rect x="603.94" y="646.1" width="5.4" height="5.4" fill="none" stroke="#222" stroke-width="1.15"/><rect x="605.06" y="647.3" width="5.4" height="5.4" fill="none" stroke="#222" stroke-width="1.15"/><rect x="606.13" y="661.3" width="5.4" height="5.4" fill="none" stroke="#222" stroke-width="1.15"/><rect x="607.18" y="686.8" width="5.4" height="5.4" fill="none" stroke="#222" stroke-width="1.15"/><rect x="608.2" y="740.1" width="5.4" height="5.4" fill="none" stroke="#222" stroke-width="1.15"/></g><g clip-path="url(#cf)"><path d="M428.24,641.7L488.03,624.8L509.56,629.6L522.99,639.9L532.79,650.8L540.5,660.3L546.85,672.8L552.27,689.8L556.98,708.7L561.15,721.1L564.89,721.1L568.28,708.7L571.38,692.7L574.24,682.1L576.89,670.5L579.36,662.5L581.68,656.1L583.85,652L585.91,649.3L587.85,648.8L589.69,650L591.45,652L593.12,655.7L594.73,660.5L596.26,667.3L597.73,676.1L599.15,684.1L600.51,695.4L601.82,698.6L603.09,695.4L604.31,684.1L605.5,666.5L606.64,654.4L607.76,650.4L608.83,662.5L609.88,683.7L610.9,708.8L611.89,764.5" fill="none" stroke="#cf3a3a" stroke-width="1" stroke-linejoin="round"/><circle cx="428.24" cy="641.7" r="3" fill="none" stroke="#cf3a3a" stroke-width="1.15"/><circle cx="488.03" cy="624.8" r="3" fill="none" stroke="#cf3a3a" stroke-width="1.15"/><circle cx="509.56" cy="629.6" r="3" fill="none" stroke="#cf3a3a" stroke-width="1.15"/><circle cx="522.99" cy="639.9" r="3" fill="none" stroke="#cf3a3a" stroke-width="1.15"/><circle cx="532.79" cy="650.8" r="3" fill="none" stroke="#cf3a3a" stroke-width="1.15"/><circle cx="540.5" cy="660.3" r="3" fill="none" stroke="#cf3a3a" stroke-width="1.15"/><circle cx="546.85" cy="672.8" r="3" fill="none" stroke="#cf3a3a" stroke-width="1.15"/><circle cx="552.27" cy="689.8" r="3" fill="none" stroke="#cf3a3a" stroke-width="1.15"/><circle cx="556.98" cy="708.7" r="3" fill="none" stroke="#cf3a3a" stroke-width="1.15"/><circle cx="561.15" cy="721.1" r="3" fill="none" stroke="#cf3a3a" stroke-width="1.15"/><circle cx="564.89" cy="721.1" r="3" fill="none" stroke="#cf3a3a" stroke-width="1.15"/><circle cx="568.28" cy="708.7" r="3" fill="none" stroke="#cf3a3a" stroke-width="1.15"/><circle cx="571.38" cy="692.7" r="3" fill="none" stroke="#cf3a3a" stroke-width="1.15"/><circle cx="574.24" cy="682.1" r="3" fill="none" stroke="#cf3a3a" stroke-width="1.15"/><circle cx="576.89" cy="670.5" r="3" fill="none" stroke="#cf3a3a" stroke-width="1.15"/><circle cx="579.36" cy="662.5" r="3" fill="none" stroke="#cf3a3a" stroke-width="1.15"/><circle cx="581.68" cy="656.1" r="3" fill="none" stroke="#cf3a3a" stroke-width="1.15"/><circle cx="583.85" cy="652" r="3" fill="none" stroke="#cf3a3a" stroke-width="1.15"/><circle cx="585.91" cy="649.3" r="3" fill="none" stroke="#cf3a3a" stroke-width="1.15"/><circle cx="587.85" cy="648.8" r="3" fill="none" stroke="#cf3a3a" stroke-width="1.15"/><circle cx="589.69" cy="650" r="3" fill="none" stroke="#cf3a3a" stroke-width="1.15"/><circle cx="591.45" cy="652" r="3" fill="none" stroke="#cf3a3a" stroke-width="1.15"/><circle cx="593.12" cy="655.7" r="3" fill="none" stroke="#cf3a3a" stroke-width="1.15"/><circle cx="594.73" cy="660.5" r="3" fill="none" stroke="#cf3a3a" stroke-width="1.15"/><circle cx="596.26" cy="667.3" r="3" fill="none" stroke="#cf3a3a" stroke-width="1.15"/><circle cx="597.73" cy="676.1" r="3" fill="none" stroke="#cf3a3a" stroke-width="1.15"/><circle cx="599.15" cy="684.1" r="3" fill="none" stroke="#cf3a3a" stroke-width="1.15"/><circle cx="600.51" cy="695.4" r="3" fill="none" stroke="#cf3a3a" stroke-width="1.15"/><circle cx="601.82" cy="698.6" r="3" fill="none" stroke="#cf3a3a" stroke-width="1.15"/><circle cx="603.09" cy="695.4" r="3" fill="none" stroke="#cf3a3a" stroke-width="1.15"/><circle cx="604.31" cy="684.1" r="3" fill="none" stroke="#cf3a3a" stroke-width="1.15"/><circle cx="605.5" cy="666.5" r="3" fill="none" stroke="#cf3a3a" stroke-width="1.15"/><circle cx="606.64" cy="654.4" r="3" fill="none" stroke="#cf3a3a" stroke-width="1.15"/><circle cx="607.76" cy="650.4" r="3" fill="none" stroke="#cf3a3a" stroke-width="1.15"/><circle cx="608.83" cy="662.5" r="3" fill="none" stroke="#cf3a3a" stroke-width="1.15"/><circle cx="609.88" cy="683.7" r="3" fill="none" stroke="#cf3a3a" stroke-width="1.15"/><circle cx="610.9" cy="708.8" r="3" fill="none" stroke="#cf3a3a" stroke-width="1.15"/><circle cx="611.89" cy="764.5" r="3" fill="none" stroke="#cf3a3a" stroke-width="1.15"/></g><g clip-path="url(#cf)"><path d="M428.24,607.7L488.03,597.8L509.56,607.7L522.99,616.5L532.79,623.8L540.5,632.6L546.85,638.4L552.27,652.3L556.98,659.6L561.15,674.5L564.89,683L568.28,713.8L571.38,730.7L574.24,764.6L576.89,742.4L579.36,742.4L581.68,730.3L583.85,720.8L585.91,714.7L587.85,720.8L589.69,714.3L591.45,714.3L593.12,714.3L594.73,720.8L596.26,720.8L597.73,730.3L599.15,742.4L600.51,764.6L601.82,764.6" fill="none" stroke="#2a6fd2" stroke-width="1" stroke-linejoin="round"/><path d="M428.24,604.4L431.14,609.3H425.34Z" fill="none" stroke="#2a6fd2" stroke-width="1.15"/><path d="M488.03,594.5L490.93,599.4H485.13Z" fill="none" stroke="#2a6fd2" stroke-width="1.15"/><path d="M509.56,604.4L512.46,609.3H506.66Z" fill="none" stroke="#2a6fd2" stroke-width="1.15"/><path d="M522.99,613.2L525.89,618.1H520.09Z" fill="none" stroke="#2a6fd2" stroke-width="1.15"/><path d="M532.79,620.5L535.69,625.4H529.89Z" fill="none" stroke="#2a6fd2" stroke-width="1.15"/><path d="M540.5,629.3L543.4,634.2H537.6Z" fill="none" stroke="#2a6fd2" stroke-width="1.15"/><path d="M546.85,635.1L549.75,640H543.95Z" fill="none" stroke="#2a6fd2" stroke-width="1.15"/><path d="M552.27,649L555.17,653.9H549.37Z" fill="none" stroke="#2a6fd2" stroke-width="1.15"/><path d="M556.98,656.3L559.88,661.2H554.08Z" fill="none" stroke="#2a6fd2" stroke-width="1.15"/><path d="M561.15,671.2L564.05,676.1H558.25Z" fill="none" stroke="#2a6fd2" stroke-width="1.15"/><path d="M564.89,679.7L567.79,684.6H561.99Z" fill="none" stroke="#2a6fd2" stroke-width="1.15"/><path d="M568.28,710.5L571.18,715.4H565.38Z" fill="none" stroke="#2a6fd2" stroke-width="1.15"/><path d="M571.38,727.4L574.28,732.3H568.48Z" fill="none" stroke="#2a6fd2" stroke-width="1.15"/><path d="M574.24,761.3L577.14,766.2H571.34Z" fill="none" stroke="#2a6fd2" stroke-width="1.15"/><path d="M576.89,739.1L579.79,744H573.99Z" fill="none" stroke="#2a6fd2" stroke-width="1.15"/><path d="M579.36,739.1L582.26,744H576.46Z" fill="none" stroke="#2a6fd2" stroke-width="1.15"/><path d="M581.68,727L584.58,731.9H578.78Z" fill="none" stroke="#2a6fd2" stroke-width="1.15"/><path d="M583.85,717.5L586.75,722.4H580.95Z" fill="none" stroke="#2a6fd2" stroke-width="1.15"/><path d="M585.91,711.4L588.81,716.3H583.01Z" fill="none" stroke="#2a6fd2" stroke-width="1.15"/><path d="M587.85,717.5L590.75,722.4H584.95Z" fill="none" stroke="#2a6fd2" stroke-width="1.15"/><path d="M589.69,711L592.59,715.9H586.79Z" fill="none" stroke="#2a6fd2" stroke-width="1.15"/><path d="M591.45,711L594.35,715.9H588.55Z" fill="none" stroke="#2a6fd2" stroke-width="1.15"/><path d="M593.12,711L596.02,715.9H590.22Z" fill="none" stroke="#2a6fd2" stroke-width="1.15"/><path d="M594.73,717.5L597.63,722.4H591.83Z" fill="none" stroke="#2a6fd2" stroke-width="1.15"/><path d="M596.26,717.5L599.16,722.4H593.36Z" fill="none" stroke="#2a6fd2" stroke-width="1.15"/><path d="M597.73,727L600.63,731.9H594.83Z" fill="none" stroke="#2a6fd2" stroke-width="1.15"/><path d="M599.15,739.1L602.05,744H596.25Z" fill="none" stroke="#2a6fd2" stroke-width="1.15"/><path d="M600.51,761.3L603.41,766.2H597.61Z" fill="none" stroke="#2a6fd2" stroke-width="1.15"/><path d="M601.82,761.3L604.72,766.2H598.92Z" fill="none" stroke="#2a6fd2" stroke-width="1.15"/></g><g clip-path="url(#cf)"><path d="M428.24,610.7L469.23,596.6L488.03,596.1L500.36,604.4L509.56,618.9L516.89,638.4L522.99,654.9L528.22,669.6L532.79,699.3L536.85,730.4L540.5,764.4" fill="none" stroke="#3a9c3a" stroke-width="1" stroke-linejoin="round"/><path d="M428.24,614L431.14,609.1H425.34Z" fill="none" stroke="#3a9c3a" stroke-width="1.15"/><path d="M469.23,599.9L472.13,595H466.33Z" fill="none" stroke="#3a9c3a" stroke-width="1.15"/><path d="M488.03,599.4L490.93,594.5H485.13Z" fill="none" stroke="#3a9c3a" stroke-width="1.15"/><path d="M500.36,607.7L503.26,602.8H497.46Z" fill="none" stroke="#3a9c3a" stroke-width="1.15"/><path d="M509.56,622.2L512.46,617.3H506.66Z" fill="none" stroke="#3a9c3a" stroke-width="1.15"/><path d="M516.89,641.7L519.79,636.8H513.99Z" fill="none" stroke="#3a9c3a" stroke-width="1.15"/><path d="M522.99,658.2L525.89,653.3H520.09Z" fill="none" stroke="#3a9c3a" stroke-width="1.15"/><path d="M528.22,672.9L531.12,668H525.32Z" fill="none" stroke="#3a9c3a" stroke-width="1.15"/><path d="M532.79,702.6L535.69,697.7H529.89Z" fill="none" stroke="#3a9c3a" stroke-width="1.15"/><path d="M536.85,733.7L539.75,728.8H533.95Z" fill="none" stroke="#3a9c3a" stroke-width="1.15"/><path d="M540.5,767.7L543.4,762.8H537.6Z" fill="none" stroke="#3a9c3a" stroke-width="1.15"/></g></svg></body></html>
